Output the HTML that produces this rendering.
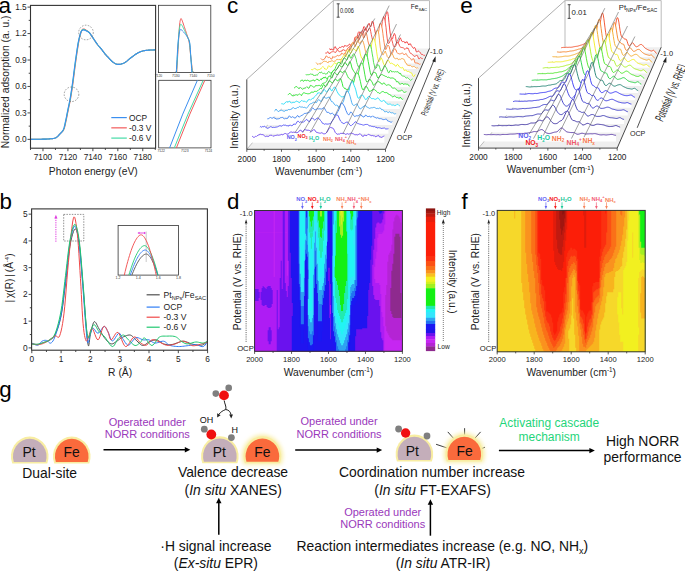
<!DOCTYPE html>
<html><head><meta charset="utf-8"><style>html,body{margin:0;padding:0;background:#fff;width:685px;height:573px;overflow:hidden}svg{display:block;font-family:"Liberation Sans",sans-serif}</style></head>
<body><svg width="685" height="573" viewBox="0 0 685 573" font-family="'Liberation Sans', sans-serif">
<defs><filter id="blur2" x="-50%" y="-50%" width="200%" height="200%"><feGaussianBlur stdDeviation="2.2"/></filter></defs>
<rect width="685" height="573" fill="#fff"/>
<polyline points="30.5,139.35 31.91,139.33 33.92,139.31 36.27,139.28 38.72,139.25 41.04,139.22 42.98,139.17 44.55,139.13 45.98,139.08 47.26,139.02 48.43,138.96 49.49,138.89 50.46,138.82 51.31,138.75 52.03,138.68 52.64,138.61 53.19,138.52 53.69,138.42 54.2,138.29 54.68,138.16 55.1,138.03 55.49,137.88 55.87,137.69 56.26,137.46 56.7,137.15 57.17,136.76 57.66,136.31 58.17,135.81 58.69,135.26 59.24,134.67 59.82,134.06 60.45,133.44 61.13,132.82 61.84,132.16 62.54,131.43 63.19,130.61 63.75,129.65 64.2,128.59 64.57,127.43 64.9,126.18 65.2,124.82 65.51,123.34 65.87,121.72 66.27,119.89 66.69,117.83 67.12,115.66 67.55,113.46 67.97,111.33 68.36,109.38 68.72,107.67 69.05,106.15 69.37,104.7 69.68,103.21 70.01,101.57 70.36,99.68 70.73,97.57 71.1,95.34 71.49,92.96 71.89,90.41 72.3,87.66 72.73,84.7 73.18,81.39 73.65,77.74 74.14,73.9 74.63,70.01 75.12,66.21 75.6,62.66 76.07,59.25 76.56,55.85 77.04,52.54 77.51,49.43 77.94,46.6 78.34,44.15 78.69,42.15 79,40.53 79.29,39.2 79.55,38.05 79.82,36.99 80.09,35.9 80.36,34.82 80.64,33.8 80.9,32.87 81.17,32.04 81.44,31.3 81.71,30.67 81.98,30.15 82.23,29.74 82.49,29.43 82.76,29.21 83.06,29.06 83.39,28.99 83.77,29 84.17,29.1 84.61,29.29 85.06,29.53 85.53,29.81 86.01,30.11 86.53,30.44 87.07,30.81 87.64,31.21 88.2,31.65 88.75,32.12 89.26,32.62 89.73,33.15 90.18,33.72 90.61,34.32 91.03,34.95 91.45,35.58 91.88,36.21 92.3,36.84 92.72,37.48 93.14,38.12 93.57,38.78 94.02,39.46 94.5,40.18 95.01,40.94 95.55,41.75 96.11,42.58 96.69,43.41 97.27,44.24 97.87,45.03 98.47,45.78 99.08,46.51 99.71,47.23 100.35,47.95 100.98,48.68 101.61,49.44 102.24,50.23 102.87,51.07 103.51,51.92 104.14,52.75 104.76,53.55 105.35,54.29 105.92,54.95 106.45,55.55 106.98,56.12 107.5,56.67 108.04,57.23 108.59,57.81 109.18,58.44 109.78,59.09 110.39,59.75 111.01,60.38 111.62,60.98 112.21,61.51 112.79,61.98 113.37,62.41 113.94,62.8 114.5,63.15 115.05,63.45 115.58,63.72 116.08,63.94 116.56,64.11 117.03,64.24 117.49,64.33 117.96,64.39 118.45,64.42 118.95,64.42 119.45,64.38 119.95,64.31 120.47,64.2 121.01,64.06 121.57,63.89 122.14,63.71 122.72,63.51 123.32,63.27 123.95,62.99 124.61,62.64 125.31,62.22 126.07,61.69 126.88,61.06 127.73,60.36 128.59,59.64 129.45,58.92 130.3,58.25 131.13,57.61 131.96,56.96 132.8,56.32 133.63,55.7 134.46,55.11 135.29,54.55 136.12,54.02 136.95,53.51 137.79,53.03 138.62,52.59 139.45,52.18 140.28,51.82 141.11,51.5 141.94,51.24 142.78,51.01 143.61,50.82 144.44,50.65 145.27,50.49 146.1,50.37 146.93,50.27 147.77,50.2 148.6,50.15 149.43,50.1 150.26,50.05 151.15,50.01 152.11,49.97 153.07,49.94 153.96,49.91 154.71,49.89 155.25,49.88" fill="none" stroke="#f25a5a" stroke-width="1.1" stroke-linejoin="round" />
<polyline points="30.5,139.35 31.91,139.33 33.92,139.31 36.27,139.28 38.72,139.25 41.04,139.22 42.98,139.17 44.55,139.13 45.98,139.08 47.26,139.02 48.43,138.96 49.49,138.89 50.46,138.82 51.31,138.75 52.03,138.68 52.64,138.61 53.19,138.52 53.69,138.42 54.2,138.29 54.68,138.16 55.1,138.03 55.49,137.88 55.87,137.69 56.26,137.46 56.7,137.15 57.17,136.76 57.67,136.31 58.18,135.81 58.71,135.26 59.26,134.67 59.82,134.06 60.42,133.44 61.06,132.82 61.72,132.16 62.36,131.43 62.97,130.61 63.5,129.65 63.94,128.59 64.3,127.43 64.63,126.18 64.94,124.82 65.26,123.34 65.62,121.72 66.02,119.89 66.44,117.83 66.87,115.66 67.3,113.46 67.72,111.33 68.11,109.38 68.47,107.67 68.8,106.15 69.12,104.7 69.43,103.21 69.76,101.57 70.11,99.68 70.48,97.57 70.85,95.34 71.24,92.96 71.64,90.41 72.05,87.66 72.48,84.7 72.93,81.39 73.4,77.74 73.89,73.9 74.38,70.01 74.87,66.21 75.35,62.66 75.82,59.25 76.31,55.84 76.79,52.53 77.26,49.42 77.69,46.59 78.09,44.15 78.44,42.16 78.75,40.57 79.04,39.26 79.3,38.14 79.57,37.11 79.84,36.06 80.11,35 80.38,34.02 80.64,33.13 80.9,32.32 81.17,31.62 81.46,31.02 81.76,30.53 82.06,30.16 82.36,29.89 82.69,29.71 83.03,29.59 83.39,29.52 83.78,29.51 84.19,29.59 84.62,29.74 85.07,29.94 85.53,30.18 86.01,30.43 86.53,30.71 87.07,31.03 87.64,31.38 88.2,31.76 88.75,32.19 89.26,32.65 89.73,33.16 90.18,33.73 90.61,34.32 91.03,34.95 91.45,35.58 91.88,36.21 92.3,36.84 92.72,37.47 93.14,38.12 93.57,38.78 94.02,39.46 94.5,40.18 95.01,40.94 95.55,41.75 96.11,42.58 96.69,43.41 97.27,44.24 97.87,45.03 98.47,45.78 99.08,46.51 99.71,47.23 100.35,47.95 100.98,48.68 101.61,49.44 102.24,50.23 102.87,51.07 103.51,51.92 104.14,52.75 104.76,53.55 105.35,54.29 105.92,54.95 106.45,55.55 106.98,56.12 107.5,56.67 108.04,57.23 108.59,57.81 109.18,58.44 109.78,59.09 110.39,59.75 111.01,60.38 111.62,60.98 112.21,61.51 112.79,61.98 113.37,62.41 113.94,62.8 114.5,63.15 115.05,63.45 115.58,63.72 116.08,63.94 116.56,64.11 117.03,64.24 117.49,64.33 117.96,64.39 118.45,64.42 118.95,64.42 119.45,64.38 119.95,64.31 120.47,64.2 121.01,64.06 121.57,63.89 122.14,63.71 122.72,63.51 123.32,63.27 123.95,62.99 124.61,62.64 125.31,62.22 126.07,61.69 126.88,61.06 127.73,60.36 128.59,59.64 129.45,58.92 130.3,58.25 131.13,57.61 131.96,56.96 132.8,56.32 133.63,55.7 134.46,55.11 135.29,54.55 136.12,54.02 136.95,53.51 137.79,53.03 138.62,52.59 139.45,52.18 140.28,51.82 141.11,51.5 141.94,51.24 142.78,51.01 143.61,50.82 144.44,50.65 145.27,50.49 146.1,50.37 146.93,50.27 147.77,50.2 148.6,50.15 149.43,50.1 150.26,50.05 151.15,50.01 152.11,49.97 153.07,49.94 153.96,49.91 154.71,49.89 155.25,49.88" fill="none" stroke="#45dba6" stroke-width="1.1" stroke-linejoin="round" />
<polyline points="30.5,139.35 31.91,139.33 33.92,139.31 36.27,139.28 38.72,139.25 41.04,139.22 42.98,139.17 44.55,139.13 45.98,139.08 47.26,139.02 48.43,138.96 49.49,138.89 50.46,138.82 51.31,138.75 52.03,138.68 52.64,138.61 53.19,138.52 53.69,138.42 54.2,138.29 54.68,138.16 55.1,138.03 55.49,137.88 55.87,137.69 56.26,137.46 56.7,137.15 57.18,136.76 57.68,136.31 58.19,135.81 58.73,135.26 59.27,134.67 59.82,134.06 60.39,133.44 61,132.82 61.63,132.16 62.23,131.43 62.8,130.61 63.31,129.65 63.74,128.59 64.1,127.43 64.43,126.18 64.75,124.82 65.07,123.34 65.43,121.72 65.83,119.89 66.25,117.83 66.69,115.66 67.12,113.46 67.53,111.33 67.93,109.38 68.28,107.67 68.61,106.15 68.93,104.7 69.25,103.21 69.57,101.57 69.92,99.68 70.29,97.57 70.66,95.34 71.05,92.96 71.45,90.41 71.86,87.66 72.29,84.7 72.74,81.39 73.22,77.74 73.7,73.9 74.19,70.01 74.68,66.21 75.16,62.66 75.64,59.25 76.12,55.84 76.6,52.52 77.07,49.4 77.51,46.58 77.91,44.15 78.26,42.18 78.57,40.61 78.85,39.33 79.12,38.24 79.38,37.24 79.65,36.21 79.92,35.19 80.18,34.24 80.44,33.38 80.7,32.61 80.98,31.93 81.27,31.37 81.59,30.92 81.92,30.59 82.27,30.36 82.63,30.2 83.01,30.11 83.39,30.04 83.79,30.03 84.21,30.08 84.63,30.19 85.08,30.35 85.54,30.54 86.01,30.75 86.53,30.98 87.07,31.25 87.64,31.54 88.2,31.88 88.75,32.26 89.26,32.69 89.73,33.18 90.18,33.73 90.61,34.32 91.03,34.95 91.45,35.58 91.88,36.21 92.3,36.84 92.72,37.47 93.14,38.12 93.57,38.78 94.02,39.46 94.5,40.18 95.01,40.94 95.55,41.75 96.11,42.58 96.69,43.41 97.27,44.24 97.87,45.03 98.47,45.78 99.08,46.51 99.71,47.23 100.35,47.95 100.98,48.68 101.61,49.44 102.24,50.23 102.87,51.07 103.51,51.92 104.14,52.75 104.76,53.55 105.35,54.29 105.92,54.95 106.45,55.55 106.98,56.12 107.5,56.67 108.04,57.23 108.59,57.81 109.18,58.44 109.78,59.09 110.39,59.75 111.01,60.38 111.62,60.98 112.21,61.51 112.79,61.98 113.37,62.41 113.94,62.8 114.5,63.15 115.05,63.45 115.58,63.72 116.08,63.94 116.56,64.11 117.03,64.24 117.49,64.33 117.96,64.39 118.45,64.42 118.95,64.42 119.45,64.38 119.95,64.31 120.47,64.2 121.01,64.06 121.57,63.89 122.14,63.71 122.72,63.51 123.32,63.27 123.95,62.99 124.61,62.64 125.31,62.22 126.07,61.69 126.88,61.06 127.73,60.36 128.59,59.64 129.45,58.92 130.3,58.25 131.13,57.61 131.96,56.96 132.8,56.32 133.63,55.7 134.46,55.11 135.29,54.55 136.12,54.02 136.95,53.51 137.79,53.03 138.62,52.59 139.45,52.18 140.28,51.82 141.11,51.5 141.94,51.24 142.78,51.01 143.61,50.82 144.44,50.65 145.27,50.49 146.1,50.37 146.93,50.27 147.77,50.2 148.6,50.15 149.43,50.1 150.26,50.05 151.15,50.01 152.11,49.97 153.07,49.94 153.96,49.91 154.71,49.89 155.25,49.88" fill="none" stroke="#3b8ff0" stroke-width="1.1" stroke-linejoin="round" />
<circle cx="86" cy="32.5" r="7.3" fill="none" stroke="#777" stroke-width="0.7" stroke-dasharray="1.6,1.4"/>
<circle cx="71.5" cy="94.3" r="7.3" fill="none" stroke="#777" stroke-width="0.7" stroke-dasharray="1.6,1.4"/>
<rect x="30.5" y="5.4" width="125.1" height="142.8" fill="none" stroke="#333" stroke-width="1.1"/>
<line x1="27.5" y1="139.35" x2="30.5" y2="139.35" stroke="#333" stroke-width="0.9" />
<text x="26.7" y="142.25" font-size="8.3" text-anchor="end" fill="#222" >0.0</text>
<line x1="28.7" y1="126.13" x2="30.5" y2="126.13" stroke="#333" stroke-width="0.9" />
<line x1="27.5" y1="112.91" x2="30.5" y2="112.91" stroke="#333" stroke-width="0.9" />
<text x="26.7" y="115.81" font-size="8.3" text-anchor="end" fill="#222" >0.3</text>
<line x1="28.7" y1="99.68" x2="30.5" y2="99.68" stroke="#333" stroke-width="0.9" />
<line x1="27.5" y1="86.46" x2="30.5" y2="86.46" stroke="#333" stroke-width="0.9" />
<text x="26.7" y="89.36" font-size="8.3" text-anchor="end" fill="#222" >0.6</text>
<line x1="28.7" y1="73.24" x2="30.5" y2="73.24" stroke="#333" stroke-width="0.9" />
<line x1="27.5" y1="60.02" x2="30.5" y2="60.02" stroke="#333" stroke-width="0.9" />
<text x="26.7" y="62.91" font-size="8.3" text-anchor="end" fill="#222" >0.9</text>
<line x1="28.7" y1="46.79" x2="30.5" y2="46.79" stroke="#333" stroke-width="0.9" />
<line x1="27.5" y1="33.57" x2="30.5" y2="33.57" stroke="#333" stroke-width="0.9" />
<text x="26.7" y="36.47" font-size="8.3" text-anchor="end" fill="#222" >1.2</text>
<line x1="28.7" y1="20.35" x2="30.5" y2="20.35" stroke="#333" stroke-width="0.9" />
<line x1="27.5" y1="7.12" x2="30.5" y2="7.12" stroke="#333" stroke-width="0.9" />
<text x="26.7" y="10.02" font-size="8.3" text-anchor="end" fill="#222" >1.5</text>
<line x1="30.5" y1="148.2" x2="30.5" y2="150" stroke="#333" stroke-width="0.9" />
<line x1="42.98" y1="148.2" x2="42.98" y2="151.2" stroke="#333" stroke-width="0.9" />
<text x="42.98" y="159.8" font-size="8.3" text-anchor="middle" fill="#222" >7100</text>
<line x1="55.45" y1="148.2" x2="55.45" y2="150" stroke="#333" stroke-width="0.9" />
<line x1="67.93" y1="148.2" x2="67.93" y2="151.2" stroke="#333" stroke-width="0.9" />
<text x="67.93" y="159.8" font-size="8.3" text-anchor="middle" fill="#222" >7120</text>
<line x1="80.4" y1="148.2" x2="80.4" y2="150" stroke="#333" stroke-width="0.9" />
<line x1="92.88" y1="148.2" x2="92.88" y2="151.2" stroke="#333" stroke-width="0.9" />
<text x="92.88" y="159.8" font-size="8.3" text-anchor="middle" fill="#222" >7140</text>
<line x1="105.35" y1="148.2" x2="105.35" y2="150" stroke="#333" stroke-width="0.9" />
<line x1="117.83" y1="148.2" x2="117.83" y2="151.2" stroke="#333" stroke-width="0.9" />
<text x="117.83" y="159.8" font-size="8.3" text-anchor="middle" fill="#222" >7160</text>
<line x1="130.3" y1="148.2" x2="130.3" y2="150" stroke="#333" stroke-width="0.9" />
<line x1="142.78" y1="148.2" x2="142.78" y2="151.2" stroke="#333" stroke-width="0.9" />
<text x="142.78" y="159.8" font-size="8.3" text-anchor="middle" fill="#222" >7180</text>
<line x1="155.25" y1="148.2" x2="155.25" y2="150" stroke="#333" stroke-width="0.9" />
<text x="93.3" y="174.8" font-size="10.25" text-anchor="middle" fill="#222" >Photon energy (eV)</text>
<text x="9.4" y="81.9" font-size="10.3" text-anchor="middle" fill="#222" transform="rotate(-90 9.4 81.9)">Normalized adsorption (a. u.)</text>
<line x1="111.3" y1="117.6" x2="126.8" y2="117.6" stroke="#3b8ff0" stroke-width="1.2" />
<text x="129" y="120.5" font-size="8.35" fill="#222" >OCP</text>
<line x1="111.3" y1="127.85" x2="126.8" y2="127.85" stroke="#f25a5a" stroke-width="1.2" />
<text x="129" y="130.75" font-size="8.35" fill="#222" >-0.3 V</text>
<line x1="111.3" y1="138.1" x2="126.8" y2="138.1" stroke="#45dba6" stroke-width="1.2" />
<text x="129" y="141" font-size="8.35" fill="#222" >-0.6 V</text>
<rect x="158.4" y="5.3" width="52.4" height="67.3" fill="#fff" stroke="#333" stroke-width="0.8"/>
<polyline points="176.7,72.6 176.88,69.5 177.13,65.13 177.43,59.99 177.74,54.59 178.04,49.42 178.3,45 178.52,41.2 178.73,37.59 178.93,34.22 179.11,31.13 179.3,28.38 179.5,26 179.7,24.03 179.9,22.44 180.09,21.18 180.29,20.2 180.49,19.46 180.7,18.9 180.9,18.57 181.09,18.53 181.29,18.71 181.5,19.09 181.73,19.6 182,20.2 182.31,20.94 182.64,21.85 183.01,22.91 183.39,24.06 183.79,25.27 184.2,26.5 184.64,27.79 185.11,29.2 185.61,30.66 186.1,32.13 186.57,33.56 187,34.9 187.4,36.08 187.77,37.11 188.13,38.11 188.47,39.17 188.79,40.4 189.1,41.9 189.38,43.68 189.63,45.65 189.86,47.79 190.09,50.07 190.33,52.49 190.6,55 190.93,57.88 191.3,61.19 191.69,64.62 192.06,67.87 192.38,70.63 192.6,72.6" fill="none" stroke="#f25a5a" stroke-width="1.0" stroke-linejoin="round" />
<polyline points="176.5,72.6 176.68,69.46 176.93,65.01 177.22,59.8 177.53,54.36 177.83,49.25 178.1,45 178.33,41.53 178.56,38.39 178.77,35.56 178.98,33.06 179.19,30.87 179.4,29 179.61,27.5 179.82,26.39 180.03,25.6 180.24,25.05 180.47,24.68 180.7,24.4 180.94,24.27 181.19,24.37 181.44,24.63 181.71,25.02 182,25.49 182.3,26 182.62,26.56 182.97,27.23 183.32,27.98 183.7,28.78 184.09,29.63 184.5,30.5 184.94,31.41 185.41,32.39 185.9,33.4 186.39,34.44 186.86,35.48 187.3,36.5 187.71,37.43 188.11,38.26 188.5,39.09 188.86,40.02 189.2,41.16 189.5,42.6 189.75,44.37 189.96,46.41 190.14,48.64 190.31,51.03 190.49,53.5 190.7,56 190.96,58.77 191.26,61.91 191.57,65.14 191.87,68.18 192.12,70.76 192.3,72.6" fill="none" stroke="#45dba6" stroke-width="1.0" stroke-linejoin="round" />
<polyline points="176.3,72.6 176.48,69.42 176.72,64.87 177.01,59.55 177.32,54.07 177.63,49.02 177.9,45 178.14,42 178.38,39.54 178.61,37.51 178.84,35.81 179.07,34.34 179.3,33 179.53,31.84 179.75,30.95 179.97,30.29 180.2,29.83 180.44,29.51 180.7,29.3 180.97,29.26 181.25,29.44 181.54,29.76 181.84,30.17 182.16,30.61 182.5,31 182.86,31.35 183.24,31.71 183.64,32.09 184.05,32.51 184.47,32.98 184.9,33.5 185.35,34.09 185.83,34.72 186.32,35.41 186.8,36.13 187.27,36.9 187.7,37.7 188.1,38.46 188.49,39.16 188.86,39.91 189.21,40.78 189.52,41.88 189.8,43.3 190.03,45.09 190.21,47.2 190.36,49.52 190.5,51.99 190.64,54.51 190.8,57 190.99,59.67 191.2,62.64 191.41,65.66 191.61,68.49 191.78,70.88 191.9,72.6" fill="none" stroke="#3b8ff0" stroke-width="1.0" stroke-linejoin="round" />
<line x1="158.4" y1="72.6" x2="158.4" y2="71.4" stroke="#333" stroke-width="0.5" />
<text x="158.4" y="77.2" font-size="3.4" text-anchor="middle" fill="#333" >7120</text>
<line x1="175.87" y1="72.6" x2="175.87" y2="71.4" stroke="#333" stroke-width="0.5" />
<text x="175.87" y="77.2" font-size="3.4" text-anchor="middle" fill="#333" >7130</text>
<line x1="193.33" y1="72.6" x2="193.33" y2="71.4" stroke="#333" stroke-width="0.5" />
<text x="193.33" y="77.2" font-size="3.4" text-anchor="middle" fill="#333" >7140</text>
<line x1="210.8" y1="72.6" x2="210.8" y2="71.4" stroke="#333" stroke-width="0.5" />
<text x="210.8" y="77.2" font-size="3.4" text-anchor="middle" fill="#333" >7150</text>
<rect x="158.7" y="80.3" width="52.3" height="67.6" fill="#fff" stroke="#333" stroke-width="0.8"/>
<path d="M169.6,147.9 Q182,114.1 197.4,80.3" fill="none" stroke="#3b8ff0" stroke-width="1.0"/>
<path d="M174.3,147.9 Q187.25,114.1 203.2,80.3" fill="none" stroke="#45dba6" stroke-width="1.0"/>
<path d="M176.4,147.9 Q189.1,114.1 204.8,80.3" fill="none" stroke="#f25a5a" stroke-width="1.0"/>
<text x="161.2" y="152" font-size="3.4" text-anchor="middle" fill="#333" >7122</text>
<text x="184.8" y="152" font-size="3.4" text-anchor="middle" fill="#333" >7123</text>
<text x="208.4" y="152" font-size="3.4" text-anchor="middle" fill="#333" >7124</text>
<text x="-1.6" y="12.5" font-size="22.5" fill="#000" >a</text>
<polyline points="31.8,343.62 32.44,343.74 33.32,343.93 34.36,344.14 35.49,344.32 36.62,344.43 37.66,344.42 38.64,344.27 39.61,344.01 40.59,343.67 41.57,343.29 42.54,342.91 43.52,342.55 44.5,342.25 45.47,342 46.45,341.73 47.43,341.41 48.4,340.99 49.38,340.41 50.36,339.79 51.33,339.2 52.31,338.5 53.29,337.58 54.26,336.29 55.24,334.52 56.23,332.3 57.25,329.73 58.26,326.8 59.26,323.51 60.21,319.84 61.1,315.8 61.92,311.29 62.67,306.29 63.39,300.92 64.08,295.29 64.78,289.51 65.5,283.7 66.22,277.54 66.93,270.87 67.64,264.06 68.36,257.45 69.11,251.39 69.89,246.25 70.73,241.82 71.63,237.78 72.55,234.3 73.46,231.54 74.34,229.67 75.16,228.86 75.92,229.13 76.63,230.35 77.31,232.46 77.96,235.4 78.61,239.13 79.27,243.57 79.93,249.14 80.59,255.96 81.24,263.55 81.88,271.46 82.49,279.23 83.08,286.38 83.62,293.11 84.14,299.83 84.63,306.4 85.1,312.69 85.56,318.54 86.01,323.82 86.43,328.76 86.84,333.51 87.23,337.84 87.61,341.48 87.98,344.2 88.35,345.76 88.69,345.83 88.99,344.53 89.28,342.32 89.6,339.62 89.96,336.87 90.4,334.52 90.92,332.24 91.5,329.61 92.12,326.93 92.79,324.52 93.49,322.67 94.21,321.69 94.96,321.74 95.75,322.61 96.57,324.04 97.42,325.79 98.3,327.58 99.19,329.17 100.11,330.67 101.07,332.31 102.05,333.99 103.04,335.64 104.05,337.19 105.05,338.54 106.07,339.75 107.1,340.92 108.14,341.96 109.18,342.85 110.21,343.51 111.2,343.89 112.16,343.92 113.09,343.64 114,343.14 114.91,342.5 115.83,341.83 116.77,341.21 117.71,340.6 118.64,339.9 119.57,339.17 120.54,338.45 121.55,337.78 122.63,337.2 123.82,336.65 125.12,336.09 126.46,335.58 127.8,335.19 129.08,334.99 130.25,335.06 131.28,335.45 132.21,336.12 133.09,336.98 133.95,337.95 134.84,338.95 135.81,339.88 136.87,340.87 137.99,342.02 139.13,343.2 140.29,344.26 141.43,345.07 142.55,345.49 143.64,345.42 144.69,344.96 145.74,344.24 146.8,343.41 147.88,342.62 149,342.01 150.17,341.51 151.38,340.97 152.61,340.48 153.85,340.08 155.09,339.86 156.33,339.88 157.55,340.22 158.77,340.88 159.99,341.7 161.21,342.56 162.43,343.33 163.65,343.89 164.87,344.24 166.09,344.5 167.31,344.67 168.53,344.76 169.75,344.76 170.98,344.69 172.21,344.49 173.47,344.16 174.73,343.75 175.97,343.31 177.16,342.89 178.3,342.55 179.34,342.23 180.31,341.9 181.23,341.58 182.15,341.33 183.12,341.19 184.16,341.21 185.3,341.44 186.49,341.86 187.73,342.38 188.99,342.95 190.25,343.47 191.49,343.89 192.74,344.21 194.04,344.5 195.33,344.76 196.59,344.97 197.76,345.13 198.81,345.22 199.71,345.28 200.49,345.29 201.19,345.26 201.85,345.16 202.51,344.97 203.21,344.69 203.99,344.24 204.83,343.62 205.68,342.92 206.46,342.22 207.12,341.62 207.6,341.21" fill="none" stroke="#505050" stroke-width="1.0" stroke-linejoin="round" />
<polyline points="31.8,343.08 32.45,343.39 33.37,343.87 34.46,344.41 35.6,344.89 36.7,345.2 37.66,345.22 38.48,344.88 39.23,344.22 39.95,343.4 40.64,342.54 41.34,341.77 42.05,341.21 42.79,340.85 43.52,340.58 44.25,340.39 44.98,340.3 45.72,340.31 46.45,340.41 47.18,340.77 47.92,341.41 48.65,342.15 49.38,342.8 50.11,343.17 50.84,343.08 51.56,342.62 52.26,341.94 52.95,340.98 53.67,339.69 54.42,338 55.24,335.86 56.15,333.26 57.14,330.23 58.17,326.8 59.2,323.01 60.19,318.89 61.1,314.46 61.92,309.63 62.67,304.36 63.39,298.75 64.08,292.91 64.78,286.97 65.5,281.02 66.22,274.78 66.95,268.1 67.67,261.3 68.4,254.72 69.14,248.7 69.89,243.57 70.66,239.14 71.45,235.1 72.25,231.62 73.05,228.86 73.83,227 74.58,226.19 75.3,226.52 76.01,227.87 76.7,230.12 77.38,233.12 78.04,236.76 78.68,240.9 79.3,245.76 79.91,251.5 80.49,257.87 81.07,264.63 81.63,271.54 82.2,278.35 82.76,285.42 83.32,293.01 83.88,300.75 84.42,308.27 84.94,315.19 85.42,321.15 85.86,326.31 86.25,331.01 86.63,335.11 86.99,338.49 87.37,341.01 87.76,342.55 88.18,342.72 88.61,341.54 89.04,339.51 89.49,337.11 89.94,334.84 90.4,333.19 90.85,332.01 91.29,330.89 91.74,329.89 92.21,329.1 92.74,328.57 93.33,328.37 93.99,328.75 94.71,329.69 95.47,330.9 96.28,332.08 97.13,332.94 98.02,333.19 98.99,332.6 100.05,331.36 101.15,329.81 102.24,328.26 103.26,327.05 104.17,326.5 104.93,326.65 105.59,327.25 106.19,328.19 106.75,329.34 107.34,330.6 107.98,331.85 108.65,333.34 109.33,335.23 110.01,337.22 110.74,339.02 111.52,340.36 112.38,340.94 113.36,340.48 114.47,339.12 115.63,337.3 116.79,335.43 117.88,333.92 118.82,333.19 119.58,333.31 120.21,333.95 120.76,334.96 121.31,336.17 121.91,337.42 122.63,338.54 123.47,339.74 124.38,341.19 125.34,342.68 126.35,344 127.4,344.92 128.49,345.22 129.63,344.69 130.82,343.42 132.06,341.76 133.32,340.04 134.58,338.59 135.81,337.73 137.05,337.56 138.31,337.81 139.57,338.34 140.81,338.96 142,339.53 143.14,339.88 144.2,339.96 145.2,339.91 146.16,339.81 147.1,339.72 148.04,339.71 149,339.88 149.94,340.28 150.84,340.9 151.75,341.6 152.69,342.27 153.71,342.81 154.86,343.08 156.19,343 157.68,342.62 159.25,342.1 160.83,341.59 162.32,341.24 163.65,341.21 164.76,341.57 165.71,342.21 166.58,343.02 167.45,343.87 168.4,344.64 169.51,345.22 170.81,345.63 172.22,345.95 173.72,346.19 175.26,346.37 176.8,346.49 178.3,346.56 179.77,346.56 181.23,346.46 182.69,346.31 184.16,346.13 185.63,345.93 187.09,345.76 188.57,345.56 190.07,345.31 191.58,345.06 193.06,344.84 194.5,344.7 195.88,344.69 197.22,344.92 198.54,345.36 199.82,345.89 201.03,346.36 202.17,346.63 203.21,346.56 204.16,346.03 205.05,345.12 205.86,344 206.57,342.87 207.16,341.88 207.6,341.21" fill="none" stroke="#2f7df5" stroke-width="1.0" stroke-linejoin="round" />
<polyline points="31.8,343.89 32.44,344 33.32,344.17 34.36,344.37 35.49,344.55 36.62,344.67 37.66,344.69 38.64,344.62 39.61,344.48 40.59,344.29 41.57,344.04 42.54,343.72 43.52,343.35 44.5,342.9 45.47,342.37 46.45,341.78 47.43,341.15 48.4,340.51 49.38,339.88 50.37,339.19 51.39,338.43 52.4,337.65 53.4,336.92 54.35,336.31 55.24,335.86 56.06,335.89 56.81,336.41 57.53,337.03 58.22,337.4 58.92,337.13 59.64,335.86 60.37,333.71 61.1,331.01 61.83,327.67 62.57,323.63 63.3,318.8 64.03,313.12 64.76,306.2 65.47,298.02 66.19,289.05 66.92,279.79 67.66,270.71 68.42,262.3 69.23,253.88 70.09,244.91 70.95,236.14 71.81,228.27 72.64,222.04 73.41,218.16 74.12,216.85 74.78,217.57 75.42,219.92 76.03,223.51 76.63,227.96 77.22,232.88 77.79,238.67 78.35,245.75 78.9,253.69 79.43,262.05 79.94,270.41 80.44,278.35 80.91,286.26 81.35,294.57 81.77,302.88 82.2,310.79 82.63,317.9 83.08,323.82 83.55,328.54 84.03,332.37 84.52,335.39 85.02,337.73 85.51,339.45 86.01,340.68 86.49,341.16 86.97,340.78 87.45,339.79 87.94,338.47 88.43,337.07 88.94,335.86 89.42,334.55 89.89,332.86 90.36,331.1 90.88,329.56 91.46,328.55 92.16,328.37 92.99,329.48 93.93,331.72 94.94,334.49 95.99,337.18 97.03,339.18 98.02,339.88 98.98,338.87 99.94,336.57 100.89,333.57 101.83,330.49 102.73,327.93 103.59,326.5 104.4,326.28 105.18,326.8 105.93,327.84 106.65,329.17 107.33,330.59 107.98,331.85 108.54,333.21 109.01,334.9 109.45,336.66 109.91,338.25 110.48,339.4 111.2,339.88 112.11,339.27 113.16,337.73 114.3,335.75 115.5,333.85 116.73,332.56 117.94,332.38 119.15,333.77 120.38,336.39 121.64,339.61 122.92,342.8 124.23,345.33 125.56,346.56 126.95,346.16 128.41,344.55 129.9,342.28 131.37,339.89 132.77,337.93 134.06,336.93 135.22,337.02 136.29,337.78 137.3,338.97 138.27,340.33 139.23,341.61 140.21,342.55 141.2,343.26 142.19,343.96 143.16,344.57 144.13,345.04 145.1,345.28 146.07,345.22 147.05,344.72 148.02,343.79 149,342.63 149.98,341.46 150.95,340.47 151.93,339.88 152.87,339.68 153.77,339.73 154.68,339.96 155.62,340.32 156.64,340.76 157.79,341.21 159.09,341.79 160.5,342.55 162,343.39 163.54,344.18 165.08,344.83 166.58,345.22 168.08,345.33 169.62,345.22 171.16,344.97 172.66,344.63 174.07,344.25 175.37,343.89 176.52,343.47 177.54,342.95 178.48,342.38 179.39,341.86 180.29,341.44 181.23,341.21 182.21,341.18 183.18,341.29 184.16,341.51 185.14,341.82 186.11,342.17 187.09,342.55 188.03,343.04 188.93,343.67 189.84,344.36 190.78,345 191.8,345.5 192.95,345.76 194.28,345.74 195.77,345.51 197.34,345.14 198.92,344.7 200.41,344.26 201.74,343.89 202.95,343.55 204.13,343.19 205.22,342.83 206.19,342.5 207,342.22 207.6,342.01" fill="none" stroke="#f04848" stroke-width="1.0" stroke-linejoin="round" />
<polyline points="31.8,344.15 32.44,344.17 33.32,344.21 34.36,344.26 35.49,344.27 36.62,344.25 37.66,344.15 38.64,343.99 39.61,343.78 40.59,343.52 41.57,343.22 42.54,342.9 43.52,342.55 44.5,342.21 45.47,341.89 46.45,341.53 47.43,341.1 48.4,340.57 49.38,339.88 50.36,339.18 51.33,338.54 52.31,337.79 53.29,336.75 54.26,335.28 55.24,333.19 56.23,330.47 57.25,327.24 58.26,323.57 59.26,319.52 60.21,315.12 61.1,310.45 61.92,305.35 62.67,299.75 63.39,293.81 64.08,287.71 64.78,281.61 65.5,275.67 66.22,269.67 66.94,263.41 67.66,257.15 68.38,251.14 69.12,245.64 69.89,240.9 70.69,236.7 71.53,232.8 72.38,229.4 73.23,226.71 74.07,224.95 74.87,224.31 75.64,224.86 76.4,226.42 77.14,228.9 77.87,232.2 78.57,236.23 79.27,240.9 79.94,246.52 80.6,253.22 81.24,260.66 81.87,268.46 82.48,276.26 83.08,283.7 83.66,291.2 84.23,299.13 84.78,307.06 85.31,314.55 85.82,321.18 86.3,326.5 86.74,330.45 87.14,333.36 87.52,335.39 87.89,336.73 88.26,337.55 88.64,338 89.02,337.83 89.39,336.85 89.76,335.34 90.14,333.59 90.54,331.89 90.99,330.51 91.45,329.29 91.93,327.95 92.43,326.65 92.97,325.56 93.56,324.83 94.21,324.63 94.93,325.1 95.72,326.14 96.55,327.55 97.42,329.12 98.31,330.62 99.19,331.85 100.06,332.77 100.93,333.53 101.81,334.24 102.73,334.98 103.7,335.85 104.76,336.93 105.93,338.48 107.21,340.46 108.55,342.57 109.89,344.49 111.18,345.93 112.38,346.56 113.46,346.19 114.48,345.03 115.45,343.37 116.39,341.53 117.31,339.82 118.23,338.54 119.15,337.6 120.05,336.73 120.93,336 121.79,335.44 122.65,335.11 123.51,335.06 124.34,335.37 125.14,336.02 125.93,336.9 126.73,337.9 127.58,338.93 128.49,339.88 129.49,340.86 130.57,342.01 131.69,343.17 132.82,344.22 133.91,345.04 134.94,345.49 135.89,345.52 136.81,345.21 137.7,344.66 138.56,343.97 139.4,343.23 140.21,342.55 140.96,341.75 141.63,340.71 142.28,339.62 142.96,338.69 143.71,338.08 144.61,338 145.66,338.74 146.83,340.19 148.08,341.98 149.38,343.72 150.68,345.02 151.93,345.49 153.15,344.94 154.37,343.63 155.59,341.88 156.81,340.01 158.03,338.35 159.25,337.2 160.46,336.59 161.64,336.25 162.83,336.11 164.03,336.1 165.27,336.13 166.58,336.13 167.99,336.08 169.51,336.04 171.07,336.05 172.6,336.13 174.06,336.33 175.37,336.66 176.52,337.21 177.54,337.95 178.48,338.8 179.39,339.69 180.29,340.52 181.23,341.21 182.17,341.82 183.07,342.41 183.98,342.95 184.92,343.4 185.94,343.73 187.09,343.89 188.4,343.8 189.86,343.49 191.39,343.05 192.95,342.59 194.47,342.21 195.88,342.01 197.22,342.06 198.54,342.27 199.82,342.57 201.03,342.86 202.17,343.06 203.21,343.08 204.16,342.89 205.05,342.53 205.86,342.08 206.57,341.62 207.16,341.21 207.6,340.94" fill="none" stroke="#20c870" stroke-width="1.0" stroke-linejoin="round" />
<rect x="31.6" y="208.9" width="175.8" height="141.3" fill="none" stroke="#333" stroke-width="1.1"/>
<line x1="28.6" y1="347.9" x2="31.6" y2="347.9" stroke="#333" stroke-width="0.9" />
<text x="27.6" y="350.8" font-size="8.3" text-anchor="end" fill="#222" >0</text>
<line x1="29.8" y1="334.52" x2="31.6" y2="334.52" stroke="#333" stroke-width="0.9" />
<line x1="28.6" y1="321.15" x2="31.6" y2="321.15" stroke="#333" stroke-width="0.9" />
<text x="27.6" y="324.05" font-size="8.3" text-anchor="end" fill="#222" >1</text>
<line x1="29.8" y1="307.77" x2="31.6" y2="307.77" stroke="#333" stroke-width="0.9" />
<line x1="28.6" y1="294.4" x2="31.6" y2="294.4" stroke="#333" stroke-width="0.9" />
<text x="27.6" y="297.3" font-size="8.3" text-anchor="end" fill="#222" >2</text>
<line x1="29.8" y1="281.02" x2="31.6" y2="281.02" stroke="#333" stroke-width="0.9" />
<line x1="28.6" y1="267.65" x2="31.6" y2="267.65" stroke="#333" stroke-width="0.9" />
<text x="27.6" y="270.55" font-size="8.3" text-anchor="end" fill="#222" >3</text>
<line x1="29.8" y1="254.27" x2="31.6" y2="254.27" stroke="#333" stroke-width="0.9" />
<line x1="28.6" y1="240.9" x2="31.6" y2="240.9" stroke="#333" stroke-width="0.9" />
<text x="27.6" y="243.8" font-size="8.3" text-anchor="end" fill="#222" >4</text>
<line x1="29.8" y1="227.52" x2="31.6" y2="227.52" stroke="#333" stroke-width="0.9" />
<line x1="28.6" y1="214.15" x2="31.6" y2="214.15" stroke="#333" stroke-width="0.9" />
<text x="27.6" y="217.05" font-size="8.3" text-anchor="end" fill="#222" >5</text>
<line x1="31.8" y1="350.2" x2="31.8" y2="353.2" stroke="#333" stroke-width="0.9" />
<text x="31.8" y="361.6" font-size="8.3" text-anchor="middle" fill="#222" >0</text>
<line x1="46.45" y1="350.2" x2="46.45" y2="352" stroke="#333" stroke-width="0.9" />
<line x1="61.1" y1="350.2" x2="61.1" y2="353.2" stroke="#333" stroke-width="0.9" />
<text x="61.1" y="361.6" font-size="8.3" text-anchor="middle" fill="#222" >1</text>
<line x1="75.75" y1="350.2" x2="75.75" y2="352" stroke="#333" stroke-width="0.9" />
<line x1="90.4" y1="350.2" x2="90.4" y2="353.2" stroke="#333" stroke-width="0.9" />
<text x="90.4" y="361.6" font-size="8.3" text-anchor="middle" fill="#222" >2</text>
<line x1="105.05" y1="350.2" x2="105.05" y2="352" stroke="#333" stroke-width="0.9" />
<line x1="119.7" y1="350.2" x2="119.7" y2="353.2" stroke="#333" stroke-width="0.9" />
<text x="119.7" y="361.6" font-size="8.3" text-anchor="middle" fill="#222" >3</text>
<line x1="134.35" y1="350.2" x2="134.35" y2="352" stroke="#333" stroke-width="0.9" />
<line x1="149" y1="350.2" x2="149" y2="353.2" stroke="#333" stroke-width="0.9" />
<text x="149" y="361.6" font-size="8.3" text-anchor="middle" fill="#222" >4</text>
<line x1="163.65" y1="350.2" x2="163.65" y2="352" stroke="#333" stroke-width="0.9" />
<line x1="178.3" y1="350.2" x2="178.3" y2="353.2" stroke="#333" stroke-width="0.9" />
<text x="178.3" y="361.6" font-size="8.3" text-anchor="middle" fill="#222" >5</text>
<line x1="192.95" y1="350.2" x2="192.95" y2="352" stroke="#333" stroke-width="0.9" />
<line x1="207.6" y1="350.2" x2="207.6" y2="353.2" stroke="#333" stroke-width="0.9" />
<text x="207.6" y="361.6" font-size="8.3" text-anchor="middle" fill="#222" >6</text>
<text x="120.1" y="375.8" font-size="10.3" text-anchor="middle" fill="#222" >R (Å)</text>
<text x="12.8" y="278" font-size="10" text-anchor="middle" fill="#222" transform="rotate(-90 12.8 278)">|&#8201;χ(R)&#8201;|&#8201;(Å<tspan font-size="6" dy="-3.5">-4</tspan><tspan dy="3.5">)</tspan></text>
<rect x="63.7" y="214.4" width="20.1" height="26.6" fill="none" stroke="#666" stroke-width="0.7" stroke-dasharray="1.5,1.2"/>
<line x1="55.9" y1="217.5" x2="55.9" y2="242.4" stroke="#e040e0" stroke-width="1.0" stroke-dasharray="1.3,1"/>
<polygon points="55.9,214.8 54.3,218.5 57.5,218.5" fill="#e040e0" stroke="none" stroke-width="1" />
<rect x="118.1" y="225.4" width="60.3" height="49.7" fill="#fff" stroke="#333" stroke-width="0.8"/>
<line x1="146.2" y1="231.5" x2="146.2" y2="262" stroke="#bbb" stroke-width="0.8" />
<polyline points="131.9,275.1 132.64,273.19 133.38,271.37 134.12,269.62 134.85,267.96 135.59,266.38 136.33,264.88 137.07,263.48 137.81,262.16 138.55,260.92 139.28,259.78 140.02,258.73 140.76,257.78 141.5,256.92 142.24,256.16 142.98,255.51 143.72,254.96 144.45,254.52 145.19,254.21 145.93,254.03 146.59,254.03 147.17,254.21 147.75,254.52 148.33,254.96 148.91,255.51 149.49,256.16 150.07,256.92 150.65,257.78 151.23,258.73 151.81,259.78 152.38,260.92 152.96,262.16 153.54,263.48 154.12,264.88 154.7,266.38 155.28,267.96 155.86,269.62 156.44,271.37 157.02,273.19 157.6,275.1" fill="none" stroke="#505050" stroke-width="0.9" stroke-linejoin="round" />
<polyline points="130.3,275.1 131.06,272.83 131.83,270.66 132.59,268.58 133.36,266.6 134.12,264.73 134.88,262.95 135.65,261.27 136.41,259.7 137.18,258.24 137.94,256.88 138.71,255.63 139.47,254.49 140.23,253.47 141,252.57 141.76,251.79 142.53,251.14 143.29,250.62 144.05,250.25 144.82,250.03 145.53,250.03 146.18,250.25 146.83,250.62 147.48,251.14 148.13,251.79 148.78,252.57 149.43,253.47 150.08,254.49 150.74,255.63 151.39,256.88 152.04,258.24 152.69,259.7 153.34,261.27 153.99,262.95 154.64,264.73 155.29,266.6 155.95,268.58 156.6,270.66 157.25,272.83 157.9,275.1" fill="none" stroke="#2f7df5" stroke-width="0.9" stroke-linejoin="round" />
<polyline points="128.9,275.1 129.7,272.43 130.5,269.88 131.3,267.44 132.1,265.11 132.9,262.91 133.7,260.82 134.5,258.85 135.3,257 136.1,255.28 136.9,253.68 137.7,252.22 138.5,250.88 139.3,249.68 140.1,248.62 140.9,247.71 141.7,246.94 142.5,246.33 143.3,245.89 144.1,245.64 144.85,245.64 145.54,245.89 146.23,246.33 146.92,246.94 147.62,247.71 148.31,248.62 149,249.68 149.69,250.88 150.38,252.22 151.08,253.68 151.77,255.28 152.46,257 153.15,258.85 153.85,260.82 154.54,262.91 155.23,265.11 155.92,267.44 156.62,269.88 157.31,272.43 158,275.1" fill="none" stroke="#20c870" stroke-width="0.9" stroke-linejoin="round" />
<polyline points="124.3,275.1 125.16,271.46 126.02,267.97 126.88,264.63 127.75,261.46 128.61,258.44 129.47,255.59 130.33,252.9 131.19,250.38 132.05,248.02 132.92,245.84 133.78,243.84 134.64,242.02 135.5,240.38 136.36,238.93 137.22,237.68 138.08,236.63 138.95,235.8 139.81,235.2 140.67,234.86 141.49,234.86 142.26,235.2 143.04,235.8 143.81,236.63 144.58,237.68 145.36,238.93 146.13,240.38 146.91,242.02 147.68,243.84 148.46,245.84 149.23,248.02 150.01,250.38 150.78,252.9 151.55,255.59 152.33,258.44 153.1,261.46 153.88,264.63 154.65,267.97 155.43,271.46 156.2,275.1" fill="none" stroke="#f04848" stroke-width="0.9" stroke-linejoin="round" />
<line x1="138.5" y1="233" x2="145" y2="233" stroke="#e040e0" stroke-width="0.9" />
<polygon points="137.5,233 139.5,231.8 139.5,234.2" fill="#e040e0" stroke="none" stroke-width="1" />
<polygon points="146,233 144,231.8 144,234.2" fill="#e040e0" stroke="none" stroke-width="1" />
<text x="118.1" y="279.2" font-size="3.6" text-anchor="middle" fill="#333" >1.2</text>
<text x="138.2" y="279.2" font-size="3.6" text-anchor="middle" fill="#333" >1.4</text>
<text x="158.3" y="279.2" font-size="3.6" text-anchor="middle" fill="#333" >1.6</text>
<text x="178.4" y="279.2" font-size="3.6" text-anchor="middle" fill="#333" >1.8</text>
<line x1="146.6" y1="294.8" x2="159.7" y2="294.8" stroke="#505050" stroke-width="1.2" />
<text x="163.5" y="297.8" font-size="8.6" fill="#222" >Pt<tspan font-size="5.6" dy="2">NPs</tspan><tspan dy="-2">/Fe</tspan><tspan font-size="5.6" dy="2">SAC</tspan></text>
<line x1="146.6" y1="307.1" x2="159.7" y2="307.1" stroke="#2f7df5" stroke-width="1.2" />
<text x="163.5" y="310.1" font-size="8.6" fill="#222" >OCP</text>
<line x1="146.6" y1="317.2" x2="159.7" y2="317.2" stroke="#f04848" stroke-width="1.2" />
<text x="163.5" y="320.2" font-size="8.6" fill="#222" >-0.3 V</text>
<line x1="146.6" y1="327.2" x2="159.7" y2="327.2" stroke="#20c870" stroke-width="1.2" />
<text x="163.5" y="330.2" font-size="8.6" fill="#222" >-0.6 V</text>
<text x="-0.6" y="208.6" font-size="22.3" fill="#000" >b</text>
<polygon points="246.8,149.3 385.5,149.3 429.5,48.4 333.3,48.4" fill="#efefef" stroke="none" stroke-width="1" />
<line x1="246.8" y1="149.3" x2="333.3" y2="48.4" stroke="#999" stroke-width="0.6" />
<path d="M333.3,48.4 V0.6 H429.5 V48.4" fill="none" stroke="#aaa" stroke-width="0.8"/>
<line x1="246.8" y1="79.4" x2="333.3" y2="0.6" stroke="#999" stroke-width="0.8" />
<polygon points="329.41,48.94 330.01,48.71 330.61,50.04 331.21,48.93 331.82,49.24 332.42,49.96 333.02,49.82 333.62,50.12 334.22,47.33 334.82,47.05 335.43,46.74 336.03,48.55 336.63,48.96 337.23,49.26 337.83,49.25 338.43,48.58 339.03,48.07 339.64,47.29 340.24,47.54 340.84,47.3 341.44,46.88 342.04,46.37 342.64,46.51 343.24,47.26 343.85,47.1 344.45,45.67 345.05,45.54 345.65,45.75 346.25,46.03 346.85,46.13 347.45,45.93 348.06,45.75 348.66,44.73 349.26,44.27 349.86,44.1 350.46,45.58 351.06,44.8 351.67,45.33 352.27,44.41 352.87,44.47 353.47,43.27 354.07,42.28 354.67,42.57 355.27,42.39 355.88,41.41 356.48,38.9 357.08,36.75 357.68,34.44 358.28,32.5 358.88,31.65 359.48,32.05 360.09,33.08 360.69,33.58 361.29,33.35 361.89,32.88 362.49,30.74 363.09,29.31 363.69,26.84 364.3,26.6 364.9,27.44 365.5,29.3 366.1,30.58 366.7,28.28 367.3,27.17 367.91,25.04 368.51,24.23 369.11,23.29 369.71,25.34 370.31,26.8 370.91,26.68 371.51,24.17 372.12,21.31 372.72,21.45 373.32,22.12 373.92,26.25 374.52,28.44 375.12,32.01 375.72,34.28 376.33,37.65 376.93,37.84 377.53,37.91 378.13,37.07 378.73,37.68 379.33,38.15 379.94,39.02 380.54,39.99 381.14,40.22 381.74,38.31 382.34,37.05 382.94,34.45 383.54,31.84 384.15,26.66 384.75,21.28 385.35,17.17 385.95,14.53 386.55,12.83 387.15,11.65 387.75,12.6 388.36,16.47 388.96,22.33 389.56,27.93 390.16,33.04 390.76,36.24 391.36,39.06 391.96,39.37 392.57,38.82 393.17,36.32 393.77,34.85 394.37,33.44 394.97,34.51 395.57,36.36 396.18,41.12 396.78,43.51 397.38,44.83 397.98,42.74 398.58,42.42 399.18,40.08 399.78,38.74 400.39,37.82 400.99,39.22 401.59,41.04 402.19,41.48 402.79,41.75 403.39,41.15 403.99,41.83 404.6,42.06 405.2,43.14 405.8,42.14 406.4,42.15 407,41.55 407.6,43.1 408.21,43.72 408.81,45.04 409.41,43.95 410.01,43.8 410.61,43.91 411.21,45.52 411.81,46.23 412.42,47.06 413.02,47.92 413.62,48.52 414.22,47.46 414.82,47.66 415.42,48.71 416.02,51.08 416.63,52.1 417.23,51.97 417.83,51.33 418.43,51.01 419.03,51.46 419.63,52.18 420.23,52.43 420.84,53.69 421.44,54.28 422.04,54.57 422.64,54.47 423.24,54.75 423.84,55.49 424.45,55.27 425.05,55.02 425.05,53.87 329.41,53.87" fill="#fff" stroke="none" stroke-width="1" />
<polyline points="329.41,48.94 330.01,48.71 330.61,50.04 331.21,48.93 331.82,49.24 332.42,49.96 333.02,49.82 333.62,50.12 334.22,47.33 334.82,47.05 335.43,46.74 336.03,48.55 336.63,48.96 337.23,49.26 337.83,49.25 338.43,48.58 339.03,48.07 339.64,47.29 340.24,47.54 340.84,47.3 341.44,46.88 342.04,46.37 342.64,46.51 343.24,47.26 343.85,47.1 344.45,45.67 345.05,45.54 345.65,45.75 346.25,46.03 346.85,46.13 347.45,45.93 348.06,45.75 348.66,44.73 349.26,44.27 349.86,44.1 350.46,45.58 351.06,44.8 351.67,45.33 352.27,44.41 352.87,44.47 353.47,43.27 354.07,42.28 354.67,42.57 355.27,42.39 355.88,41.41 356.48,38.9 357.08,36.75 357.68,34.44 358.28,32.5 358.88,31.65 359.48,32.05 360.09,33.08 360.69,33.58 361.29,33.35 361.89,32.88 362.49,30.74 363.09,29.31 363.69,26.84 364.3,26.6 364.9,27.44 365.5,29.3 366.1,30.58 366.7,28.28 367.3,27.17 367.91,25.04 368.51,24.23 369.11,23.29 369.71,25.34 370.31,26.8 370.91,26.68 371.51,24.17 372.12,21.31 372.72,21.45 373.32,22.12 373.92,26.25 374.52,28.44 375.12,32.01 375.72,34.28 376.33,37.65 376.93,37.84 377.53,37.91 378.13,37.07 378.73,37.68 379.33,38.15 379.94,39.02 380.54,39.99 381.14,40.22 381.74,38.31 382.34,37.05 382.94,34.45 383.54,31.84 384.15,26.66 384.75,21.28 385.35,17.17 385.95,14.53 386.55,12.83 387.15,11.65 387.75,12.6 388.36,16.47 388.96,22.33 389.56,27.93 390.16,33.04 390.76,36.24 391.36,39.06 391.96,39.37 392.57,38.82 393.17,36.32 393.77,34.85 394.37,33.44 394.97,34.51 395.57,36.36 396.18,41.12 396.78,43.51 397.38,44.83 397.98,42.74 398.58,42.42 399.18,40.08 399.78,38.74 400.39,37.82 400.99,39.22 401.59,41.04 402.19,41.48 402.79,41.75 403.39,41.15 403.99,41.83 404.6,42.06 405.2,43.14 405.8,42.14 406.4,42.15 407,41.55 407.6,43.1 408.21,43.72 408.81,45.04 409.41,43.95 410.01,43.8 410.61,43.91 411.21,45.52 411.81,46.23 412.42,47.06 413.02,47.92 413.62,48.52 414.22,47.46 414.82,47.66 415.42,48.71 416.02,51.08 416.63,52.1 417.23,51.97 417.83,51.33 418.43,51.01 419.03,51.46 419.63,52.18 420.23,52.43 420.84,53.69 421.44,54.28 422.04,54.57 422.64,54.47 423.24,54.75 423.84,55.49 424.45,55.27 425.05,55.02" fill="none" stroke="#f03434" stroke-width="0.9" stroke-linejoin="round" />
<polygon points="325.26,53.02 325.88,53.08 326.49,53.08 327.1,52.53 327.72,51.57 328.33,53.02 328.94,52.88 329.56,53.96 330.17,52.79 330.79,52.77 331.4,51.93 332.01,51.42 332.63,51.72 333.24,51.39 333.86,51.99 334.47,52.07 335.08,52.41 335.7,52.46 336.31,51.19 336.92,50.98 337.54,49.49 338.15,50.48 338.77,51.06 339.38,51.93 339.99,51.4 340.61,51.34 341.22,51.06 341.84,51.25 342.45,49.94 343.06,50.26 343.68,49.5 344.29,50.42 344.9,50.33 345.52,50.96 346.13,50.97 346.75,50.13 347.36,48.96 347.97,47.98 348.59,47.43 349.2,46.81 349.82,46.43 350.43,46.3 351.04,46.88 351.66,47.33 352.27,46.29 352.88,45.87 353.5,43.01 354.11,41.31 354.73,37.84 355.34,36.92 355.95,37.15 356.57,38.27 357.18,39.39 357.8,39.2 358.41,38.23 359.02,35.78 359.64,33.28 360.25,32.08 360.86,32.01 361.48,34.23 362.09,35.36 362.71,36.38 363.32,33.71 363.93,30.88 364.55,29.24 365.16,28.93 365.78,30.32 366.39,31.22 367,31.82 367.62,31.47 368.23,30.19 368.84,28.88 369.46,28.11 370.07,28.28 370.69,31.43 371.3,34.43 371.91,37.34 372.53,39.82 373.14,42.15 373.75,43.59 374.37,43.92 374.98,43.12 375.6,43.3 376.21,43.77 376.82,45.2 377.44,45.3 378.05,43.28 378.67,42.13 379.28,40.5 379.89,39.01 380.51,35.6 381.12,30.36 381.73,26.31 382.35,21.5 382.96,19.08 383.58,16.57 384.19,17.64 384.8,18.96 385.42,23.17 386.03,27.43 386.65,33.93 387.26,38.93 387.87,42.3 388.49,43.48 389.1,43.22 389.71,41.9 390.33,40.31 390.94,39.31 391.56,39.46 392.17,41.03 392.78,43.5 393.4,45.84 394.01,46.88 394.63,46.94 395.24,46.75 395.85,45.76 396.47,43.56 397.08,42.47 397.69,42.47 398.31,43.79 398.92,43.88 399.54,45.86 400.15,46.66 400.76,47.51 401.38,47.53 401.99,47.24 402.61,47.67 403.22,47.55 403.83,48.21 404.45,49.28 405.06,49.36 405.67,48.67 406.29,48.53 406.9,47.55 407.52,48.8 408.13,48.19 408.74,49.68 409.36,51.37 409.97,52.76 410.59,53.28 411.2,53.3 411.81,54.25 412.43,54.69 413.04,54.93 413.65,55.58 414.27,56.55 414.88,56.2 415.5,55.97 416.11,55.51 416.72,55.51 417.34,55.57 417.95,56.92 418.57,58.65 419.18,58.96 419.79,58.21 420.41,57.68 421.02,57.65 421.63,58.57 422.25,58.56 422.86,58.84 422.86,58.54 325.26,58.54" fill="#fff" stroke="none" stroke-width="1" />
<polyline points="325.26,53.02 325.88,53.08 326.49,53.08 327.1,52.53 327.72,51.57 328.33,53.02 328.94,52.88 329.56,53.96 330.17,52.79 330.79,52.77 331.4,51.93 332.01,51.42 332.63,51.72 333.24,51.39 333.86,51.99 334.47,52.07 335.08,52.41 335.7,52.46 336.31,51.19 336.92,50.98 337.54,49.49 338.15,50.48 338.77,51.06 339.38,51.93 339.99,51.4 340.61,51.34 341.22,51.06 341.84,51.25 342.45,49.94 343.06,50.26 343.68,49.5 344.29,50.42 344.9,50.33 345.52,50.96 346.13,50.97 346.75,50.13 347.36,48.96 347.97,47.98 348.59,47.43 349.2,46.81 349.82,46.43 350.43,46.3 351.04,46.88 351.66,47.33 352.27,46.29 352.88,45.87 353.5,43.01 354.11,41.31 354.73,37.84 355.34,36.92 355.95,37.15 356.57,38.27 357.18,39.39 357.8,39.2 358.41,38.23 359.02,35.78 359.64,33.28 360.25,32.08 360.86,32.01 361.48,34.23 362.09,35.36 362.71,36.38 363.32,33.71 363.93,30.88 364.55,29.24 365.16,28.93 365.78,30.32 366.39,31.22 367,31.82 367.62,31.47 368.23,30.19 368.84,28.88 369.46,28.11 370.07,28.28 370.69,31.43 371.3,34.43 371.91,37.34 372.53,39.82 373.14,42.15 373.75,43.59 374.37,43.92 374.98,43.12 375.6,43.3 376.21,43.77 376.82,45.2 377.44,45.3 378.05,43.28 378.67,42.13 379.28,40.5 379.89,39.01 380.51,35.6 381.12,30.36 381.73,26.31 382.35,21.5 382.96,19.08 383.58,16.57 384.19,17.64 384.8,18.96 385.42,23.17 386.03,27.43 386.65,33.93 387.26,38.93 387.87,42.3 388.49,43.48 389.1,43.22 389.71,41.9 390.33,40.31 390.94,39.31 391.56,39.46 392.17,41.03 392.78,43.5 393.4,45.84 394.01,46.88 394.63,46.94 395.24,46.75 395.85,45.76 396.47,43.56 397.08,42.47 397.69,42.47 398.31,43.79 398.92,43.88 399.54,45.86 400.15,46.66 400.76,47.51 401.38,47.53 401.99,47.24 402.61,47.67 403.22,47.55 403.83,48.21 404.45,49.28 405.06,49.36 405.67,48.67 406.29,48.53 406.9,47.55 407.52,48.8 408.13,48.19 408.74,49.68 409.36,51.37 409.97,52.76 410.59,53.28 411.2,53.3 411.81,54.25 412.43,54.69 413.04,54.93 413.65,55.58 414.27,56.55 414.88,56.2 415.5,55.97 416.11,55.51 416.72,55.51 417.34,55.57 417.95,56.92 418.57,58.65 419.18,58.96 419.79,58.21 420.41,57.68 421.02,57.65 421.63,58.57 422.25,58.56 422.86,58.84" fill="none" stroke="#f24a40" stroke-width="0.9" stroke-linejoin="round" />
<polygon points="320.81,58.56 321.44,59.19 322.07,59.72 322.7,59.78 323.32,59.67 323.95,59.34 324.58,58.74 325.2,58.21 325.83,56.26 326.46,56.09 327.08,56.31 327.71,57.33 328.34,57.56 328.97,57.53 329.59,57.31 330.22,57.8 330.85,58.91 331.47,58.98 332.1,58.81 332.73,56.45 333.36,57.06 333.98,57.23 334.61,57.07 335.24,57.15 335.86,56.32 336.49,56.21 337.12,55.45 337.75,55.42 338.37,55.9 339,55.34 339.63,55.49 340.25,55.02 340.88,54.91 341.51,53.11 342.13,53.33 342.76,53.8 343.39,54.32 344.02,54.07 344.64,53.18 345.27,53.17 345.9,52.08 346.52,52.22 347.15,51.96 347.78,53.33 348.41,52.73 349.03,50.79 349.66,48.23 350.29,46.13 350.91,45.58 351.54,43.72 352.17,43.11 352.8,43.79 353.42,44.58 354.05,44.67 354.68,42.62 355.3,41.14 355.93,38.01 356.56,36.61 357.18,36.26 357.81,38.55 358.44,40.29 359.07,40.29 359.69,39.19 360.32,36.51 360.95,34.72 361.57,33.15 362.2,33.93 362.83,35.55 363.46,37.94 364.08,37.69 364.71,35.69 365.34,33.02 365.96,32.31 366.59,34.01 367.22,36.82 367.85,40.81 368.47,42.99 369.1,45.13 369.73,46.52 370.35,48.85 370.98,49.6 371.61,49.04 372.23,48.45 372.86,48.97 373.49,49.12 374.12,48.61 374.74,47.43 375.37,46.94 376,45.61 376.62,43.53 377.25,40.35 377.88,37.34 378.51,32.48 379.13,28.53 379.76,23.79 380.39,23.71 381.01,23.56 381.64,26.13 382.27,28.95 382.9,33.73 383.52,38.77 384.15,42.79 384.78,46.77 385.4,49.28 386.03,49.53 386.66,47.68 387.28,45.9 387.91,45.06 388.54,45.56 389.17,46.53 389.79,49.4 390.42,52.35 391.05,54.12 391.67,54.37 392.3,53.3 392.93,52.1 393.56,50.01 394.18,49.27 394.81,48.53 395.44,49.92 396.06,49.91 396.69,52.13 397.32,52.9 397.95,53.65 398.57,53.58 399.2,53.61 399.83,54.24 400.45,53.82 401.08,53.46 401.71,53.27 402.33,53.05 402.96,53.51 403.59,53.91 404.22,54.92 404.84,54.25 405.47,53.85 406.1,53.51 406.72,54.68 407.35,55.82 407.98,56.6 408.61,57.33 409.23,57.37 409.86,57.94 410.49,58.57 411.11,59.47 411.74,60.31 412.37,59.5 413,58.54 413.62,58.87 414.25,60.05 414.88,62.78 415.5,62.92 416.13,63.21 416.76,62.87 417.38,62.85 418.01,63.88 418.64,63.7 419.27,64.26 419.89,64.11 420.52,64.01 420.52,63.57 320.81,63.57" fill="#fff" stroke="none" stroke-width="1" />
<polyline points="320.81,58.56 321.44,59.19 322.07,59.72 322.7,59.78 323.32,59.67 323.95,59.34 324.58,58.74 325.2,58.21 325.83,56.26 326.46,56.09 327.08,56.31 327.71,57.33 328.34,57.56 328.97,57.53 329.59,57.31 330.22,57.8 330.85,58.91 331.47,58.98 332.1,58.81 332.73,56.45 333.36,57.06 333.98,57.23 334.61,57.07 335.24,57.15 335.86,56.32 336.49,56.21 337.12,55.45 337.75,55.42 338.37,55.9 339,55.34 339.63,55.49 340.25,55.02 340.88,54.91 341.51,53.11 342.13,53.33 342.76,53.8 343.39,54.32 344.02,54.07 344.64,53.18 345.27,53.17 345.9,52.08 346.52,52.22 347.15,51.96 347.78,53.33 348.41,52.73 349.03,50.79 349.66,48.23 350.29,46.13 350.91,45.58 351.54,43.72 352.17,43.11 352.8,43.79 353.42,44.58 354.05,44.67 354.68,42.62 355.3,41.14 355.93,38.01 356.56,36.61 357.18,36.26 357.81,38.55 358.44,40.29 359.07,40.29 359.69,39.19 360.32,36.51 360.95,34.72 361.57,33.15 362.2,33.93 362.83,35.55 363.46,37.94 364.08,37.69 364.71,35.69 365.34,33.02 365.96,32.31 366.59,34.01 367.22,36.82 367.85,40.81 368.47,42.99 369.1,45.13 369.73,46.52 370.35,48.85 370.98,49.6 371.61,49.04 372.23,48.45 372.86,48.97 373.49,49.12 374.12,48.61 374.74,47.43 375.37,46.94 376,45.61 376.62,43.53 377.25,40.35 377.88,37.34 378.51,32.48 379.13,28.53 379.76,23.79 380.39,23.71 381.01,23.56 381.64,26.13 382.27,28.95 382.9,33.73 383.52,38.77 384.15,42.79 384.78,46.77 385.4,49.28 386.03,49.53 386.66,47.68 387.28,45.9 387.91,45.06 388.54,45.56 389.17,46.53 389.79,49.4 390.42,52.35 391.05,54.12 391.67,54.37 392.3,53.3 392.93,52.1 393.56,50.01 394.18,49.27 394.81,48.53 395.44,49.92 396.06,49.91 396.69,52.13 397.32,52.9 397.95,53.65 398.57,53.58 399.2,53.61 399.83,54.24 400.45,53.82 401.08,53.46 401.71,53.27 402.33,53.05 402.96,53.51 403.59,53.91 404.22,54.92 404.84,54.25 405.47,53.85 406.1,53.51 406.72,54.68 407.35,55.82 407.98,56.6 408.61,57.33 409.23,57.37 409.86,57.94 410.49,58.57 411.11,59.47 411.74,60.31 412.37,59.5 413,58.54 413.62,58.87 414.25,60.05 414.88,62.78 415.5,62.92 416.13,63.21 416.76,62.87 417.38,62.85 418.01,63.88 418.64,63.7 419.27,64.26 419.89,64.11 420.52,64.01" fill="none" stroke="#f87a40" stroke-width="0.9" stroke-linejoin="round" />
<polygon points="316.07,62.51 316.71,63.17 317.35,64.26 317.99,64.47 318.63,63.79 319.27,63.67 319.91,64.08 320.56,64.09 321.2,63.54 321.84,62.95 322.48,62.68 323.12,61.7 323.76,61.38 324.4,61.19 325.04,61.47 325.69,61.43 326.33,61.34 326.97,62.38 327.61,62.52 328.25,62.74 328.89,61.25 329.53,61.52 330.17,61.18 330.82,61.68 331.46,60.76 332.1,60.79 332.74,60.92 333.38,61.42 334.02,61.54 334.66,61.14 335.3,61.1 335.94,60.54 336.59,59.46 337.23,59.42 337.87,59.29 338.51,60.08 339.15,59.29 339.79,59.61 340.43,59.57 341.07,59.63 341.72,58.49 342.36,57.86 343,57.73 343.64,57.96 344.28,57 344.92,54.98 345.56,52.85 346.2,51.1 346.85,49.75 347.49,49.19 348.13,49.28 348.77,50.28 349.41,50.48 350.05,50.46 350.69,49.9 351.33,47.45 351.98,44.34 352.62,42.37 353.26,42.64 353.9,44.45 354.54,45.28 355.18,46.67 355.82,45.08 356.46,43.77 357.1,40.59 357.75,40.61 358.39,41.18 359.03,43.11 359.67,43.44 360.31,43.19 360.95,41.81 361.59,40.92 362.23,40.77 362.88,40.98 363.52,42.88 364.16,45.15 364.8,48.17 365.44,51.21 366.08,52.77 366.72,53.44 367.36,53.06 368.01,54.49 368.65,57.25 369.29,58.46 369.93,56.99 370.57,55.56 371.21,54.85 371.85,54.3 372.49,53.11 373.14,50.71 373.78,47.58 374.42,43.14 375.06,38.87 375.7,35.53 376.34,32.32 376.98,30.97 377.62,30.12 378.27,31.07 378.91,34.72 379.55,40.85 380.19,46.99 380.83,50.72 381.47,52.47 382.11,53.7 382.75,54.71 383.39,54.71 384.04,53.04 384.68,51.94 385.32,50.99 385.96,53.09 386.6,54.38 387.24,56.65 387.88,57.43 388.52,57.61 389.17,57.77 389.81,56.84 390.45,55.99 391.09,54.43 391.73,53.61 392.37,54 393.01,55.25 393.65,57.2 394.3,58.18 394.94,58.23 395.58,58.76 396.22,58.3 396.86,58.62 397.5,58.34 398.14,59.56 398.78,59.6 399.43,59.22 400.07,59.55 400.71,59.26 401.35,59.01 401.99,58.24 402.63,58.9 403.27,59.06 403.91,59.17 404.55,60.39 405.2,62.11 405.84,63.31 406.48,63.45 407.12,65.08 407.76,65.09 408.4,65.75 409.04,64.92 409.68,65.74 410.33,65.35 410.97,65.9 411.61,66.53 412.25,66.99 412.89,66.44 413.53,66.47 414.17,66.32 414.81,67.12 415.46,67.47 416.1,67.63 416.74,68.39 417.38,67.64 418.02,68.39 418.02,68.97 316.07,68.97" fill="#fff" stroke="none" stroke-width="1" />
<polyline points="316.07,62.51 316.71,63.17 317.35,64.26 317.99,64.47 318.63,63.79 319.27,63.67 319.91,64.08 320.56,64.09 321.2,63.54 321.84,62.95 322.48,62.68 323.12,61.7 323.76,61.38 324.4,61.19 325.04,61.47 325.69,61.43 326.33,61.34 326.97,62.38 327.61,62.52 328.25,62.74 328.89,61.25 329.53,61.52 330.17,61.18 330.82,61.68 331.46,60.76 332.1,60.79 332.74,60.92 333.38,61.42 334.02,61.54 334.66,61.14 335.3,61.1 335.94,60.54 336.59,59.46 337.23,59.42 337.87,59.29 338.51,60.08 339.15,59.29 339.79,59.61 340.43,59.57 341.07,59.63 341.72,58.49 342.36,57.86 343,57.73 343.64,57.96 344.28,57 344.92,54.98 345.56,52.85 346.2,51.1 346.85,49.75 347.49,49.19 348.13,49.28 348.77,50.28 349.41,50.48 350.05,50.46 350.69,49.9 351.33,47.45 351.98,44.34 352.62,42.37 353.26,42.64 353.9,44.45 354.54,45.28 355.18,46.67 355.82,45.08 356.46,43.77 357.1,40.59 357.75,40.61 358.39,41.18 359.03,43.11 359.67,43.44 360.31,43.19 360.95,41.81 361.59,40.92 362.23,40.77 362.88,40.98 363.52,42.88 364.16,45.15 364.8,48.17 365.44,51.21 366.08,52.77 366.72,53.44 367.36,53.06 368.01,54.49 368.65,57.25 369.29,58.46 369.93,56.99 370.57,55.56 371.21,54.85 371.85,54.3 372.49,53.11 373.14,50.71 373.78,47.58 374.42,43.14 375.06,38.87 375.7,35.53 376.34,32.32 376.98,30.97 377.62,30.12 378.27,31.07 378.91,34.72 379.55,40.85 380.19,46.99 380.83,50.72 381.47,52.47 382.11,53.7 382.75,54.71 383.39,54.71 384.04,53.04 384.68,51.94 385.32,50.99 385.96,53.09 386.6,54.38 387.24,56.65 387.88,57.43 388.52,57.61 389.17,57.77 389.81,56.84 390.45,55.99 391.09,54.43 391.73,53.61 392.37,54 393.01,55.25 393.65,57.2 394.3,58.18 394.94,58.23 395.58,58.76 396.22,58.3 396.86,58.62 397.5,58.34 398.14,59.56 398.78,59.6 399.43,59.22 400.07,59.55 400.71,59.26 401.35,59.01 401.99,58.24 402.63,58.9 403.27,59.06 403.91,59.17 404.55,60.39 405.2,62.11 405.84,63.31 406.48,63.45 407.12,65.08 407.76,65.09 408.4,65.75 409.04,64.92 409.68,65.74 410.33,65.35 410.97,65.9 411.61,66.53 412.25,66.99 412.89,66.44 413.53,66.47 414.17,66.32 414.81,67.12 415.46,67.47 416.1,67.63 416.74,68.39 417.38,67.64 418.02,68.39" fill="none" stroke="#f8a440" stroke-width="0.9" stroke-linejoin="round" />
<polygon points="311.02,69.1 311.68,69.67 312.33,69.82 312.99,69.51 313.65,68.81 314.3,68.38 314.96,69.07 315.62,68.92 316.27,69.57 316.93,69.86 317.58,70.12 318.24,69.81 318.9,69.56 319.55,69.47 320.21,69.08 320.86,68.79 321.52,67.89 322.18,67.27 322.83,66.5 323.49,67.22 324.15,67.84 324.8,69.02 325.46,69.06 326.11,69.69 326.77,69.15 327.43,68.48 328.08,66.56 328.74,65.66 329.4,66.27 330.05,66.62 330.71,67.27 331.36,66.27 332.02,66.35 332.68,65.34 333.33,64.28 333.99,63.54 334.65,62.59 335.3,63.48 335.96,63.81 336.61,64.01 337.27,62.99 337.93,62.8 338.58,63.07 339.24,64.14 339.9,63.32 340.55,61.91 341.21,59.8 341.86,58.16 342.52,57.52 343.18,56.19 343.83,55.39 344.49,55.06 345.15,55.87 345.8,56.97 346.46,55.44 347.11,53.66 347.77,50.96 348.43,50.03 349.08,50.95 349.74,51.97 350.4,53.66 351.05,52.89 351.71,51.34 352.36,49.23 353.02,48.53 353.68,48.65 354.33,49.36 354.99,49.59 355.65,50.73 356.3,51.16 356.96,49.56 357.61,47.3 358.27,45.98 358.93,48.04 359.58,49.65 360.24,53.96 360.9,56.1 361.55,58.12 362.21,58.27 362.86,58.88 363.52,60.98 364.18,60.61 364.83,61.62 365.49,61.15 366.15,61.86 366.8,61.72 367.46,61.11 368.11,61.13 368.77,59.63 369.43,57.99 370.08,54.63 370.74,50.5 371.4,46.08 372.05,42.22 372.71,39.67 373.36,38.7 374.02,38.81 374.68,40.02 375.33,43.19 375.99,47.03 376.65,51.9 377.3,56.24 377.96,59.17 378.61,61.49 379.27,61.5 379.93,60.35 380.58,58.88 381.24,57.73 381.9,59.16 382.55,60.18 383.21,62.95 383.86,64.34 384.52,65.55 385.18,64.98 385.83,63.42 386.49,61.92 387.15,60.5 387.8,60.39 388.46,60.3 389.11,61.25 389.77,62.8 390.43,63.59 391.08,63.33 391.74,62.96 392.39,63.72 393.05,63.95 393.71,64.47 394.36,64.52 395.02,65.88 395.68,66.16 396.33,66.05 396.99,64.63 397.64,64.43 398.3,65.01 398.96,66.49 399.61,66.8 400.27,67.63 400.93,67.79 401.58,67.87 402.24,67.41 402.89,67.68 403.55,69.11 404.21,70.53 404.86,70.63 405.52,69.9 406.18,70.21 406.83,71.08 407.49,71.92 408.14,71.24 408.8,71.53 409.46,72.06 410.11,72.49 410.77,72.76 411.43,72.79 412.08,74 412.74,75.73 413.39,76.31 414.05,76.43 414.71,74.88 415.36,74.51 415.36,74.72 311.02,74.72" fill="#fff" stroke="none" stroke-width="1" />
<polyline points="311.02,69.1 311.68,69.67 312.33,69.82 312.99,69.51 313.65,68.81 314.3,68.38 314.96,69.07 315.62,68.92 316.27,69.57 316.93,69.86 317.58,70.12 318.24,69.81 318.9,69.56 319.55,69.47 320.21,69.08 320.86,68.79 321.52,67.89 322.18,67.27 322.83,66.5 323.49,67.22 324.15,67.84 324.8,69.02 325.46,69.06 326.11,69.69 326.77,69.15 327.43,68.48 328.08,66.56 328.74,65.66 329.4,66.27 330.05,66.62 330.71,67.27 331.36,66.27 332.02,66.35 332.68,65.34 333.33,64.28 333.99,63.54 334.65,62.59 335.3,63.48 335.96,63.81 336.61,64.01 337.27,62.99 337.93,62.8 338.58,63.07 339.24,64.14 339.9,63.32 340.55,61.91 341.21,59.8 341.86,58.16 342.52,57.52 343.18,56.19 343.83,55.39 344.49,55.06 345.15,55.87 345.8,56.97 346.46,55.44 347.11,53.66 347.77,50.96 348.43,50.03 349.08,50.95 349.74,51.97 350.4,53.66 351.05,52.89 351.71,51.34 352.36,49.23 353.02,48.53 353.68,48.65 354.33,49.36 354.99,49.59 355.65,50.73 356.3,51.16 356.96,49.56 357.61,47.3 358.27,45.98 358.93,48.04 359.58,49.65 360.24,53.96 360.9,56.1 361.55,58.12 362.21,58.27 362.86,58.88 363.52,60.98 364.18,60.61 364.83,61.62 365.49,61.15 366.15,61.86 366.8,61.72 367.46,61.11 368.11,61.13 368.77,59.63 369.43,57.99 370.08,54.63 370.74,50.5 371.4,46.08 372.05,42.22 372.71,39.67 373.36,38.7 374.02,38.81 374.68,40.02 375.33,43.19 375.99,47.03 376.65,51.9 377.3,56.24 377.96,59.17 378.61,61.49 379.27,61.5 379.93,60.35 380.58,58.88 381.24,57.73 381.9,59.16 382.55,60.18 383.21,62.95 383.86,64.34 384.52,65.55 385.18,64.98 385.83,63.42 386.49,61.92 387.15,60.5 387.8,60.39 388.46,60.3 389.11,61.25 389.77,62.8 390.43,63.59 391.08,63.33 391.74,62.96 392.39,63.72 393.05,63.95 393.71,64.47 394.36,64.52 395.02,65.88 395.68,66.16 396.33,66.05 396.99,64.63 397.64,64.43 398.3,65.01 398.96,66.49 399.61,66.8 400.27,67.63 400.93,67.79 401.58,67.87 402.24,67.41 402.89,67.68 403.55,69.11 404.21,70.53 404.86,70.63 405.52,69.9 406.18,70.21 406.83,71.08 407.49,71.92 408.14,71.24 408.8,71.53 409.46,72.06 410.11,72.49 410.77,72.76 411.43,72.79 412.08,74 412.74,75.73 413.39,76.31 414.05,76.43 414.71,74.88 415.36,74.51" fill="none" stroke="#eef022" stroke-width="0.9" stroke-linejoin="round" />
<polygon points="305.68,74.6 306.35,74.76 307.02,75.05 307.69,74.61 308.36,74.76 309.04,74.35 309.71,74.54 310.38,74.05 311.05,73.78 311.73,74.41 312.4,74.06 313.07,75.13 313.74,75.11 314.41,75.99 315.09,75.3 315.76,75.32 316.43,74.74 317.1,75.41 317.78,74.39 318.45,73.48 319.12,72.75 319.79,72.39 320.46,72.87 321.14,71.85 321.81,72.45 322.48,73.31 323.15,73.49 323.82,73.44 324.5,73.04 325.17,73.87 325.84,74.39 326.51,73.8 327.19,73.79 327.86,72.13 328.53,71.53 329.2,71.58 329.87,72.74 330.55,73.07 331.22,72.95 331.89,72.04 332.56,71.53 333.23,70.71 333.91,70.6 334.58,69.93 335.25,68.3 335.92,66.39 336.6,65.22 337.27,63.78 337.94,63.18 338.61,61.96 339.28,62.66 339.96,62.57 340.63,64.05 341.3,64.16 341.97,63.59 342.64,60.93 343.32,59.12 343.99,58.03 344.66,58.15 345.33,58.36 346.01,59.71 346.68,60.14 347.35,59.54 348.02,56.78 348.69,54.92 349.37,54.76 350.04,56.99 350.71,58.31 351.38,57.8 352.05,56.26 352.73,54.56 353.4,53.94 354.07,54.16 354.74,55.13 355.42,57.02 356.09,58.83 356.76,62.45 357.43,64.46 358.1,66.44 358.78,66.26 359.45,67.12 360.12,67.46 360.79,68.37 361.47,67.71 362.14,67.53 362.81,67.58 363.48,68.37 364.15,68.19 364.83,65.9 365.5,64.32 366.17,61.51 366.84,58.52 367.51,53.4 368.19,49.49 368.86,46.57 369.53,45.2 370.2,44.75 370.88,46.83 371.55,49.53 372.22,53.85 372.89,57.33 373.56,62.42 374.24,65.03 374.91,68.09 375.58,68.67 376.25,68.07 376.92,66.45 377.6,64.43 378.27,65.13 378.94,65.22 379.61,67.38 380.29,69.27 380.96,71.06 381.63,70.83 382.3,70.07 382.97,68.87 383.65,67.22 384.32,65.62 384.99,65.54 385.66,66.98 386.33,67.79 387.01,69.37 387.68,71.38 388.35,72.64 389.02,72.88 389.7,70.87 390.37,70.58 391.04,70.54 391.71,71.9 392.38,71.75 393.06,71.74 393.73,71.57 394.4,72 395.07,71.76 395.74,71.67 396.42,71.86 397.09,71.76 397.76,71.5 398.43,72.8 399.11,72.69 399.78,73.89 400.45,72.98 401.12,74.96 401.79,75.28 402.47,76.14 403.14,76.1 403.81,76.19 404.48,76.3 405.16,77.12 405.83,77.85 406.5,78.06 407.17,77.52 407.84,77.86 408.52,78.56 409.19,79.17 409.86,79.74 410.53,80.42 411.2,79.82 411.88,79.5 412.55,78.94 412.55,80.83 305.68,80.83" fill="#fff" stroke="none" stroke-width="1" />
<polyline points="305.68,74.6 306.35,74.76 307.02,75.05 307.69,74.61 308.36,74.76 309.04,74.35 309.71,74.54 310.38,74.05 311.05,73.78 311.73,74.41 312.4,74.06 313.07,75.13 313.74,75.11 314.41,75.99 315.09,75.3 315.76,75.32 316.43,74.74 317.1,75.41 317.78,74.39 318.45,73.48 319.12,72.75 319.79,72.39 320.46,72.87 321.14,71.85 321.81,72.45 322.48,73.31 323.15,73.49 323.82,73.44 324.5,73.04 325.17,73.87 325.84,74.39 326.51,73.8 327.19,73.79 327.86,72.13 328.53,71.53 329.2,71.58 329.87,72.74 330.55,73.07 331.22,72.95 331.89,72.04 332.56,71.53 333.23,70.71 333.91,70.6 334.58,69.93 335.25,68.3 335.92,66.39 336.6,65.22 337.27,63.78 337.94,63.18 338.61,61.96 339.28,62.66 339.96,62.57 340.63,64.05 341.3,64.16 341.97,63.59 342.64,60.93 343.32,59.12 343.99,58.03 344.66,58.15 345.33,58.36 346.01,59.71 346.68,60.14 347.35,59.54 348.02,56.78 348.69,54.92 349.37,54.76 350.04,56.99 350.71,58.31 351.38,57.8 352.05,56.26 352.73,54.56 353.4,53.94 354.07,54.16 354.74,55.13 355.42,57.02 356.09,58.83 356.76,62.45 357.43,64.46 358.1,66.44 358.78,66.26 359.45,67.12 360.12,67.46 360.79,68.37 361.47,67.71 362.14,67.53 362.81,67.58 363.48,68.37 364.15,68.19 364.83,65.9 365.5,64.32 366.17,61.51 366.84,58.52 367.51,53.4 368.19,49.49 368.86,46.57 369.53,45.2 370.2,44.75 370.88,46.83 371.55,49.53 372.22,53.85 372.89,57.33 373.56,62.42 374.24,65.03 374.91,68.09 375.58,68.67 376.25,68.07 376.92,66.45 377.6,64.43 378.27,65.13 378.94,65.22 379.61,67.38 380.29,69.27 380.96,71.06 381.63,70.83 382.3,70.07 382.97,68.87 383.65,67.22 384.32,65.62 384.99,65.54 385.66,66.98 386.33,67.79 387.01,69.37 387.68,71.38 388.35,72.64 389.02,72.88 389.7,70.87 390.37,70.58 391.04,70.54 391.71,71.9 392.38,71.75 393.06,71.74 393.73,71.57 394.4,72 395.07,71.76 395.74,71.67 396.42,71.86 397.09,71.76 397.76,71.5 398.43,72.8 399.11,72.69 399.78,73.89 400.45,72.98 401.12,74.96 401.79,75.28 402.47,76.14 403.14,76.1 403.81,76.19 404.48,76.3 405.16,77.12 405.83,77.85 406.5,78.06 407.17,77.52 407.84,77.86 408.52,78.56 409.19,79.17 409.86,79.74 410.53,80.42 411.2,79.82 411.88,79.5 412.55,78.94" fill="none" stroke="#3ee03e" stroke-width="0.9" stroke-linejoin="round" />
<polygon points="300.03,81.63 300.72,80.99 301.41,80.22 302.1,79.97 302.79,80.31 303.48,81.43 304.17,80.51 304.86,80.29 305.54,80.31 306.23,80.51 306.92,80.74 307.61,80.13 308.3,80.5 308.99,80.92 309.68,81.3 310.37,81.13 311.06,80.79 311.74,80.91 312.43,80.2 313.12,80.19 313.81,79.93 314.5,81.09 315.19,80.58 315.88,79.77 316.57,79.23 317.26,79.02 317.95,80.02 318.63,80.16 319.32,80.62 320.01,79.78 320.7,79.22 321.39,79.76 322.08,78.16 322.77,78.58 323.46,77.3 324.15,78.13 324.83,77.13 325.52,76.96 326.21,78.43 326.9,79.07 327.59,78.59 328.28,77.43 328.97,77.12 329.66,78.15 330.35,76.61 331.04,75.01 331.72,73.05 332.41,72.08 333.1,70.83 333.79,69.96 334.48,69.89 335.17,70.28 335.86,70.19 336.55,69.59 337.24,68.84 337.92,67.6 338.61,66.1 339.3,65.15 339.99,65.44 340.68,66.04 341.37,67.04 342.06,66.81 342.75,66.26 343.44,64.99 344.13,63.22 344.81,62.7 345.5,62.76 346.19,63.9 346.88,65.06 347.57,65.62 348.26,64.68 348.95,63.45 349.64,61.58 350.33,62.19 351.02,64.03 351.7,66.98 352.39,68.94 353.08,70.1 353.77,71.23 354.46,72.43 355.15,73.55 355.84,74.1 356.53,74.27 357.22,74.38 357.9,74.3 358.59,75.05 359.28,75.49 359.97,75.77 360.66,74.29 361.35,71.1 362.04,67.26 362.73,64.36 363.42,62.2 364.11,59.02 364.79,55.7 365.48,54.15 366.17,54.1 366.86,55.86 367.55,57.54 368.24,61.57 368.93,65.15 369.62,69.16 370.31,72.52 370.99,74.67 371.68,75.5 372.37,73.93 373.06,72.96 373.75,72.32 374.44,72.36 375.13,72.52 375.82,73 376.51,74.55 377.2,76.81 377.88,77.96 378.57,78.15 379.26,76.5 379.95,76.14 380.64,75.12 381.33,74.67 382.02,74.34 382.71,74.91 383.4,75.32 384.09,75.67 384.77,75.88 385.46,76.37 386.15,76.41 386.84,76.79 387.53,77.44 388.22,77.06 388.91,77.47 389.6,77.67 390.29,78.01 390.97,78.27 391.66,77.94 392.35,77.99 393.04,77.89 393.73,78.48 394.42,78.99 395.11,79.14 395.8,80.34 396.49,81.79 397.18,81.95 397.86,81.47 398.55,82.2 399.24,83.78 399.93,84.28 400.62,84.09 401.31,83.55 402,83.8 402.69,83.39 403.38,84.38 404.06,84.36 404.75,83.91 405.44,83.95 406.13,83.84 406.82,84.49 407.51,84.03 408.2,84.85 408.89,85.83 409.58,86.14 409.58,87.31 300.03,87.31" fill="#fff" stroke="none" stroke-width="1" />
<polyline points="300.03,81.63 300.72,80.99 301.41,80.22 302.1,79.97 302.79,80.31 303.48,81.43 304.17,80.51 304.86,80.29 305.54,80.31 306.23,80.51 306.92,80.74 307.61,80.13 308.3,80.5 308.99,80.92 309.68,81.3 310.37,81.13 311.06,80.79 311.74,80.91 312.43,80.2 313.12,80.19 313.81,79.93 314.5,81.09 315.19,80.58 315.88,79.77 316.57,79.23 317.26,79.02 317.95,80.02 318.63,80.16 319.32,80.62 320.01,79.78 320.7,79.22 321.39,79.76 322.08,78.16 322.77,78.58 323.46,77.3 324.15,78.13 324.83,77.13 325.52,76.96 326.21,78.43 326.9,79.07 327.59,78.59 328.28,77.43 328.97,77.12 329.66,78.15 330.35,76.61 331.04,75.01 331.72,73.05 332.41,72.08 333.1,70.83 333.79,69.96 334.48,69.89 335.17,70.28 335.86,70.19 336.55,69.59 337.24,68.84 337.92,67.6 338.61,66.1 339.3,65.15 339.99,65.44 340.68,66.04 341.37,67.04 342.06,66.81 342.75,66.26 343.44,64.99 344.13,63.22 344.81,62.7 345.5,62.76 346.19,63.9 346.88,65.06 347.57,65.62 348.26,64.68 348.95,63.45 349.64,61.58 350.33,62.19 351.02,64.03 351.7,66.98 352.39,68.94 353.08,70.1 353.77,71.23 354.46,72.43 355.15,73.55 355.84,74.1 356.53,74.27 357.22,74.38 357.9,74.3 358.59,75.05 359.28,75.49 359.97,75.77 360.66,74.29 361.35,71.1 362.04,67.26 362.73,64.36 363.42,62.2 364.11,59.02 364.79,55.7 365.48,54.15 366.17,54.1 366.86,55.86 367.55,57.54 368.24,61.57 368.93,65.15 369.62,69.16 370.31,72.52 370.99,74.67 371.68,75.5 372.37,73.93 373.06,72.96 373.75,72.32 374.44,72.36 375.13,72.52 375.82,73 376.51,74.55 377.2,76.81 377.88,77.96 378.57,78.15 379.26,76.5 379.95,76.14 380.64,75.12 381.33,74.67 382.02,74.34 382.71,74.91 383.4,75.32 384.09,75.67 384.77,75.88 385.46,76.37 386.15,76.41 386.84,76.79 387.53,77.44 388.22,77.06 388.91,77.47 389.6,77.67 390.29,78.01 390.97,78.27 391.66,77.94 392.35,77.99 393.04,77.89 393.73,78.48 394.42,78.99 395.11,79.14 395.8,80.34 396.49,81.79 397.18,81.95 397.86,81.47 398.55,82.2 399.24,83.78 399.93,84.28 400.62,84.09 401.31,83.55 402,83.8 402.69,83.39 403.38,84.38 404.06,84.36 404.75,83.91 405.44,83.95 406.13,83.84 406.82,84.49 407.51,84.03 408.2,84.85 408.89,85.83 409.58,86.14" fill="none" stroke="#22e022" stroke-width="0.9" stroke-linejoin="round" />
<polygon points="294.09,88.12 294.8,87.67 295.5,86.72 296.21,86.62 296.92,86.64 297.62,87.36 298.33,88.3 299.04,88.59 299.74,88.15 300.45,87.55 301.16,88.28 301.86,88.7 302.57,89.35 303.28,88.57 303.98,88.76 304.69,88.13 305.4,88 306.1,87.41 306.81,86.66 307.52,87.22 308.22,88.18 308.93,88.28 309.64,87.07 310.34,85.37 311.05,85.56 311.76,85.83 312.46,86.29 313.17,86.86 313.88,87.21 314.58,86.9 315.29,86.43 316,85.16 316.7,85.9 317.41,85.65 318.12,85.82 318.82,85.21 319.53,85.32 320.24,86.21 320.94,86.04 321.65,84.65 322.36,83.64 323.06,82.84 323.77,83.47 324.48,82.92 325.18,82.57 325.89,81.93 326.6,81.3 327.3,79.79 328.01,77.45 328.72,76.37 329.42,76.12 330.13,76.25 330.84,77.19 331.54,78.05 332.25,77.72 332.96,75.6 333.66,73.34 334.37,72.51 335.07,72.78 335.78,73.37 336.49,74.67 337.19,74.53 337.9,74.56 338.61,73.29 339.31,72.18 340.02,71.3 340.73,71.11 341.43,72.13 342.14,72.73 342.85,72.57 343.55,71.63 344.26,70.88 344.97,71.04 345.67,71.95 346.38,73.34 347.09,75.17 347.79,76.68 348.5,77.99 349.21,78.43 349.91,78.99 350.62,79.75 351.33,80.1 352.03,80.37 352.74,80.66 353.45,81.36 354.15,81.37 354.86,80.82 355.57,79.92 356.27,79.15 356.98,77.26 357.69,75.51 358.39,72.6 359.1,69.86 359.81,66.32 360.51,64.78 361.22,63.12 361.93,62.93 362.63,63.43 363.34,66.28 364.05,70.01 364.75,74.25 365.46,77.9 366.17,80.85 366.87,82.06 367.58,81.6 368.29,81.15 368.99,79.42 369.7,79.59 370.41,79.51 371.11,81.03 371.82,81.51 372.53,83.04 373.23,84.95 373.94,85.43 374.65,84.66 375.35,83.29 376.06,82.99 376.77,82.57 377.47,81.76 378.18,81.2 378.89,82.13 379.59,81.92 380.3,82.98 381.01,83.07 381.71,84.17 382.42,84.3 383.13,83.17 383.83,82.99 384.54,83.2 385.25,84.43 385.95,85.19 386.66,85.27 387.37,84.93 388.07,85.16 388.78,84.49 389.49,85.07 390.19,85.26 390.9,85.97 391.61,87.23 392.31,87.99 393.02,88.55 393.73,88.06 394.43,88.02 395.14,88.46 395.85,89.06 396.55,89.44 397.26,90.51 397.97,91.35 398.67,90.97 399.38,91.01 400.09,90.73 400.79,90.88 401.5,90.2 402.21,90.31 402.91,91.36 403.62,92.05 404.33,92.43 405.03,92.12 405.74,92.03 406.45,91.63 406.45,94.15 294.09,94.15" fill="#fff" stroke="none" stroke-width="1" />
<polyline points="294.09,88.12 294.8,87.67 295.5,86.72 296.21,86.62 296.92,86.64 297.62,87.36 298.33,88.3 299.04,88.59 299.74,88.15 300.45,87.55 301.16,88.28 301.86,88.7 302.57,89.35 303.28,88.57 303.98,88.76 304.69,88.13 305.4,88 306.1,87.41 306.81,86.66 307.52,87.22 308.22,88.18 308.93,88.28 309.64,87.07 310.34,85.37 311.05,85.56 311.76,85.83 312.46,86.29 313.17,86.86 313.88,87.21 314.58,86.9 315.29,86.43 316,85.16 316.7,85.9 317.41,85.65 318.12,85.82 318.82,85.21 319.53,85.32 320.24,86.21 320.94,86.04 321.65,84.65 322.36,83.64 323.06,82.84 323.77,83.47 324.48,82.92 325.18,82.57 325.89,81.93 326.6,81.3 327.3,79.79 328.01,77.45 328.72,76.37 329.42,76.12 330.13,76.25 330.84,77.19 331.54,78.05 332.25,77.72 332.96,75.6 333.66,73.34 334.37,72.51 335.07,72.78 335.78,73.37 336.49,74.67 337.19,74.53 337.9,74.56 338.61,73.29 339.31,72.18 340.02,71.3 340.73,71.11 341.43,72.13 342.14,72.73 342.85,72.57 343.55,71.63 344.26,70.88 344.97,71.04 345.67,71.95 346.38,73.34 347.09,75.17 347.79,76.68 348.5,77.99 349.21,78.43 349.91,78.99 350.62,79.75 351.33,80.1 352.03,80.37 352.74,80.66 353.45,81.36 354.15,81.37 354.86,80.82 355.57,79.92 356.27,79.15 356.98,77.26 357.69,75.51 358.39,72.6 359.1,69.86 359.81,66.32 360.51,64.78 361.22,63.12 361.93,62.93 362.63,63.43 363.34,66.28 364.05,70.01 364.75,74.25 365.46,77.9 366.17,80.85 366.87,82.06 367.58,81.6 368.29,81.15 368.99,79.42 369.7,79.59 370.41,79.51 371.11,81.03 371.82,81.51 372.53,83.04 373.23,84.95 373.94,85.43 374.65,84.66 375.35,83.29 376.06,82.99 376.77,82.57 377.47,81.76 378.18,81.2 378.89,82.13 379.59,81.92 380.3,82.98 381.01,83.07 381.71,84.17 382.42,84.3 383.13,83.17 383.83,82.99 384.54,83.2 385.25,84.43 385.95,85.19 386.66,85.27 387.37,84.93 388.07,85.16 388.78,84.49 389.49,85.07 390.19,85.26 390.9,85.97 391.61,87.23 392.31,87.99 393.02,88.55 393.73,88.06 394.43,88.02 395.14,88.46 395.85,89.06 396.55,89.44 397.26,90.51 397.97,91.35 398.67,90.97 399.38,91.01 400.09,90.73 400.79,90.88 401.5,90.2 402.21,90.31 402.91,91.36 403.62,92.05 404.33,92.43 405.03,92.12 405.74,92.03 406.45,91.63" fill="none" stroke="#2ee02e" stroke-width="0.9" stroke-linejoin="round" />
<polygon points="287.85,94.72 288.57,94.38 289.3,93.63 290.02,93.29 290.75,94.33 291.47,94.72 292.2,95.84 292.92,95.7 293.65,95.75 294.37,95.55 295.1,95.04 295.82,94.86 296.55,94.81 297.27,95.02 298,95.3 298.73,94.44 299.45,93.77 300.18,94.53 300.9,95.28 301.63,95.51 302.35,93.93 303.08,93.19 303.8,92.67 304.53,92.9 305.25,93.32 305.98,93.37 306.7,93.57 307.43,93.74 308.15,93.83 308.88,93.67 309.6,93.57 310.33,93.07 311.05,92.83 311.78,91.75 312.5,92.26 313.23,92.37 313.96,92 314.68,91.14 315.41,91.33 316.13,91.65 316.86,91.17 317.58,90.65 318.31,90.33 319.03,89.51 319.76,89.01 320.48,88.47 321.21,88.92 321.93,87.85 322.66,85.88 323.38,84.68 324.11,84.8 324.83,86.3 325.56,86.8 326.28,86.05 327.01,85.24 327.73,83.51 328.46,82.45 329.19,80.92 329.91,80.95 330.64,81.26 331.36,82.55 332.09,83.17 332.81,82.57 333.54,81.59 334.26,80.15 334.99,79.64 335.71,79.07 336.44,80.03 337.16,80.84 337.89,80.9 338.61,80.15 339.34,79.06 340.06,78.56 340.79,78.84 341.51,80.9 342.24,83.39 342.96,86.5 343.69,87.31 344.42,88.48 345.14,88.13 345.87,89.35 346.59,89.42 347.32,89.54 348.04,88.81 348.77,89.45 349.49,89.26 350.22,89.53 350.94,88.75 351.67,87.92 352.39,86.44 353.12,84.1 353.84,81.96 354.57,78.81 355.29,75.84 356.02,73.37 356.74,72.65 357.47,72.95 358.2,74.07 358.92,75.56 359.65,78.47 360.37,81.32 361.1,84.87 361.82,87.66 362.55,89.38 363.27,90.11 364,88.83 364.72,87.53 365.45,86.37 366.17,86.56 366.9,86.92 367.62,88.23 368.35,89.54 369.07,91.15 369.8,91.44 370.52,91.13 371.25,90.48 371.97,90.6 372.7,89.3 373.43,89.66 374.15,89.28 374.88,90.18 375.6,90.41 376.33,91.16 377.05,91.83 377.78,92.68 378.5,92.62 379.23,93.42 379.95,93.3 380.68,92.83 381.4,92.14 382.13,91.7 382.85,91.56 383.58,91.75 384.3,92.32 385.03,93.02 385.75,92.51 386.48,92.59 387.2,92.71 387.93,93.84 388.66,94.13 389.38,94.45 390.11,94.76 390.83,95.28 391.56,96.12 392.28,96.78 393.01,96.82 393.73,96.42 394.46,95.91 395.18,96.29 395.91,97.19 396.63,97.52 397.36,97.47 398.08,97.95 398.81,98.05 399.53,98.24 400.26,97.05 400.98,98.04 401.71,99.01 402.43,99.39 403.16,98.9 403.16,101.34 287.85,101.34" fill="#fff" stroke="none" stroke-width="1" />
<polyline points="287.85,94.72 288.57,94.38 289.3,93.63 290.02,93.29 290.75,94.33 291.47,94.72 292.2,95.84 292.92,95.7 293.65,95.75 294.37,95.55 295.1,95.04 295.82,94.86 296.55,94.81 297.27,95.02 298,95.3 298.73,94.44 299.45,93.77 300.18,94.53 300.9,95.28 301.63,95.51 302.35,93.93 303.08,93.19 303.8,92.67 304.53,92.9 305.25,93.32 305.98,93.37 306.7,93.57 307.43,93.74 308.15,93.83 308.88,93.67 309.6,93.57 310.33,93.07 311.05,92.83 311.78,91.75 312.5,92.26 313.23,92.37 313.96,92 314.68,91.14 315.41,91.33 316.13,91.65 316.86,91.17 317.58,90.65 318.31,90.33 319.03,89.51 319.76,89.01 320.48,88.47 321.21,88.92 321.93,87.85 322.66,85.88 323.38,84.68 324.11,84.8 324.83,86.3 325.56,86.8 326.28,86.05 327.01,85.24 327.73,83.51 328.46,82.45 329.19,80.92 329.91,80.95 330.64,81.26 331.36,82.55 332.09,83.17 332.81,82.57 333.54,81.59 334.26,80.15 334.99,79.64 335.71,79.07 336.44,80.03 337.16,80.84 337.89,80.9 338.61,80.15 339.34,79.06 340.06,78.56 340.79,78.84 341.51,80.9 342.24,83.39 342.96,86.5 343.69,87.31 344.42,88.48 345.14,88.13 345.87,89.35 346.59,89.42 347.32,89.54 348.04,88.81 348.77,89.45 349.49,89.26 350.22,89.53 350.94,88.75 351.67,87.92 352.39,86.44 353.12,84.1 353.84,81.96 354.57,78.81 355.29,75.84 356.02,73.37 356.74,72.65 357.47,72.95 358.2,74.07 358.92,75.56 359.65,78.47 360.37,81.32 361.1,84.87 361.82,87.66 362.55,89.38 363.27,90.11 364,88.83 364.72,87.53 365.45,86.37 366.17,86.56 366.9,86.92 367.62,88.23 368.35,89.54 369.07,91.15 369.8,91.44 370.52,91.13 371.25,90.48 371.97,90.6 372.7,89.3 373.43,89.66 374.15,89.28 374.88,90.18 375.6,90.41 376.33,91.16 377.05,91.83 377.78,92.68 378.5,92.62 379.23,93.42 379.95,93.3 380.68,92.83 381.4,92.14 382.13,91.7 382.85,91.56 383.58,91.75 384.3,92.32 385.03,93.02 385.75,92.51 386.48,92.59 387.2,92.71 387.93,93.84 388.66,94.13 389.38,94.45 390.11,94.76 390.83,95.28 391.56,96.12 392.28,96.78 393.01,96.82 393.73,96.42 394.46,95.91 395.18,96.29 395.91,97.19 396.63,97.52 397.36,97.47 398.08,97.95 398.81,98.05 399.53,98.24 400.26,97.05 400.98,98.04 401.71,99.01 402.43,99.39 403.16,98.9" fill="none" stroke="#22e428" stroke-width="0.9" stroke-linejoin="round" />
<polygon points="281.31,103.6 282.05,104.06 282.79,103.72 283.54,104.2 284.28,103.83 285.03,102.99 285.77,101.99 286.52,101.69 287.26,102.22 288.01,101.78 288.75,101.72 289.5,101.1 290.24,102.32 290.99,102.36 291.73,103.24 292.48,102.41 293.22,102.42 293.97,102.37 294.71,102.38 295.46,101.92 296.2,101.18 296.94,100.94 297.69,101.7 298.43,102.11 299.18,102.74 299.92,102.23 300.67,101.35 301.41,100.6 302.16,100.54 302.9,101.39 303.65,101.26 304.39,101.22 305.14,101.41 305.88,102.17 306.63,102.06 307.37,101.48 308.12,99.9 308.86,99.58 309.6,99.46 310.35,100.17 311.09,99.33 311.84,99.1 312.58,98.35 313.33,98.54 314.07,97.11 314.82,96.53 315.56,95.9 316.31,95.1 317.05,94.14 317.8,92.83 318.54,92.97 319.29,92.59 320.03,93.54 320.78,93.4 321.52,93.85 322.26,92.48 323.01,91.22 323.75,89.93 324.5,89.55 325.24,90.49 325.99,91.75 326.73,91.96 327.48,91.27 328.22,89.99 328.97,88.81 329.71,87.91 330.46,89.12 331.2,90.53 331.95,90.99 332.69,89.24 333.44,88.36 334.18,87.05 334.92,87.37 335.67,87.9 336.41,90.02 337.16,91.63 337.9,93.05 338.65,94.12 339.39,95.1 340.14,95.44 340.88,96.51 341.63,96.82 342.37,96.87 343.12,96.68 343.86,96.23 344.61,97.11 345.35,97.06 346.1,97.07 346.84,95.94 347.59,94.59 348.33,92.63 349.07,90.04 349.82,86.78 350.56,84.21 351.31,82.21 352.05,81.24 352.8,81.78 353.54,83.93 354.29,85.83 355.03,87.62 355.78,89.89 356.52,93.1 357.27,96.12 358.01,97.96 358.76,98.25 359.5,97.91 360.25,95.97 360.99,95.6 361.73,94.84 362.48,95.27 363.22,95.59 363.97,97.13 364.71,98.28 365.46,99.63 366.2,99.34 366.95,98.9 367.69,97.12 368.44,96.53 369.18,96.23 369.93,96.92 370.67,97.68 371.42,98.59 372.16,98.61 372.91,98.6 373.65,98.65 374.39,99.09 375.14,99.41 375.88,99.12 376.63,98.84 377.37,97.88 378.12,97.89 378.86,98.78 379.61,99.8 380.35,100.81 381.1,101.16 381.84,101.44 382.59,101.04 383.33,100.39 384.08,100.67 384.82,101.08 385.57,102.55 386.31,102.74 387.06,103.79 387.8,104.23 388.54,104.34 389.29,104.15 390.03,103.88 390.78,104.34 391.52,104.99 392.27,105.07 393.01,105.29 393.76,104.95 394.5,105.57 395.25,105.38 395.99,105.43 396.74,104.56 397.48,104.36 398.23,104.64 398.97,105.45 399.72,105.9 399.72,108.9 281.31,108.9" fill="#fff" stroke="none" stroke-width="1" />
<polyline points="281.31,103.6 282.05,104.06 282.79,103.72 283.54,104.2 284.28,103.83 285.03,102.99 285.77,101.99 286.52,101.69 287.26,102.22 288.01,101.78 288.75,101.72 289.5,101.1 290.24,102.32 290.99,102.36 291.73,103.24 292.48,102.41 293.22,102.42 293.97,102.37 294.71,102.38 295.46,101.92 296.2,101.18 296.94,100.94 297.69,101.7 298.43,102.11 299.18,102.74 299.92,102.23 300.67,101.35 301.41,100.6 302.16,100.54 302.9,101.39 303.65,101.26 304.39,101.22 305.14,101.41 305.88,102.17 306.63,102.06 307.37,101.48 308.12,99.9 308.86,99.58 309.6,99.46 310.35,100.17 311.09,99.33 311.84,99.1 312.58,98.35 313.33,98.54 314.07,97.11 314.82,96.53 315.56,95.9 316.31,95.1 317.05,94.14 317.8,92.83 318.54,92.97 319.29,92.59 320.03,93.54 320.78,93.4 321.52,93.85 322.26,92.48 323.01,91.22 323.75,89.93 324.5,89.55 325.24,90.49 325.99,91.75 326.73,91.96 327.48,91.27 328.22,89.99 328.97,88.81 329.71,87.91 330.46,89.12 331.2,90.53 331.95,90.99 332.69,89.24 333.44,88.36 334.18,87.05 334.92,87.37 335.67,87.9 336.41,90.02 337.16,91.63 337.9,93.05 338.65,94.12 339.39,95.1 340.14,95.44 340.88,96.51 341.63,96.82 342.37,96.87 343.12,96.68 343.86,96.23 344.61,97.11 345.35,97.06 346.1,97.07 346.84,95.94 347.59,94.59 348.33,92.63 349.07,90.04 349.82,86.78 350.56,84.21 351.31,82.21 352.05,81.24 352.8,81.78 353.54,83.93 354.29,85.83 355.03,87.62 355.78,89.89 356.52,93.1 357.27,96.12 358.01,97.96 358.76,98.25 359.5,97.91 360.25,95.97 360.99,95.6 361.73,94.84 362.48,95.27 363.22,95.59 363.97,97.13 364.71,98.28 365.46,99.63 366.2,99.34 366.95,98.9 367.69,97.12 368.44,96.53 369.18,96.23 369.93,96.92 370.67,97.68 371.42,98.59 372.16,98.61 372.91,98.6 373.65,98.65 374.39,99.09 375.14,99.41 375.88,99.12 376.63,98.84 377.37,97.88 378.12,97.89 378.86,98.78 379.61,99.8 380.35,100.81 381.1,101.16 381.84,101.44 382.59,101.04 383.33,100.39 384.08,100.67 384.82,101.08 385.57,102.55 386.31,102.74 387.06,103.79 387.8,104.23 388.54,104.34 389.29,104.15 390.03,103.88 390.78,104.34 391.52,104.99 392.27,105.07 393.01,105.29 393.76,104.95 394.5,105.57 395.25,105.38 395.99,105.43 396.74,104.56 397.48,104.36 398.23,104.64 398.97,105.45 399.72,105.9" fill="none" stroke="#22dcf8" stroke-width="0.9" stroke-linejoin="round" />
<polygon points="274.46,111.02 275.23,110.44 276,109.02 276.76,110.04 277.53,110.9 278.29,111.7 279.06,111.08 279.82,110.69 280.59,110.51 281.35,110.28 282.12,110.35 282.88,110.98 283.65,111.14 284.41,111.46 285.18,110.42 285.94,110.65 286.71,110.34 287.47,110.34 288.24,109.66 289,109.19 289.77,109.72 290.53,109.46 291.3,109.36 292.06,108.12 292.83,107.93 293.59,107.63 294.36,108.44 295.12,108.6 295.89,108.45 296.65,108.11 297.42,107.47 298.18,107.7 298.95,106.96 299.71,106.44 300.48,106.93 301.24,106.9 302.01,107.54 302.77,106.86 303.54,107.5 304.3,107.23 305.07,107.71 305.83,107.78 306.6,108.18 307.36,107.36 308.13,106.32 308.89,105.12 309.66,104.24 310.42,103.8 311.19,103.81 311.95,103.15 312.72,102.76 313.48,102.27 314.25,102.29 315.01,102.49 315.78,102.15 316.54,102.55 317.31,101 318.07,100.12 318.84,99.43 319.6,100.11 320.37,101.25 321.13,101.43 321.9,100.28 322.67,98.5 323.43,96.9 324.2,96.99 324.96,97.37 325.73,98.35 326.49,98.13 327.26,98.15 328.02,97.12 328.79,97.27 329.55,97.08 330.32,98.92 331.08,100.94 331.85,101.87 332.61,101.89 333.38,102.55 334.14,104.03 334.91,104.9 335.67,105.44 336.44,104.92 337.2,105.75 337.97,105.77 338.73,107.67 339.5,106.62 340.26,106.14 341.03,103.94 341.79,104.2 342.56,102.88 343.32,101.84 344.09,99.29 344.85,96.3 345.62,93.21 346.38,90.98 347.15,91.02 347.91,91.62 348.68,92.71 349.44,94.23 350.21,96.8 350.97,99.71 351.74,102.65 352.5,104.59 353.27,105.22 354.03,105.5 354.8,105.07 355.56,104.52 356.33,103.99 357.09,104.06 357.86,105.83 358.62,106.73 359.39,108.39 360.15,108.75 360.92,108.82 361.68,108 362.45,107.08 363.21,107.18 363.98,105.92 364.74,105.75 365.51,105.36 366.27,106.67 367.04,106.98 367.8,107.47 368.57,107.8 369.34,108.38 370.1,107.9 370.87,108.08 371.63,107.72 372.4,107.8 373.16,107.57 373.93,107.28 374.69,107.48 375.46,107.99 376.22,108.49 376.99,108.59 377.75,108.31 378.52,108.62 379.28,108.02 380.05,108.21 380.81,108.41 381.58,109.75 382.34,109.59 383.11,110.06 383.87,110.53 384.64,111.79 385.4,111.78 386.17,111.36 386.93,111.7 387.7,112.39 388.46,112.6 389.23,111.7 389.99,112.09 390.76,112.66 391.52,112.88 392.29,112.7 393.05,112.85 393.82,113.53 394.58,113.97 395.35,113.77 396.11,113.56 396.11,116.82 274.46,116.82" fill="#fff" stroke="none" stroke-width="1" />
<polyline points="274.46,111.02 275.23,110.44 276,109.02 276.76,110.04 277.53,110.9 278.29,111.7 279.06,111.08 279.82,110.69 280.59,110.51 281.35,110.28 282.12,110.35 282.88,110.98 283.65,111.14 284.41,111.46 285.18,110.42 285.94,110.65 286.71,110.34 287.47,110.34 288.24,109.66 289,109.19 289.77,109.72 290.53,109.46 291.3,109.36 292.06,108.12 292.83,107.93 293.59,107.63 294.36,108.44 295.12,108.6 295.89,108.45 296.65,108.11 297.42,107.47 298.18,107.7 298.95,106.96 299.71,106.44 300.48,106.93 301.24,106.9 302.01,107.54 302.77,106.86 303.54,107.5 304.3,107.23 305.07,107.71 305.83,107.78 306.6,108.18 307.36,107.36 308.13,106.32 308.89,105.12 309.66,104.24 310.42,103.8 311.19,103.81 311.95,103.15 312.72,102.76 313.48,102.27 314.25,102.29 315.01,102.49 315.78,102.15 316.54,102.55 317.31,101 318.07,100.12 318.84,99.43 319.6,100.11 320.37,101.25 321.13,101.43 321.9,100.28 322.67,98.5 323.43,96.9 324.2,96.99 324.96,97.37 325.73,98.35 326.49,98.13 327.26,98.15 328.02,97.12 328.79,97.27 329.55,97.08 330.32,98.92 331.08,100.94 331.85,101.87 332.61,101.89 333.38,102.55 334.14,104.03 334.91,104.9 335.67,105.44 336.44,104.92 337.2,105.75 337.97,105.77 338.73,107.67 339.5,106.62 340.26,106.14 341.03,103.94 341.79,104.2 342.56,102.88 343.32,101.84 344.09,99.29 344.85,96.3 345.62,93.21 346.38,90.98 347.15,91.02 347.91,91.62 348.68,92.71 349.44,94.23 350.21,96.8 350.97,99.71 351.74,102.65 352.5,104.59 353.27,105.22 354.03,105.5 354.8,105.07 355.56,104.52 356.33,103.99 357.09,104.06 357.86,105.83 358.62,106.73 359.39,108.39 360.15,108.75 360.92,108.82 361.68,108 362.45,107.08 363.21,107.18 363.98,105.92 364.74,105.75 365.51,105.36 366.27,106.67 367.04,106.98 367.8,107.47 368.57,107.8 369.34,108.38 370.1,107.9 370.87,108.08 371.63,107.72 372.4,107.8 373.16,107.57 373.93,107.28 374.69,107.48 375.46,107.99 376.22,108.49 376.99,108.59 377.75,108.31 378.52,108.62 379.28,108.02 380.05,108.21 380.81,108.41 381.58,109.75 382.34,109.59 383.11,110.06 383.87,110.53 384.64,111.79 385.4,111.78 386.17,111.36 386.93,111.7 387.7,112.39 388.46,112.6 389.23,111.7 389.99,112.09 390.76,112.66 391.52,112.88 392.29,112.7 393.05,112.85 393.82,113.53 394.58,113.97 395.35,113.77 396.11,113.56" fill="none" stroke="#3ea8f2" stroke-width="0.9" stroke-linejoin="round" />
<polygon points="267.33,118.82 268.11,118.78 268.9,118.46 269.68,117.82 270.47,117.48 271.26,118.12 272.04,117.65 272.83,118.32 273.62,117.35 274.4,118.05 275.19,118 275.98,119.06 276.76,119.03 277.55,118.92 278.33,118.81 279.12,118.75 279.91,118.26 280.69,117.61 281.48,117.58 282.27,117.31 283.05,118 283.84,118.22 284.62,119.09 285.41,118.4 286.2,118.54 286.98,118.58 287.77,118.24 288.56,116.89 289.34,115.75 290.13,116.74 290.92,117.31 291.7,117.41 292.49,116.69 293.27,117.22 294.06,117.57 294.85,118.15 295.63,117.88 296.42,116.78 297.21,115.73 297.99,115.69 298.78,116.98 299.57,116.92 300.35,116.42 301.14,115.4 301.92,115.52 302.71,114.86 303.5,114.28 304.28,113.56 305.07,113.38 305.86,113.4 306.64,113.2 307.43,112.83 308.21,112.76 309,112.57 309.79,111.82 310.57,111.21 311.36,109.59 312.15,108.32 312.93,107.79 313.72,108.78 314.51,109.69 315.29,109.79 316.08,109.37 316.86,109.03 317.65,108.73 318.44,108.92 319.22,108.88 320.01,108.7 320.8,108.99 321.58,109.06 322.37,108.75 323.16,107.78 323.94,107.8 324.73,108.5 325.51,110.22 326.3,111.37 327.09,112.68 327.87,112.15 328.66,112.46 329.45,112.91 330.23,114 331.02,113.88 331.81,113.25 332.59,113.28 333.38,114.06 334.16,115.23 334.95,115.29 335.74,114.95 336.52,114.03 337.31,112.23 338.1,111.49 338.88,109.52 339.67,108.12 340.45,105.37 341.24,103.19 342.03,103.09 342.81,103.59 343.6,105.11 344.39,106.12 345.17,108.02 345.96,110.5 346.75,112.1 347.53,113.88 348.32,114.71 349.1,114.78 349.89,113.28 350.68,111.99 351.46,112.31 352.25,113.3 353.04,114.62 353.82,115.74 354.61,116.53 355.4,116.26 356.18,115.83 356.97,115.66 357.75,115.92 358.54,115.9 359.33,114.7 360.11,115.02 360.9,114.57 361.69,115.95 362.47,116.03 363.26,117.16 364.05,116.58 364.83,116.43 365.62,114.89 366.4,115.72 367.19,116.12 367.98,116.96 368.76,116.35 369.55,116.06 370.34,117.13 371.12,116.87 371.91,116.64 372.69,115.82 373.48,116.76 374.27,116.97 375.05,117.6 375.84,117.6 376.63,118.17 377.41,117.71 378.2,118.14 378.99,118.42 379.77,118.69 380.56,118.62 381.34,118.68 382.13,119.38 382.92,119.26 383.7,119.66 384.49,119.52 385.28,119.24 386.06,118.96 386.85,119.57 387.64,120.95 388.42,121.16 389.21,121.44 389.99,121.71 390.78,122.17 391.57,122.12 392.35,121.48 392.35,125.1 267.33,125.1" fill="#fff" stroke="none" stroke-width="1" />
<polyline points="267.33,118.82 268.11,118.78 268.9,118.46 269.68,117.82 270.47,117.48 271.26,118.12 272.04,117.65 272.83,118.32 273.62,117.35 274.4,118.05 275.19,118 275.98,119.06 276.76,119.03 277.55,118.92 278.33,118.81 279.12,118.75 279.91,118.26 280.69,117.61 281.48,117.58 282.27,117.31 283.05,118 283.84,118.22 284.62,119.09 285.41,118.4 286.2,118.54 286.98,118.58 287.77,118.24 288.56,116.89 289.34,115.75 290.13,116.74 290.92,117.31 291.7,117.41 292.49,116.69 293.27,117.22 294.06,117.57 294.85,118.15 295.63,117.88 296.42,116.78 297.21,115.73 297.99,115.69 298.78,116.98 299.57,116.92 300.35,116.42 301.14,115.4 301.92,115.52 302.71,114.86 303.5,114.28 304.28,113.56 305.07,113.38 305.86,113.4 306.64,113.2 307.43,112.83 308.21,112.76 309,112.57 309.79,111.82 310.57,111.21 311.36,109.59 312.15,108.32 312.93,107.79 313.72,108.78 314.51,109.69 315.29,109.79 316.08,109.37 316.86,109.03 317.65,108.73 318.44,108.92 319.22,108.88 320.01,108.7 320.8,108.99 321.58,109.06 322.37,108.75 323.16,107.78 323.94,107.8 324.73,108.5 325.51,110.22 326.3,111.37 327.09,112.68 327.87,112.15 328.66,112.46 329.45,112.91 330.23,114 331.02,113.88 331.81,113.25 332.59,113.28 333.38,114.06 334.16,115.23 334.95,115.29 335.74,114.95 336.52,114.03 337.31,112.23 338.1,111.49 338.88,109.52 339.67,108.12 340.45,105.37 341.24,103.19 342.03,103.09 342.81,103.59 343.6,105.11 344.39,106.12 345.17,108.02 345.96,110.5 346.75,112.1 347.53,113.88 348.32,114.71 349.1,114.78 349.89,113.28 350.68,111.99 351.46,112.31 352.25,113.3 353.04,114.62 353.82,115.74 354.61,116.53 355.4,116.26 356.18,115.83 356.97,115.66 357.75,115.92 358.54,115.9 359.33,114.7 360.11,115.02 360.9,114.57 361.69,115.95 362.47,116.03 363.26,117.16 364.05,116.58 364.83,116.43 365.62,114.89 366.4,115.72 367.19,116.12 367.98,116.96 368.76,116.35 369.55,116.06 370.34,117.13 371.12,116.87 371.91,116.64 372.69,115.82 373.48,116.76 374.27,116.97 375.05,117.6 375.84,117.6 376.63,118.17 377.41,117.71 378.2,118.14 378.99,118.42 379.77,118.69 380.56,118.62 381.34,118.68 382.13,119.38 382.92,119.26 383.7,119.66 384.49,119.52 385.28,119.24 386.06,118.96 386.85,119.57 387.64,120.95 388.42,121.16 389.21,121.44 389.99,121.71 390.78,122.17 391.57,122.12 392.35,121.48" fill="none" stroke="#3a80f0" stroke-width="0.9" stroke-linejoin="round" />
<polygon points="259.89,127.12 260.7,126.54 261.5,127.15 262.31,126.55 263.12,126.89 263.93,126.52 264.74,126.28 265.55,126.89 266.35,127.82 267.16,128.15 267.97,128.4 268.78,127.75 269.59,127.3 270.4,126.73 271.21,126.72 272.01,127.47 272.82,127.48 273.63,127.3 274.44,127.44 275.25,127.18 276.06,127.48 276.86,126.77 277.67,127.01 278.48,126.19 279.29,125.9 280.1,125.68 280.91,126.03 281.72,126.13 282.52,125.55 283.33,125.04 284.14,125.07 284.95,125.39 285.76,125.11 286.57,125.69 287.38,125.52 288.18,126.35 288.99,125.14 289.8,125.42 290.61,125.02 291.42,125.83 292.23,125.53 293.03,125.07 293.84,123.91 294.65,124.22 295.46,124.43 296.27,123.21 297.08,121.82 297.89,120.96 298.69,121.57 299.5,122.49 300.31,121.82 301.12,122.2 301.93,122.02 302.74,122.23 303.54,122.15 304.35,121.27 305.16,120.69 305.97,119.76 306.78,119.51 307.59,120.14 308.4,121.27 309.2,121.81 310.01,121.11 310.82,119.42 311.63,118.06 312.44,117.99 313.25,118.85 314.06,119.51 314.86,120.26 315.67,119.28 316.48,118.91 317.29,117.84 318.1,118.3 318.91,118.98 319.71,119.28 320.52,120.53 321.33,121.36 322.14,122.87 322.95,123.62 323.76,123.65 324.57,124.26 325.37,123.85 326.18,123.95 326.99,124.18 327.8,124.05 328.61,123.99 329.42,123.78 330.23,123.75 331.03,123.16 331.84,121.26 332.65,120.62 333.46,119.1 334.27,118.33 335.08,116.33 335.88,115.6 336.69,114.95 337.5,115.03 338.31,116.08 339.12,118.1 339.93,119.89 340.74,121.29 341.54,122.01 342.35,122.96 343.16,123.58 343.97,123.33 344.78,123.25 345.59,122.56 346.39,122.24 347.2,121.99 348.01,122.56 348.82,123.62 349.63,124.87 350.44,125.52 351.25,125.6 352.05,124.77 352.86,124.28 353.67,123.56 354.48,122.8 355.29,121.7 356.1,122.1 356.91,122.7 357.71,123.63 358.52,123.69 359.33,124.04 360.14,124.25 360.95,124.32 361.76,124.6 362.56,124.89 363.37,125.11 364.18,125 364.99,124.47 365.8,124.47 366.61,124.43 367.42,124.43 368.22,125.01 369.03,125.51 369.84,126.03 370.65,125.86 371.46,126.34 372.27,126.37 373.07,126.59 373.88,126.77 374.69,126.6 375.5,127.22 376.31,127.01 377.12,128.12 377.93,127.73 378.73,127.64 379.54,127.81 380.35,128.01 381.16,128.37 381.97,128.54 382.78,128.16 383.59,128.14 384.39,127.96 385.2,128.74 386.01,129.01 386.82,128.93 387.63,128.86 388.44,128.75 388.44,133.74 259.89,133.74" fill="#fff" stroke="none" stroke-width="1" />
<polyline points="259.89,127.12 260.7,126.54 261.5,127.15 262.31,126.55 263.12,126.89 263.93,126.52 264.74,126.28 265.55,126.89 266.35,127.82 267.16,128.15 267.97,128.4 268.78,127.75 269.59,127.3 270.4,126.73 271.21,126.72 272.01,127.47 272.82,127.48 273.63,127.3 274.44,127.44 275.25,127.18 276.06,127.48 276.86,126.77 277.67,127.01 278.48,126.19 279.29,125.9 280.1,125.68 280.91,126.03 281.72,126.13 282.52,125.55 283.33,125.04 284.14,125.07 284.95,125.39 285.76,125.11 286.57,125.69 287.38,125.52 288.18,126.35 288.99,125.14 289.8,125.42 290.61,125.02 291.42,125.83 292.23,125.53 293.03,125.07 293.84,123.91 294.65,124.22 295.46,124.43 296.27,123.21 297.08,121.82 297.89,120.96 298.69,121.57 299.5,122.49 300.31,121.82 301.12,122.2 301.93,122.02 302.74,122.23 303.54,122.15 304.35,121.27 305.16,120.69 305.97,119.76 306.78,119.51 307.59,120.14 308.4,121.27 309.2,121.81 310.01,121.11 310.82,119.42 311.63,118.06 312.44,117.99 313.25,118.85 314.06,119.51 314.86,120.26 315.67,119.28 316.48,118.91 317.29,117.84 318.1,118.3 318.91,118.98 319.71,119.28 320.52,120.53 321.33,121.36 322.14,122.87 322.95,123.62 323.76,123.65 324.57,124.26 325.37,123.85 326.18,123.95 326.99,124.18 327.8,124.05 328.61,123.99 329.42,123.78 330.23,123.75 331.03,123.16 331.84,121.26 332.65,120.62 333.46,119.1 334.27,118.33 335.08,116.33 335.88,115.6 336.69,114.95 337.5,115.03 338.31,116.08 339.12,118.1 339.93,119.89 340.74,121.29 341.54,122.01 342.35,122.96 343.16,123.58 343.97,123.33 344.78,123.25 345.59,122.56 346.39,122.24 347.2,121.99 348.01,122.56 348.82,123.62 349.63,124.87 350.44,125.52 351.25,125.6 352.05,124.77 352.86,124.28 353.67,123.56 354.48,122.8 355.29,121.7 356.1,122.1 356.91,122.7 357.71,123.63 358.52,123.69 359.33,124.04 360.14,124.25 360.95,124.32 361.76,124.6 362.56,124.89 363.37,125.11 364.18,125 364.99,124.47 365.8,124.47 366.61,124.43 367.42,124.43 368.22,125.01 369.03,125.51 369.84,126.03 370.65,125.86 371.46,126.34 372.27,126.37 373.07,126.59 373.88,126.77 374.69,126.6 375.5,127.22 376.31,127.01 377.12,128.12 377.93,127.73 378.73,127.64 379.54,127.81 380.35,128.01 381.16,128.37 381.97,128.54 382.78,128.16 383.59,128.14 384.39,127.96 385.2,128.74 386.01,129.01 386.82,128.93 387.63,128.86 388.44,128.75" fill="none" stroke="#4e4ef6" stroke-width="0.9" stroke-linejoin="round" />
<polygon points="252.15,136.1 252.98,136.85 253.81,137.39 254.64,137.13 255.47,136.38 256.31,136.52 257.14,135.65 257.97,135.47 258.8,134.76 259.63,134.63 260.46,134.32 261.3,134.59 262.13,134.52 262.96,134.78 263.79,135.16 264.62,135.98 265.45,136.57 266.28,136.17 267.12,136.56 267.95,136.04 268.78,136.46 269.61,135.31 270.44,135.28 271.27,135.25 272.11,135.47 272.94,136.32 273.77,135.92 274.6,135.72 275.43,135.52 276.26,135.26 277.09,135.43 277.93,134.66 278.76,135.42 279.59,135.1 280.42,134.9 281.25,134.34 282.08,134.84 282.92,134.71 283.75,134.2 284.58,133.63 285.41,133.47 286.24,134.05 287.07,134.05 287.9,134.17 288.74,133.74 289.57,132.53 290.4,132.15 291.23,131.94 292.06,132.22 292.89,132.48 293.73,132.1 294.56,132.28 295.39,132.25 296.22,132.52 297.05,132.89 297.88,132.18 298.71,131.77 299.55,130.45 300.38,130.25 301.21,130.35 302.04,131.79 302.87,131.4 303.7,130.64 304.53,129.5 305.37,129.72 306.2,129.95 307.03,130.43 307.86,130.12 308.69,130.29 309.52,130.52 310.36,131.07 311.19,131.7 312.02,130.81 312.85,130.55 313.68,129.57 314.51,129.78 315.34,131.04 316.18,132.05 317.01,132.81 317.84,132.47 318.67,132.95 319.5,133.11 320.33,133.28 321.17,132.67 322,133 322.83,133.26 323.66,133.85 324.49,133.8 325.32,133.66 326.15,133.08 326.99,132.04 327.82,130.71 328.65,129.13 329.48,127.97 330.31,127.15 331.14,127.62 331.98,127.83 332.81,128.1 333.64,128.99 334.47,130.64 335.3,132.51 336.13,133.43 336.96,133.92 337.8,134.39 338.63,133.98 339.46,134.1 340.29,133.44 341.12,133.46 341.95,133.37 342.79,133.28 343.62,133.62 344.45,133.57 345.28,134.36 346.11,134.17 346.94,133.98 347.77,133.64 348.61,134.24 349.44,133.94 350.27,133.55 351.1,132.91 351.93,133.3 352.76,133.74 353.6,133.96 354.43,134.59 355.26,134.77 356.09,134.78 356.92,134.66 357.75,134.99 358.58,134.44 359.42,134.01 360.25,133.79 361.08,134.66 361.91,135.86 362.74,136.31 363.57,136.29 364.4,134.96 365.24,135.31 366.07,135.6 366.9,135.5 367.73,134.66 368.56,134.38 369.39,134.76 370.23,135.15 371.06,135.47 371.89,135.75 372.72,135.49 373.55,135.9 374.38,135.69 375.21,136.7 376.05,136.64 376.88,136.15 377.71,135.78 378.54,135.36 379.37,136.88 380.2,136.87 381.04,137.41 381.87,137.25 382.7,136.96 383.53,136.08 384.36,135.96 384.36,142.74 252.15,142.74" fill="#fff" stroke="none" stroke-width="1" />
<polyline points="252.15,136.1 252.98,136.85 253.81,137.39 254.64,137.13 255.47,136.38 256.31,136.52 257.14,135.65 257.97,135.47 258.8,134.76 259.63,134.63 260.46,134.32 261.3,134.59 262.13,134.52 262.96,134.78 263.79,135.16 264.62,135.98 265.45,136.57 266.28,136.17 267.12,136.56 267.95,136.04 268.78,136.46 269.61,135.31 270.44,135.28 271.27,135.25 272.11,135.47 272.94,136.32 273.77,135.92 274.6,135.72 275.43,135.52 276.26,135.26 277.09,135.43 277.93,134.66 278.76,135.42 279.59,135.1 280.42,134.9 281.25,134.34 282.08,134.84 282.92,134.71 283.75,134.2 284.58,133.63 285.41,133.47 286.24,134.05 287.07,134.05 287.9,134.17 288.74,133.74 289.57,132.53 290.4,132.15 291.23,131.94 292.06,132.22 292.89,132.48 293.73,132.1 294.56,132.28 295.39,132.25 296.22,132.52 297.05,132.89 297.88,132.18 298.71,131.77 299.55,130.45 300.38,130.25 301.21,130.35 302.04,131.79 302.87,131.4 303.7,130.64 304.53,129.5 305.37,129.72 306.2,129.95 307.03,130.43 307.86,130.12 308.69,130.29 309.52,130.52 310.36,131.07 311.19,131.7 312.02,130.81 312.85,130.55 313.68,129.57 314.51,129.78 315.34,131.04 316.18,132.05 317.01,132.81 317.84,132.47 318.67,132.95 319.5,133.11 320.33,133.28 321.17,132.67 322,133 322.83,133.26 323.66,133.85 324.49,133.8 325.32,133.66 326.15,133.08 326.99,132.04 327.82,130.71 328.65,129.13 329.48,127.97 330.31,127.15 331.14,127.62 331.98,127.83 332.81,128.1 333.64,128.99 334.47,130.64 335.3,132.51 336.13,133.43 336.96,133.92 337.8,134.39 338.63,133.98 339.46,134.1 340.29,133.44 341.12,133.46 341.95,133.37 342.79,133.28 343.62,133.62 344.45,133.57 345.28,134.36 346.11,134.17 346.94,133.98 347.77,133.64 348.61,134.24 349.44,133.94 350.27,133.55 351.1,132.91 351.93,133.3 352.76,133.74 353.6,133.96 354.43,134.59 355.26,134.77 356.09,134.78 356.92,134.66 357.75,134.99 358.58,134.44 359.42,134.01 360.25,133.79 361.08,134.66 361.91,135.86 362.74,136.31 363.57,136.29 364.4,134.96 365.24,135.31 366.07,135.6 366.9,135.5 367.73,134.66 368.56,134.38 369.39,134.76 370.23,135.15 371.06,135.47 371.89,135.75 372.72,135.49 373.55,135.9 374.38,135.69 375.21,136.7 376.05,136.64 376.88,136.15 377.71,135.78 378.54,135.36 379.37,136.88 380.2,136.87 381.04,137.41 381.87,137.25 382.7,136.96 383.53,136.08 384.36,135.96" fill="none" stroke="#6a44f2" stroke-width="0.9" stroke-linejoin="round" />
<line x1="294.9" y1="132.8" x2="362.7" y2="29.7" stroke="#555" stroke-width="0.55" />
<line x1="302.6" y1="132.8" x2="368.4" y2="23.8" stroke="#555" stroke-width="0.55" />
<line x1="310" y1="132.8" x2="374.8" y2="18.5" stroke="#555" stroke-width="0.55" />
<line x1="326.4" y1="132.8" x2="389.2" y2="5.6" stroke="#555" stroke-width="0.55" />
<line x1="342.8" y1="134" x2="396.5" y2="24.1" stroke="#555" stroke-width="0.55" />
<line x1="348" y1="139.8" x2="400.5" y2="34.5" stroke="#555" stroke-width="0.55" />
<line x1="246.8" y1="149.3" x2="385.5" y2="149.3" stroke="#333" stroke-width="0.9" />
<line x1="246.8" y1="149.3" x2="246.8" y2="79.4" stroke="#333" stroke-width="0.9" />
<line x1="385.5" y1="149.3" x2="429.5" y2="48.4" stroke="#333" stroke-width="0.9" />
<line x1="246.8" y1="149.3" x2="246.8" y2="151.8" stroke="#333" stroke-width="0.8" />
<text x="246.8" y="161.6" font-size="8.3" text-anchor="middle" fill="#222" >2000</text>
<line x1="264.14" y1="149.3" x2="264.14" y2="150.8" stroke="#333" stroke-width="0.8" />
<line x1="281.48" y1="149.3" x2="281.48" y2="151.8" stroke="#333" stroke-width="0.8" />
<text x="281.48" y="161.6" font-size="8.3" text-anchor="middle" fill="#222" >1800</text>
<line x1="298.81" y1="149.3" x2="298.81" y2="150.8" stroke="#333" stroke-width="0.8" />
<line x1="316.15" y1="149.3" x2="316.15" y2="151.8" stroke="#333" stroke-width="0.8" />
<text x="316.15" y="161.6" font-size="8.3" text-anchor="middle" fill="#222" >1600</text>
<line x1="333.49" y1="149.3" x2="333.49" y2="150.8" stroke="#333" stroke-width="0.8" />
<line x1="350.82" y1="149.3" x2="350.82" y2="151.8" stroke="#333" stroke-width="0.8" />
<text x="350.82" y="161.6" font-size="8.3" text-anchor="middle" fill="#222" >1400</text>
<line x1="368.16" y1="149.3" x2="368.16" y2="150.8" stroke="#333" stroke-width="0.8" />
<line x1="385.5" y1="149.3" x2="385.5" y2="151.8" stroke="#333" stroke-width="0.8" />
<text x="385.5" y="161.6" font-size="8.3" text-anchor="middle" fill="#222" >1200</text>
<text x="318.7" y="174.6" font-size="10" text-anchor="middle" fill="#222" >Wavenumber (cm<tspan font-size="6" dy="-3.5">-1</tspan><tspan dy="3.5">)</tspan></text>
<text x="238.2" y="116.5" font-size="10.2" text-anchor="middle" fill="#222" transform="rotate(-90 238.2 116.5)">Intensity (a.u.)</text>
<line x1="404.3" y1="132.9" x2="433.9" y2="60.5" stroke="#222" stroke-width="0.8" />
<polygon points="435.6,56.3 432.2,61.2 435.6,62.3" fill="#222" stroke="none" stroke-width="1" />
<text x="430" y="53.8" font-size="7.4" fill="#222" >-1.0</text>
<text x="396.8" y="140" font-size="7.1" fill="#222" >OCP</text>
<text x="0" y="0" font-size="5.2" text-anchor="middle" fill="#222" transform="translate(435.6 93.6) rotate(-68.5) scale(1,1.75)">Potential (V vs. RHE)</text>
<line x1="338.2" y1="3.8" x2="338.2" y2="17.2" stroke="#222" stroke-width="0.8" />
<line x1="336.7" y1="3.8" x2="339.7" y2="3.8" stroke="#222" stroke-width="0.8" />
<line x1="336.7" y1="17.2" x2="339.7" y2="17.2" stroke="#222" stroke-width="0.8" />
<text x="339.9" y="12.9" font-size="6.8" fill="#222" textLength="14" lengthAdjust="spacingAndGlyphs">0.006</text>
<text x="410.7" y="8.6" font-size="6.6" fill="#222" >Fe<tspan font-size="4.3" dy="1.9">SAC</tspan></text>
<text x="227.1" y="12.7" font-size="22.5" fill="#000" >c</text>
<text x="286.7" y="139.4" font-size="5.4" fill="#5a5af0" font-weight="bold">NO<tspan font-size="3.8" dy="1.5">2</tspan></text>
<text x="297.5" y="137.9" font-size="5.4" fill="#f01818" font-weight="bold">NO<tspan font-size="3.8" dy="1.5">3</tspan></text>
<text x="308.9" y="140.1" font-size="5.4" fill="#18c8a0" font-weight="bold">H<tspan font-size="3.8" dy="1.5">2</tspan><tspan dy="-1.5">O</tspan></text>
<text x="323" y="140.9" font-size="5.4" fill="#f87a50" font-weight="bold">NH<tspan font-size="3.8" dy="1.5">2</tspan></text>
<text x="334.9" y="140.5" font-size="5.4" fill="#f05a6a" font-weight="bold">NH<tspan font-size="3.8" dy="1.5">4</tspan><tspan font-size="3.8" dy="-4">+</tspan></text>
<text x="346.5" y="143.8" font-size="5.4" fill="#f87a50" font-weight="bold">NH<tspan font-size="3.8" dy="1.5">x</tspan></text>
<polygon points="478.5,148.1 617.2,148.1 661.2,47.2 565,47.2" fill="#efefef" stroke="none" stroke-width="1" />
<line x1="478.5" y1="148.1" x2="565" y2="47.2" stroke="#999" stroke-width="0.6" />
<path d="M565,47.2 V0.6 H661.2 V47.2" fill="none" stroke="#aaa" stroke-width="0.8"/>
<line x1="478.5" y1="78.2" x2="565" y2="0.6" stroke="#999" stroke-width="0.8" />
<polygon points="561.11,47.72 561.71,47.67 562.31,47.56 562.91,47.43 563.52,47.38 564.12,47.42 564.72,47.47 565.32,47.43 565.92,47.31 566.52,47.25 567.13,47.31 567.73,47.38 568.33,47.33 568.93,47.24 569.53,47.24 570.13,47.28 570.73,47.29 571.34,47.23 571.94,47.15 572.54,47.05 573.14,46.91 573.74,46.78 574.34,46.67 574.94,46.56 575.55,46.44 576.15,46.36 576.75,46.31 577.35,46.22 577.95,46.08 578.55,45.91 579.15,45.72 579.76,45.5 580.36,45.3 580.96,45.13 581.56,44.97 582.16,44.8 582.76,44.59 583.37,44.34 583.97,44.04 584.57,43.7 585.17,43.38 585.77,43.14 586.37,42.89 586.97,42.51 587.58,41.96 588.18,41.24 588.78,40.42 589.38,39.52 589.98,38.63 590.58,37.96 591.18,37.65 591.79,37.61 592.39,37.57 592.99,37.17 593.59,36.12 594.19,34.32 594.79,31.97 595.39,29.57 596,27.7 596.6,26.79 597.2,26.87 597.8,27.53 598.4,28.03 599,27.64 599.61,25.95 600.21,23.03 600.81,19.37 601.41,15.84 602.01,13.45 602.61,13 603.21,14.72 603.82,18.26 604.42,22.9 605.02,27.78 605.62,32.23 606.22,35.84 606.82,38.46 607.42,40.12 608.03,41.04 608.63,41.45 609.23,41.36 609.83,40.75 610.43,39.72 611.03,38.56 611.64,37.55 612.24,36.84 612.84,36.28 613.44,35.43 614.04,33.75 614.64,31.02 615.24,27.4 615.85,23.49 616.45,20.12 617.05,18.01 617.65,17.62 618.25,19.08 618.85,22.15 619.45,26.19 620.06,30.34 620.66,33.76 621.26,35.93 621.86,36.85 622.46,37.11 623.06,37.42 623.66,38.11 624.27,38.9 624.87,39.27 625.47,39.14 626.07,39.13 626.67,40.01 627.27,41.79 627.88,43.75 628.48,45.22 629.08,45.93 629.68,45.91 630.28,45.34 630.88,44.46 631.48,43.57 632.09,42.97 632.69,42.84 633.29,43.26 633.89,44.1 634.49,45.06 635.09,45.91 635.69,46.49 636.3,46.74 636.9,46.69 637.5,46.46 638.1,46.11 638.7,45.68 639.3,45.2 639.91,44.79 640.51,44.53 641.11,44.46 641.71,44.6 642.31,44.98 642.91,45.61 643.51,46.37 644.12,47.12 644.72,47.78 645.32,48.28 645.92,48.64 646.52,48.94 647.12,49.29 647.72,49.66 648.33,49.95 648.93,50.16 649.53,50.4 650.13,50.67 650.73,50.89 651.33,51.03 651.93,50.97 652.54,50.67 653.14,50.34 653.74,50.34 654.34,50.84 654.94,51.65 655.54,52.47 656.15,53.1 656.75,53.45 656.75,52.67 561.11,52.67" fill="#fff" stroke="none" stroke-width="1" />
<polyline points="561.11,47.72 561.71,47.67 562.31,47.56 562.91,47.43 563.52,47.38 564.12,47.42 564.72,47.47 565.32,47.43 565.92,47.31 566.52,47.25 567.13,47.31 567.73,47.38 568.33,47.33 568.93,47.24 569.53,47.24 570.13,47.28 570.73,47.29 571.34,47.23 571.94,47.15 572.54,47.05 573.14,46.91 573.74,46.78 574.34,46.67 574.94,46.56 575.55,46.44 576.15,46.36 576.75,46.31 577.35,46.22 577.95,46.08 578.55,45.91 579.15,45.72 579.76,45.5 580.36,45.3 580.96,45.13 581.56,44.97 582.16,44.8 582.76,44.59 583.37,44.34 583.97,44.04 584.57,43.7 585.17,43.38 585.77,43.14 586.37,42.89 586.97,42.51 587.58,41.96 588.18,41.24 588.78,40.42 589.38,39.52 589.98,38.63 590.58,37.96 591.18,37.65 591.79,37.61 592.39,37.57 592.99,37.17 593.59,36.12 594.19,34.32 594.79,31.97 595.39,29.57 596,27.7 596.6,26.79 597.2,26.87 597.8,27.53 598.4,28.03 599,27.64 599.61,25.95 600.21,23.03 600.81,19.37 601.41,15.84 602.01,13.45 602.61,13 603.21,14.72 603.82,18.26 604.42,22.9 605.02,27.78 605.62,32.23 606.22,35.84 606.82,38.46 607.42,40.12 608.03,41.04 608.63,41.45 609.23,41.36 609.83,40.75 610.43,39.72 611.03,38.56 611.64,37.55 612.24,36.84 612.84,36.28 613.44,35.43 614.04,33.75 614.64,31.02 615.24,27.4 615.85,23.49 616.45,20.12 617.05,18.01 617.65,17.62 618.25,19.08 618.85,22.15 619.45,26.19 620.06,30.34 620.66,33.76 621.26,35.93 621.86,36.85 622.46,37.11 623.06,37.42 623.66,38.11 624.27,38.9 624.87,39.27 625.47,39.14 626.07,39.13 626.67,40.01 627.27,41.79 627.88,43.75 628.48,45.22 629.08,45.93 629.68,45.91 630.28,45.34 630.88,44.46 631.48,43.57 632.09,42.97 632.69,42.84 633.29,43.26 633.89,44.1 634.49,45.06 635.09,45.91 635.69,46.49 636.3,46.74 636.9,46.69 637.5,46.46 638.1,46.11 638.7,45.68 639.3,45.2 639.91,44.79 640.51,44.53 641.11,44.46 641.71,44.6 642.31,44.98 642.91,45.61 643.51,46.37 644.12,47.12 644.72,47.78 645.32,48.28 645.92,48.64 646.52,48.94 647.12,49.29 647.72,49.66 648.33,49.95 648.93,50.16 649.53,50.4 650.13,50.67 650.73,50.89 651.33,51.03 651.93,50.97 652.54,50.67 653.14,50.34 653.74,50.34 654.34,50.84 654.94,51.65 655.54,52.47 656.15,53.1 656.75,53.45" fill="none" stroke="#f24a24" stroke-width="0.9" stroke-linejoin="round" />
<polygon points="556.96,51.94 557.58,51.95 558.19,52.02 558.8,52.13 559.42,52.18 560.03,52.17 560.64,52.16 561.26,52.13 561.87,52.03 562.49,51.88 563.1,51.82 563.71,51.81 564.33,51.81 564.94,51.85 565.56,51.92 566.17,51.9 566.78,51.78 567.4,51.65 568.01,51.57 568.62,51.48 569.24,51.3 569.85,51.11 570.47,51.04 571.08,51.04 571.69,50.98 572.31,50.87 572.92,50.8 573.54,50.72 574.15,50.54 574.76,50.31 575.38,50.13 575.99,50.01 576.6,49.87 577.22,49.64 577.83,49.37 578.45,49.17 579.06,49.07 579.67,48.96 580.29,48.73 580.9,48.46 581.52,48.28 582.13,48.07 582.74,47.72 583.36,47.21 583.97,46.62 584.58,45.94 585.2,45.11 585.81,44.23 586.43,43.42 587.04,42.78 587.65,42.4 588.27,42.29 588.88,42.26 589.5,41.91 590.11,40.98 590.72,39.42 591.34,37.39 591.95,35.22 592.56,33.41 593.18,32.37 593.79,32.28 594.41,32.81 595.02,33.26 595.63,32.92 596.25,31.4 596.86,28.71 597.48,25.27 598.09,21.91 598.7,19.65 599.32,19.25 599.93,20.85 600.54,24.17 601.16,28.59 601.77,33.28 602.39,37.48 603,40.79 603.61,43.19 604.23,44.82 604.84,45.81 605.45,46.2 606.07,45.99 606.68,45.28 607.3,44.25 607.91,43.17 608.52,42.28 609.14,41.66 609.75,41.1 610.37,40.22 610.98,38.62 611.59,36.04 612.21,32.55 612.82,28.66 613.43,25.19 614.05,22.97 614.66,22.51 615.28,23.95 615.89,26.97 616.5,30.9 617.12,34.91 617.73,38.25 618.35,40.44 618.96,41.46 619.57,41.79 620.19,42.16 620.8,42.89 621.41,43.68 622.03,44.04 622.64,43.96 623.26,43.98 623.87,44.77 624.48,46.44 625.1,48.36 625.71,49.75 626.33,50.33 626.94,50.27 627.55,49.8 628.17,49.07 628.78,48.29 629.39,47.76 630.01,47.67 630.62,48.03 631.24,48.72 631.85,49.58 632.46,50.41 633.08,51.03 633.69,51.34 634.31,51.32 634.92,51.09 635.53,50.76 636.15,50.36 636.76,49.94 637.37,49.58 637.99,49.39 638.6,49.37 639.22,49.52 639.83,49.84 640.44,50.41 641.06,51.12 641.67,51.79 642.29,52.35 642.9,52.8 643.51,53.21 644.13,53.61 644.74,53.97 645.35,54.24 645.97,54.43 646.58,54.63 647.2,54.82 647.81,54.99 648.42,55.17 649.04,55.35 649.65,55.38 650.27,55.19 650.88,54.96 651.49,54.98 652.11,55.42 652.72,56.15 653.33,56.95 653.95,57.62 654.56,57.99 654.56,57.34 556.96,57.34" fill="#fff" stroke="none" stroke-width="1" />
<polyline points="556.96,51.94 557.58,51.95 558.19,52.02 558.8,52.13 559.42,52.18 560.03,52.17 560.64,52.16 561.26,52.13 561.87,52.03 562.49,51.88 563.1,51.82 563.71,51.81 564.33,51.81 564.94,51.85 565.56,51.92 566.17,51.9 566.78,51.78 567.4,51.65 568.01,51.57 568.62,51.48 569.24,51.3 569.85,51.11 570.47,51.04 571.08,51.04 571.69,50.98 572.31,50.87 572.92,50.8 573.54,50.72 574.15,50.54 574.76,50.31 575.38,50.13 575.99,50.01 576.6,49.87 577.22,49.64 577.83,49.37 578.45,49.17 579.06,49.07 579.67,48.96 580.29,48.73 580.9,48.46 581.52,48.28 582.13,48.07 582.74,47.72 583.36,47.21 583.97,46.62 584.58,45.94 585.2,45.11 585.81,44.23 586.43,43.42 587.04,42.78 587.65,42.4 588.27,42.29 588.88,42.26 589.5,41.91 590.11,40.98 590.72,39.42 591.34,37.39 591.95,35.22 592.56,33.41 593.18,32.37 593.79,32.28 594.41,32.81 595.02,33.26 595.63,32.92 596.25,31.4 596.86,28.71 597.48,25.27 598.09,21.91 598.7,19.65 599.32,19.25 599.93,20.85 600.54,24.17 601.16,28.59 601.77,33.28 602.39,37.48 603,40.79 603.61,43.19 604.23,44.82 604.84,45.81 605.45,46.2 606.07,45.99 606.68,45.28 607.3,44.25 607.91,43.17 608.52,42.28 609.14,41.66 609.75,41.1 610.37,40.22 610.98,38.62 611.59,36.04 612.21,32.55 612.82,28.66 613.43,25.19 614.05,22.97 614.66,22.51 615.28,23.95 615.89,26.97 616.5,30.9 617.12,34.91 617.73,38.25 618.35,40.44 618.96,41.46 619.57,41.79 620.19,42.16 620.8,42.89 621.41,43.68 622.03,44.04 622.64,43.96 623.26,43.98 623.87,44.77 624.48,46.44 625.1,48.36 625.71,49.75 626.33,50.33 626.94,50.27 627.55,49.8 628.17,49.07 628.78,48.29 629.39,47.76 630.01,47.67 630.62,48.03 631.24,48.72 631.85,49.58 632.46,50.41 633.08,51.03 633.69,51.34 634.31,51.32 634.92,51.09 635.53,50.76 636.15,50.36 636.76,49.94 637.37,49.58 637.99,49.39 638.6,49.37 639.22,49.52 639.83,49.84 640.44,50.41 641.06,51.12 641.67,51.79 642.29,52.35 642.9,52.8 643.51,53.21 644.13,53.61 644.74,53.97 645.35,54.24 645.97,54.43 646.58,54.63 647.2,54.82 647.81,54.99 648.42,55.17 649.04,55.35 649.65,55.38 650.27,55.19 650.88,54.96 651.49,54.98 652.11,55.42 652.72,56.15 653.33,56.95 653.95,57.62 654.56,57.99" fill="none" stroke="#f48024" stroke-width="0.9" stroke-linejoin="round" />
<polygon points="552.51,56.62 553.14,56.69 553.77,56.75 554.4,56.76 555.02,56.75 555.65,56.82 556.28,56.93 556.9,57.02 557.53,57.04 558.16,57.03 558.78,57.01 559.41,56.95 560.04,56.87 560.67,56.8 561.29,56.76 561.92,56.71 562.55,56.59 563.17,56.44 563.8,56.32 564.43,56.22 565.06,56.13 565.68,56.1 566.31,56.15 566.94,56.19 567.56,56.17 568.19,56.11 568.82,56.03 569.45,55.93 570.07,55.8 570.7,55.62 571.33,55.38 571.95,55.19 572.58,55.05 573.21,54.9 573.83,54.7 574.46,54.47 575.09,54.24 575.72,54 576.34,53.74 576.97,53.46 577.6,53.2 578.22,52.99 578.85,52.74 579.48,52.38 580.11,51.87 580.73,51.27 581.36,50.62 581.99,49.91 582.61,49.12 583.24,48.38 583.87,47.93 584.5,47.78 585.12,47.72 585.75,47.42 586.38,46.57 587,45.04 587.63,43 588.26,40.87 588.88,39.17 589.51,38.28 590.14,38.27 590.77,38.83 591.39,39.31 592.02,39.02 592.65,37.48 593.27,34.72 593.9,31.28 594.53,28 595.16,25.79 595.78,25.35 596.41,26.94 597.04,30.24 597.66,34.5 598.29,38.91 598.92,42.9 599.55,46.18 600.17,48.59 600.8,50.17 601.43,51.05 602.05,51.35 602.68,51.17 603.31,50.56 603.93,49.53 604.56,48.3 605.19,47.24 605.82,46.59 606.44,46.14 607.07,45.36 607.7,43.75 608.32,41.07 608.95,37.55 609.58,33.79 610.21,30.5 610.83,28.38 611.46,27.92 612.09,29.31 612.71,32.34 613.34,36.33 613.97,40.33 614.6,43.54 615.22,45.62 615.85,46.62 616.48,47.02 617.1,47.43 617.73,48.16 618.36,48.93 618.98,49.21 619.61,48.96 620.24,48.92 620.87,49.81 621.49,51.55 622.12,53.41 622.75,54.78 623.37,55.41 624,55.35 624.63,54.8 625.26,54.01 625.88,53.2 626.51,52.61 627.14,52.47 627.76,52.82 628.39,53.51 629.02,54.33 629.65,55.11 630.27,55.75 630.9,56.12 631.53,56.15 632.15,55.9 632.78,55.54 633.41,55.17 634.03,54.83 634.66,54.54 635.29,54.35 635.92,54.3 636.54,54.46 637.17,54.84 637.8,55.36 638.42,55.93 639.05,56.55 639.68,57.17 640.31,57.68 640.93,58.04 641.56,58.32 642.19,58.59 642.81,58.88 643.44,59.15 644.07,59.35 644.7,59.54 645.32,59.77 645.95,60.01 646.58,60.17 647.2,60.09 647.83,59.74 648.46,59.36 649.08,59.33 649.71,59.79 650.34,60.57 650.97,61.39 651.59,62.03 652.22,62.37 652.22,62.37 552.51,62.37" fill="#fff" stroke="none" stroke-width="1" />
<polyline points="552.51,56.62 553.14,56.69 553.77,56.75 554.4,56.76 555.02,56.75 555.65,56.82 556.28,56.93 556.9,57.02 557.53,57.04 558.16,57.03 558.78,57.01 559.41,56.95 560.04,56.87 560.67,56.8 561.29,56.76 561.92,56.71 562.55,56.59 563.17,56.44 563.8,56.32 564.43,56.22 565.06,56.13 565.68,56.1 566.31,56.15 566.94,56.19 567.56,56.17 568.19,56.11 568.82,56.03 569.45,55.93 570.07,55.8 570.7,55.62 571.33,55.38 571.95,55.19 572.58,55.05 573.21,54.9 573.83,54.7 574.46,54.47 575.09,54.24 575.72,54 576.34,53.74 576.97,53.46 577.6,53.2 578.22,52.99 578.85,52.74 579.48,52.38 580.11,51.87 580.73,51.27 581.36,50.62 581.99,49.91 582.61,49.12 583.24,48.38 583.87,47.93 584.5,47.78 585.12,47.72 585.75,47.42 586.38,46.57 587,45.04 587.63,43 588.26,40.87 588.88,39.17 589.51,38.28 590.14,38.27 590.77,38.83 591.39,39.31 592.02,39.02 592.65,37.48 593.27,34.72 593.9,31.28 594.53,28 595.16,25.79 595.78,25.35 596.41,26.94 597.04,30.24 597.66,34.5 598.29,38.91 598.92,42.9 599.55,46.18 600.17,48.59 600.8,50.17 601.43,51.05 602.05,51.35 602.68,51.17 603.31,50.56 603.93,49.53 604.56,48.3 605.19,47.24 605.82,46.59 606.44,46.14 607.07,45.36 607.7,43.75 608.32,41.07 608.95,37.55 609.58,33.79 610.21,30.5 610.83,28.38 611.46,27.92 612.09,29.31 612.71,32.34 613.34,36.33 613.97,40.33 614.6,43.54 615.22,45.62 615.85,46.62 616.48,47.02 617.1,47.43 617.73,48.16 618.36,48.93 618.98,49.21 619.61,48.96 620.24,48.92 620.87,49.81 621.49,51.55 622.12,53.41 622.75,54.78 623.37,55.41 624,55.35 624.63,54.8 625.26,54.01 625.88,53.2 626.51,52.61 627.14,52.47 627.76,52.82 628.39,53.51 629.02,54.33 629.65,55.11 630.27,55.75 630.9,56.12 631.53,56.15 632.15,55.9 632.78,55.54 633.41,55.17 634.03,54.83 634.66,54.54 635.29,54.35 635.92,54.3 636.54,54.46 637.17,54.84 637.8,55.36 638.42,55.93 639.05,56.55 639.68,57.17 640.31,57.68 640.93,58.04 641.56,58.32 642.19,58.59 642.81,58.88 643.44,59.15 644.07,59.35 644.7,59.54 645.32,59.77 645.95,60.01 646.58,60.17 647.2,60.09 647.83,59.74 648.46,59.36 649.08,59.33 649.71,59.79 650.34,60.57 650.97,61.39 651.59,62.03 652.22,62.37" fill="none" stroke="#f4a824" stroke-width="0.9" stroke-linejoin="round" />
<polygon points="547.77,62.28 548.41,62.3 549.05,62.29 549.69,62.25 550.33,62.2 550.97,62.15 551.61,62.1 552.26,62.09 552.9,62.17 553.54,62.27 554.18,62.26 554.82,62.08 555.46,61.87 556.1,61.76 556.74,61.78 557.39,61.84 558.03,61.87 558.67,61.84 559.31,61.83 559.95,61.85 560.59,61.83 561.23,61.76 561.87,61.73 562.52,61.67 563.16,61.51 563.8,61.3 564.44,61.13 565.08,61 565.72,60.9 566.36,60.79 567,60.67 567.64,60.53 568.29,60.34 568.93,60.13 569.57,59.98 570.21,59.93 570.85,59.81 571.49,59.52 572.13,59.17 572.77,58.93 573.42,58.79 574.06,58.65 574.7,58.44 575.34,58.07 575.98,57.55 576.62,56.94 577.26,56.25 577.9,55.46 578.55,54.65 579.19,54.01 579.83,53.64 580.47,53.48 581.11,53.35 581.75,53 582.39,52.22 583.03,50.86 583.68,48.97 584.32,46.95 584.96,45.39 585.6,44.71 586.24,44.84 586.88,45.31 587.52,45.57 588.16,45.16 588.8,43.75 589.45,41.29 590.09,38.09 590.73,34.9 591.37,32.69 592.01,32.25 592.65,33.82 593.29,36.98 593.93,40.96 594.58,45.06 595.22,48.82 595.86,51.94 596.5,54.24 597.14,55.81 597.78,56.76 598.42,57.13 599.06,56.91 599.71,56.24 600.35,55.32 600.99,54.28 601.63,53.26 602.27,52.42 602.91,51.77 603.55,50.96 604.19,49.45 604.84,46.93 605.48,43.53 606.12,39.8 606.76,36.48 607.4,34.3 608.04,33.84 608.68,35.29 609.32,38.33 609.97,42.25 610.61,46.23 611.25,49.5 611.89,51.54 612.53,52.37 613.17,52.59 613.81,52.91 614.45,53.62 615.09,54.37 615.74,54.64 616.38,54.39 617.02,54.33 617.66,55.16 618.3,56.85 618.94,58.71 619.58,60.07 620.22,60.69 620.87,60.64 621.51,60.15 622.15,59.39 622.79,58.57 623.43,57.96 624.07,57.82 624.71,58.22 625.35,59.02 626,59.95 626.64,60.76 627.28,61.32 627.92,61.59 628.56,61.58 629.2,61.35 629.84,60.96 630.48,60.5 631.13,60.09 631.77,59.78 632.41,59.55 633.05,59.43 633.69,59.48 634.33,59.78 634.97,60.36 635.61,61.13 636.25,61.91 636.9,62.55 637.54,63 638.18,63.35 638.82,63.62 639.46,63.81 640.1,63.95 640.74,64.12 641.38,64.36 642.03,64.67 642.67,64.95 643.31,65.14 643.95,65.19 644.59,65.04 645.23,64.76 645.87,64.54 646.51,64.54 647.16,64.85 647.8,65.51 648.44,66.26 649.08,66.75 649.72,66.89 649.72,67.77 547.77,67.77" fill="#fff" stroke="none" stroke-width="1" />
<polyline points="547.77,62.28 548.41,62.3 549.05,62.29 549.69,62.25 550.33,62.2 550.97,62.15 551.61,62.1 552.26,62.09 552.9,62.17 553.54,62.27 554.18,62.26 554.82,62.08 555.46,61.87 556.1,61.76 556.74,61.78 557.39,61.84 558.03,61.87 558.67,61.84 559.31,61.83 559.95,61.85 560.59,61.83 561.23,61.76 561.87,61.73 562.52,61.67 563.16,61.51 563.8,61.3 564.44,61.13 565.08,61 565.72,60.9 566.36,60.79 567,60.67 567.64,60.53 568.29,60.34 568.93,60.13 569.57,59.98 570.21,59.93 570.85,59.81 571.49,59.52 572.13,59.17 572.77,58.93 573.42,58.79 574.06,58.65 574.7,58.44 575.34,58.07 575.98,57.55 576.62,56.94 577.26,56.25 577.9,55.46 578.55,54.65 579.19,54.01 579.83,53.64 580.47,53.48 581.11,53.35 581.75,53 582.39,52.22 583.03,50.86 583.68,48.97 584.32,46.95 584.96,45.39 585.6,44.71 586.24,44.84 586.88,45.31 587.52,45.57 588.16,45.16 588.8,43.75 589.45,41.29 590.09,38.09 590.73,34.9 591.37,32.69 592.01,32.25 592.65,33.82 593.29,36.98 593.93,40.96 594.58,45.06 595.22,48.82 595.86,51.94 596.5,54.24 597.14,55.81 597.78,56.76 598.42,57.13 599.06,56.91 599.71,56.24 600.35,55.32 600.99,54.28 601.63,53.26 602.27,52.42 602.91,51.77 603.55,50.96 604.19,49.45 604.84,46.93 605.48,43.53 606.12,39.8 606.76,36.48 607.4,34.3 608.04,33.84 608.68,35.29 609.32,38.33 609.97,42.25 610.61,46.23 611.25,49.5 611.89,51.54 612.53,52.37 613.17,52.59 613.81,52.91 614.45,53.62 615.09,54.37 615.74,54.64 616.38,54.39 617.02,54.33 617.66,55.16 618.3,56.85 618.94,58.71 619.58,60.07 620.22,60.69 620.87,60.64 621.51,60.15 622.15,59.39 622.79,58.57 623.43,57.96 624.07,57.82 624.71,58.22 625.35,59.02 626,59.95 626.64,60.76 627.28,61.32 627.92,61.59 628.56,61.58 629.2,61.35 629.84,60.96 630.48,60.5 631.13,60.09 631.77,59.78 632.41,59.55 633.05,59.43 633.69,59.48 634.33,59.78 634.97,60.36 635.61,61.13 636.25,61.91 636.9,62.55 637.54,63 638.18,63.35 638.82,63.62 639.46,63.81 640.1,63.95 640.74,64.12 641.38,64.36 642.03,64.67 642.67,64.95 643.31,65.14 643.95,65.19 644.59,65.04 645.23,64.76 645.87,64.54 646.51,64.54 647.16,64.85 647.8,65.51 648.44,66.26 649.08,66.75 649.72,66.89" fill="none" stroke="#f2ec20" stroke-width="0.9" stroke-linejoin="round" />
<polygon points="542.72,68.07 543.38,68.04 544.03,67.92 544.69,67.74 545.35,67.64 546,67.62 546.66,67.65 547.32,67.74 547.97,67.86 548.63,67.93 549.28,67.91 549.94,67.82 550.6,67.67 551.25,67.54 551.91,67.51 552.56,67.52 553.22,67.49 553.88,67.44 554.53,67.43 555.19,67.4 555.85,67.28 556.5,67.14 557.16,67.12 557.81,67.2 558.47,67.26 559.13,67.18 559.78,66.96 560.44,66.72 561.1,66.61 561.75,66.55 562.41,66.45 563.06,66.28 563.72,66.11 564.38,65.95 565.03,65.73 565.69,65.47 566.35,65.26 567,65.12 567.66,64.98 568.31,64.82 568.97,64.67 569.63,64.46 570.28,64.16 570.94,63.79 571.6,63.36 572.25,62.82 572.91,62.17 573.56,61.51 574.22,60.9 574.88,60.38 575.53,60.07 576.19,59.93 576.85,59.75 577.5,59.31 578.16,58.47 578.81,57.14 579.47,55.41 580.13,53.59 580.78,52.12 581.44,51.32 582.1,51.24 582.75,51.62 583.41,51.93 584.06,51.63 584.72,50.3 585.38,47.93 586.03,45 586.69,42.24 587.35,40.37 588,39.94 588.66,41.24 589.31,44.07 589.97,47.86 590.63,51.84 591.28,55.35 591.94,58.13 592.6,60.21 593.25,61.68 593.91,62.53 594.56,62.79 595.22,62.52 595.88,61.82 596.53,60.82 597.19,59.81 597.85,58.96 598.5,58.3 599.16,57.69 599.81,56.84 600.47,55.33 601.13,52.9 601.78,49.59 602.44,45.88 603.1,42.61 603.75,40.59 604.41,40.3 605.06,41.73 605.72,44.57 606.38,48.18 607.03,51.86 607.69,54.95 608.35,57.02 609,57.99 609.66,58.32 610.31,58.67 610.97,59.38 611.63,60.15 612.28,60.47 612.94,60.31 613.6,60.3 614.25,61.11 614.91,62.72 615.56,64.45 616.22,65.68 616.88,66.2 617.53,66.17 618.19,65.77 618.85,65.1 619.5,64.34 620.16,63.79 620.81,63.7 621.47,64.13 622.13,64.86 622.78,65.62 623.44,66.24 624.09,66.7 624.75,66.96 625.41,67.04 626.06,66.95 626.72,66.67 627.38,66.21 628.03,65.73 628.69,65.38 629.34,65.2 630,65.2 630.66,65.47 631.31,66.01 631.97,66.67 632.63,67.27 633.28,67.79 633.94,68.27 634.59,68.68 635.25,68.98 635.91,69.2 636.56,69.39 637.22,69.58 637.88,69.8 638.53,70.06 639.19,70.31 639.84,70.55 640.5,70.74 641.16,70.74 641.81,70.48 642.47,70.09 643.13,69.8 643.78,69.84 644.44,70.3 645.09,71.06 645.75,71.84 646.41,72.39 647.06,72.65 647.06,73.52 542.72,73.52" fill="#fff" stroke="none" stroke-width="1" />
<polyline points="542.72,68.07 543.38,68.04 544.03,67.92 544.69,67.74 545.35,67.64 546,67.62 546.66,67.65 547.32,67.74 547.97,67.86 548.63,67.93 549.28,67.91 549.94,67.82 550.6,67.67 551.25,67.54 551.91,67.51 552.56,67.52 553.22,67.49 553.88,67.44 554.53,67.43 555.19,67.4 555.85,67.28 556.5,67.14 557.16,67.12 557.81,67.2 558.47,67.26 559.13,67.18 559.78,66.96 560.44,66.72 561.1,66.61 561.75,66.55 562.41,66.45 563.06,66.28 563.72,66.11 564.38,65.95 565.03,65.73 565.69,65.47 566.35,65.26 567,65.12 567.66,64.98 568.31,64.82 568.97,64.67 569.63,64.46 570.28,64.16 570.94,63.79 571.6,63.36 572.25,62.82 572.91,62.17 573.56,61.51 574.22,60.9 574.88,60.38 575.53,60.07 576.19,59.93 576.85,59.75 577.5,59.31 578.16,58.47 578.81,57.14 579.47,55.41 580.13,53.59 580.78,52.12 581.44,51.32 582.1,51.24 582.75,51.62 583.41,51.93 584.06,51.63 584.72,50.3 585.38,47.93 586.03,45 586.69,42.24 587.35,40.37 588,39.94 588.66,41.24 589.31,44.07 589.97,47.86 590.63,51.84 591.28,55.35 591.94,58.13 592.6,60.21 593.25,61.68 593.91,62.53 594.56,62.79 595.22,62.52 595.88,61.82 596.53,60.82 597.19,59.81 597.85,58.96 598.5,58.3 599.16,57.69 599.81,56.84 600.47,55.33 601.13,52.9 601.78,49.59 602.44,45.88 603.1,42.61 603.75,40.59 604.41,40.3 605.06,41.73 605.72,44.57 606.38,48.18 607.03,51.86 607.69,54.95 608.35,57.02 609,57.99 609.66,58.32 610.31,58.67 610.97,59.38 611.63,60.15 612.28,60.47 612.94,60.31 613.6,60.3 614.25,61.11 614.91,62.72 615.56,64.45 616.22,65.68 616.88,66.2 617.53,66.17 618.19,65.77 618.85,65.1 619.5,64.34 620.16,63.79 620.81,63.7 621.47,64.13 622.13,64.86 622.78,65.62 623.44,66.24 624.09,66.7 624.75,66.96 625.41,67.04 626.06,66.95 626.72,66.67 627.38,66.21 628.03,65.73 628.69,65.38 629.34,65.2 630,65.2 630.66,65.47 631.31,66.01 631.97,66.67 632.63,67.27 633.28,67.79 633.94,68.27 634.59,68.68 635.25,68.98 635.91,69.2 636.56,69.39 637.22,69.58 637.88,69.8 638.53,70.06 639.19,70.31 639.84,70.55 640.5,70.74 641.16,70.74 641.81,70.48 642.47,70.09 643.13,69.8 643.78,69.84 644.44,70.3 645.09,71.06 645.75,71.84 646.41,72.39 647.06,72.65" fill="none" stroke="#a8f020" stroke-width="0.9" stroke-linejoin="round" />
<polygon points="537.38,73.83 538.05,73.76 538.72,73.65 539.39,73.6 540.06,73.64 540.74,73.66 541.41,73.63 542.08,73.64 542.75,73.65 543.43,73.64 544.1,73.63 544.77,73.66 545.44,73.66 546.11,73.57 546.79,73.42 547.46,73.31 548.13,73.28 548.8,73.33 549.48,73.37 550.15,73.34 550.82,73.29 551.49,73.29 552.16,73.33 552.84,73.3 553.51,73.14 554.18,72.9 554.85,72.72 555.52,72.67 556.2,72.67 556.87,72.6 557.54,72.44 558.21,72.25 558.89,72.06 559.56,71.91 560.23,71.84 560.9,71.81 561.57,71.75 562.25,71.59 562.92,71.35 563.59,71.1 564.26,70.87 564.93,70.65 565.61,70.35 566.28,69.92 566.95,69.45 567.62,68.99 568.3,68.43 568.97,67.72 569.64,67.04 570.31,66.58 570.98,66.35 571.66,66.27 572.33,66.19 573,65.93 573.67,65.26 574.34,64.07 575.02,62.46 575.69,60.74 576.36,59.3 577.03,58.46 577.71,58.28 578.38,58.61 579.05,59.04 579.72,58.96 580.39,57.85 581.07,55.67 581.74,52.86 582.41,50.08 583.08,48.11 583.75,47.58 584.43,48.71 585.1,51.32 585.77,54.91 586.44,58.73 587.12,62.17 587.79,64.93 588.46,66.9 589.13,68.14 589.8,68.85 590.48,69.19 591.15,69.13 591.82,68.56 592.49,67.53 593.17,66.31 593.84,65.25 594.51,64.52 595.18,63.99 595.85,63.22 596.53,61.73 597.2,59.32 597.87,56.16 598.54,52.7 599.21,49.61 599.89,47.61 600.56,47.18 601.23,48.43 601.9,51.13 602.58,54.74 603.25,58.49 603.92,61.6 604.59,63.52 605.26,64.24 605.94,64.37 606.61,64.66 607.28,65.43 607.95,66.25 608.62,66.58 609.3,66.45 609.97,66.48 610.64,67.26 611.31,68.76 611.99,70.49 612.66,71.85 613.33,72.52 614,72.47 614.67,71.94 615.35,71.25 616.02,70.6 616.69,70.1 617.36,69.87 618.03,70.09 618.71,70.74 619.38,71.53 620.05,72.21 620.72,72.76 621.4,73.18 622.07,73.29 622.74,73.07 623.41,72.71 624.08,72.3 624.76,71.83 625.43,71.37 626.1,71.1 626.77,71.1 627.44,71.34 628.12,71.75 628.79,72.3 629.46,72.9 630.13,73.44 630.81,73.93 631.48,74.34 632.15,74.65 632.82,74.86 633.49,75.05 634.17,75.33 634.84,75.69 635.51,76.02 636.18,76.24 636.86,76.38 637.53,76.48 638.2,76.46 638.87,76.24 639.54,75.87 640.22,75.56 640.89,75.56 641.56,75.97 642.23,76.71 642.9,77.48 643.58,78.02 644.25,78.25 644.25,79.63 537.38,79.63" fill="#fff" stroke="none" stroke-width="1" />
<polyline points="537.38,73.83 538.05,73.76 538.72,73.65 539.39,73.6 540.06,73.64 540.74,73.66 541.41,73.63 542.08,73.64 542.75,73.65 543.43,73.64 544.1,73.63 544.77,73.66 545.44,73.66 546.11,73.57 546.79,73.42 547.46,73.31 548.13,73.28 548.8,73.33 549.48,73.37 550.15,73.34 550.82,73.29 551.49,73.29 552.16,73.33 552.84,73.3 553.51,73.14 554.18,72.9 554.85,72.72 555.52,72.67 556.2,72.67 556.87,72.6 557.54,72.44 558.21,72.25 558.89,72.06 559.56,71.91 560.23,71.84 560.9,71.81 561.57,71.75 562.25,71.59 562.92,71.35 563.59,71.1 564.26,70.87 564.93,70.65 565.61,70.35 566.28,69.92 566.95,69.45 567.62,68.99 568.3,68.43 568.97,67.72 569.64,67.04 570.31,66.58 570.98,66.35 571.66,66.27 572.33,66.19 573,65.93 573.67,65.26 574.34,64.07 575.02,62.46 575.69,60.74 576.36,59.3 577.03,58.46 577.71,58.28 578.38,58.61 579.05,59.04 579.72,58.96 580.39,57.85 581.07,55.67 581.74,52.86 582.41,50.08 583.08,48.11 583.75,47.58 584.43,48.71 585.1,51.32 585.77,54.91 586.44,58.73 587.12,62.17 587.79,64.93 588.46,66.9 589.13,68.14 589.8,68.85 590.48,69.19 591.15,69.13 591.82,68.56 592.49,67.53 593.17,66.31 593.84,65.25 594.51,64.52 595.18,63.99 595.85,63.22 596.53,61.73 597.2,59.32 597.87,56.16 598.54,52.7 599.21,49.61 599.89,47.61 600.56,47.18 601.23,48.43 601.9,51.13 602.58,54.74 603.25,58.49 603.92,61.6 604.59,63.52 605.26,64.24 605.94,64.37 606.61,64.66 607.28,65.43 607.95,66.25 608.62,66.58 609.3,66.45 609.97,66.48 610.64,67.26 611.31,68.76 611.99,70.49 612.66,71.85 613.33,72.52 614,72.47 614.67,71.94 615.35,71.25 616.02,70.6 616.69,70.1 617.36,69.87 618.03,70.09 618.71,70.74 619.38,71.53 620.05,72.21 620.72,72.76 621.4,73.18 622.07,73.29 622.74,73.07 623.41,72.71 624.08,72.3 624.76,71.83 625.43,71.37 626.1,71.1 626.77,71.1 627.44,71.34 628.12,71.75 628.79,72.3 629.46,72.9 630.13,73.44 630.81,73.93 631.48,74.34 632.15,74.65 632.82,74.86 633.49,75.05 634.17,75.33 634.84,75.69 635.51,76.02 636.18,76.24 636.86,76.38 637.53,76.48 638.2,76.46 638.87,76.24 639.54,75.87 640.22,75.56 640.89,75.56 641.56,75.97 642.23,76.71 642.9,77.48 643.58,78.02 644.25,78.25" fill="none" stroke="#44e420" stroke-width="0.9" stroke-linejoin="round" />
<polygon points="531.73,80.31 532.42,80.28 533.11,80.21 533.8,80.12 534.49,80.03 535.18,79.98 535.87,80.04 536.56,80.13 537.24,80.17 537.93,80.15 538.62,80.1 539.31,80.03 540,79.93 540.69,79.84 541.38,79.79 542.07,79.8 542.76,79.83 543.44,79.86 544.13,79.85 544.82,79.83 545.51,79.85 546.2,79.89 546.89,79.82 547.58,79.63 548.27,79.45 548.96,79.38 549.65,79.34 550.33,79.22 551.02,79.05 551.71,78.88 552.4,78.75 553.09,78.68 553.78,78.61 554.47,78.5 555.16,78.39 555.85,78.3 556.53,78.18 557.22,77.97 557.91,77.74 558.6,77.53 559.29,77.3 559.98,77.03 560.67,76.74 561.36,76.44 562.05,76.14 562.74,75.77 563.42,75.3 564.11,74.73 564.8,74.1 565.49,73.53 566.18,73.2 566.87,73.11 567.56,73.06 568.25,72.75 568.94,71.98 569.62,70.75 570.31,69.22 571,67.67 571.69,66.38 572.38,65.65 573.07,65.58 573.76,65.97 574.45,66.33 575.14,66.13 575.83,64.99 576.51,62.88 577.2,60.22 577.89,57.68 578.58,56.02 579.27,55.79 579.96,57.08 580.65,59.57 581.34,62.77 582.03,66.14 582.72,69.22 583.4,71.75 584.09,73.62 584.78,74.84 585.47,75.47 586.16,75.67 586.85,75.51 587.54,74.96 588.23,74.05 588.92,73.01 589.6,72.11 590.29,71.4 590.98,70.76 591.67,69.92 592.36,68.51 593.05,66.25 593.74,63.18 594.43,59.75 595.12,56.76 595.81,54.9 596.49,54.55 597.18,55.77 597.87,58.35 598.56,61.77 599.25,65.3 599.94,68.23 600.63,70.16 601.32,71.08 602.01,71.35 602.69,71.6 603.38,72.18 604.07,72.83 604.76,73.05 605.45,72.82 606.14,72.8 606.83,73.63 607.52,75.24 608.21,76.92 608.9,78.08 609.58,78.62 610.27,78.67 610.96,78.3 611.65,77.61 612.34,76.87 613.03,76.34 613.72,76.2 614.41,76.53 615.1,77.26 615.79,78.12 616.47,78.84 617.16,79.28 617.85,79.41 618.54,79.29 619.23,79.1 619.92,78.94 620.61,78.76 621.3,78.47 621.99,78.1 622.67,77.78 623.36,77.65 624.05,77.76 624.74,78.09 625.43,78.59 626.12,79.18 626.81,79.81 627.5,80.42 628.19,80.93 628.88,81.27 629.56,81.51 630.25,81.72 630.94,81.9 631.63,82.05 632.32,82.18 633.01,82.31 633.7,82.48 634.39,82.67 635.08,82.74 635.76,82.58 636.45,82.19 637.14,81.81 637.83,81.73 638.52,82.05 639.21,82.66 639.9,83.36 640.59,83.88 641.28,84.12 641.28,86.11 531.73,86.11" fill="#fff" stroke="none" stroke-width="1" />
<polyline points="531.73,80.31 532.42,80.28 533.11,80.21 533.8,80.12 534.49,80.03 535.18,79.98 535.87,80.04 536.56,80.13 537.24,80.17 537.93,80.15 538.62,80.1 539.31,80.03 540,79.93 540.69,79.84 541.38,79.79 542.07,79.8 542.76,79.83 543.44,79.86 544.13,79.85 544.82,79.83 545.51,79.85 546.2,79.89 546.89,79.82 547.58,79.63 548.27,79.45 548.96,79.38 549.65,79.34 550.33,79.22 551.02,79.05 551.71,78.88 552.4,78.75 553.09,78.68 553.78,78.61 554.47,78.5 555.16,78.39 555.85,78.3 556.53,78.18 557.22,77.97 557.91,77.74 558.6,77.53 559.29,77.3 559.98,77.03 560.67,76.74 561.36,76.44 562.05,76.14 562.74,75.77 563.42,75.3 564.11,74.73 564.8,74.1 565.49,73.53 566.18,73.2 566.87,73.11 567.56,73.06 568.25,72.75 568.94,71.98 569.62,70.75 570.31,69.22 571,67.67 571.69,66.38 572.38,65.65 573.07,65.58 573.76,65.97 574.45,66.33 575.14,66.13 575.83,64.99 576.51,62.88 577.2,60.22 577.89,57.68 578.58,56.02 579.27,55.79 579.96,57.08 580.65,59.57 581.34,62.77 582.03,66.14 582.72,69.22 583.4,71.75 584.09,73.62 584.78,74.84 585.47,75.47 586.16,75.67 586.85,75.51 587.54,74.96 588.23,74.05 588.92,73.01 589.6,72.11 590.29,71.4 590.98,70.76 591.67,69.92 592.36,68.51 593.05,66.25 593.74,63.18 594.43,59.75 595.12,56.76 595.81,54.9 596.49,54.55 597.18,55.77 597.87,58.35 598.56,61.77 599.25,65.3 599.94,68.23 600.63,70.16 601.32,71.08 602.01,71.35 602.69,71.6 603.38,72.18 604.07,72.83 604.76,73.05 605.45,72.82 606.14,72.8 606.83,73.63 607.52,75.24 608.21,76.92 608.9,78.08 609.58,78.62 610.27,78.67 610.96,78.3 611.65,77.61 612.34,76.87 613.03,76.34 613.72,76.2 614.41,76.53 615.1,77.26 615.79,78.12 616.47,78.84 617.16,79.28 617.85,79.41 618.54,79.29 619.23,79.1 619.92,78.94 620.61,78.76 621.3,78.47 621.99,78.1 622.67,77.78 623.36,77.65 624.05,77.76 624.74,78.09 625.43,78.59 626.12,79.18 626.81,79.81 627.5,80.42 628.19,80.93 628.88,81.27 629.56,81.51 630.25,81.72 630.94,81.9 631.63,82.05 632.32,82.18 633.01,82.31 633.7,82.48 634.39,82.67 635.08,82.74 635.76,82.58 636.45,82.19 637.14,81.81 637.83,81.73 638.52,82.05 639.21,82.66 639.9,83.36 640.59,83.88 641.28,84.12" fill="none" stroke="#20d040" stroke-width="0.9" stroke-linejoin="round" />
<polygon points="525.79,86.58 526.5,86.59 527.2,86.67 527.91,86.78 528.62,86.88 529.32,86.97 530.03,87.02 530.74,86.96 531.44,86.85 532.15,86.79 532.86,86.75 533.56,86.68 534.27,86.63 534.98,86.63 535.68,86.66 536.39,86.67 537.1,86.62 537.8,86.55 538.51,86.52 539.22,86.53 539.92,86.47 540.63,86.33 541.34,86.19 542.04,86.1 542.75,86.04 543.46,86.03 544.16,86.06 544.87,86.08 545.58,86.03 546.28,85.89 546.99,85.69 547.7,85.45 548.4,85.24 549.11,85.15 549.82,85.14 550.52,85.04 551.23,84.83 551.94,84.64 552.64,84.53 553.35,84.44 554.06,84.32 554.76,84.19 555.47,84.04 556.18,83.84 556.88,83.48 557.59,82.9 558.3,82.18 559,81.49 559.71,80.98 560.42,80.64 561.12,80.49 561.83,80.47 562.54,80.45 563.24,80.23 563.95,79.64 564.66,78.61 565.36,77.19 566.07,75.64 566.77,74.35 567.48,73.63 568.19,73.59 568.89,73.99 569.6,74.3 570.31,73.98 571.01,72.78 571.72,70.86 572.43,68.57 573.13,66.4 573.84,64.89 574.55,64.53 575.25,65.59 575.96,67.86 576.67,70.8 577.37,73.85 578.08,76.66 578.79,79.04 579.49,80.89 580.2,82.14 580.91,82.76 581.61,82.9 582.32,82.72 583.03,82.16 583.73,81.16 584.44,79.98 585.15,79.02 585.85,78.42 586.56,77.97 587.27,77.22 587.97,75.77 588.68,73.44 589.39,70.47 590.09,67.32 590.8,64.55 591.51,62.7 592.21,62.18 592.92,63.21 593.63,65.68 594.33,69.08 595.04,72.6 595.75,75.48 596.45,77.25 597.16,78 597.87,78.28 598.57,78.72 599.28,79.49 599.99,80.19 600.69,80.4 601.4,80.17 602.11,80.13 602.81,80.83 603.52,82.24 604.23,83.81 604.93,84.98 605.64,85.53 606.35,85.51 607.05,85.03 607.76,84.35 608.47,83.73 609.17,83.34 609.88,83.23 610.59,83.45 611.29,83.97 612,84.67 612.71,85.33 613.41,85.82 614.12,86.11 614.83,86.18 615.53,86.01 616.24,85.67 616.95,85.31 617.65,85.04 618.36,84.85 619.07,84.7 619.77,84.62 620.48,84.73 621.19,85.06 621.89,85.55 622.6,86.07 623.31,86.51 624.01,86.86 624.72,87.2 625.43,87.54 626.13,87.86 626.84,88.15 627.55,88.4 628.25,88.55 628.96,88.62 629.67,88.69 630.37,88.85 631.08,89.03 631.79,89.11 632.49,88.97 633.2,88.64 633.91,88.35 634.61,88.31 635.32,88.66 636.03,89.25 636.73,89.88 637.44,90.36 638.15,90.61 638.15,92.95 525.79,92.95" fill="#fff" stroke="none" stroke-width="1" />
<polyline points="525.79,86.58 526.5,86.59 527.2,86.67 527.91,86.78 528.62,86.88 529.32,86.97 530.03,87.02 530.74,86.96 531.44,86.85 532.15,86.79 532.86,86.75 533.56,86.68 534.27,86.63 534.98,86.63 535.68,86.66 536.39,86.67 537.1,86.62 537.8,86.55 538.51,86.52 539.22,86.53 539.92,86.47 540.63,86.33 541.34,86.19 542.04,86.1 542.75,86.04 543.46,86.03 544.16,86.06 544.87,86.08 545.58,86.03 546.28,85.89 546.99,85.69 547.7,85.45 548.4,85.24 549.11,85.15 549.82,85.14 550.52,85.04 551.23,84.83 551.94,84.64 552.64,84.53 553.35,84.44 554.06,84.32 554.76,84.19 555.47,84.04 556.18,83.84 556.88,83.48 557.59,82.9 558.3,82.18 559,81.49 559.71,80.98 560.42,80.64 561.12,80.49 561.83,80.47 562.54,80.45 563.24,80.23 563.95,79.64 564.66,78.61 565.36,77.19 566.07,75.64 566.77,74.35 567.48,73.63 568.19,73.59 568.89,73.99 569.6,74.3 570.31,73.98 571.01,72.78 571.72,70.86 572.43,68.57 573.13,66.4 573.84,64.89 574.55,64.53 575.25,65.59 575.96,67.86 576.67,70.8 577.37,73.85 578.08,76.66 578.79,79.04 579.49,80.89 580.2,82.14 580.91,82.76 581.61,82.9 582.32,82.72 583.03,82.16 583.73,81.16 584.44,79.98 585.15,79.02 585.85,78.42 586.56,77.97 587.27,77.22 587.97,75.77 588.68,73.44 589.39,70.47 590.09,67.32 590.8,64.55 591.51,62.7 592.21,62.18 592.92,63.21 593.63,65.68 594.33,69.08 595.04,72.6 595.75,75.48 596.45,77.25 597.16,78 597.87,78.28 598.57,78.72 599.28,79.49 599.99,80.19 600.69,80.4 601.4,80.17 602.11,80.13 602.81,80.83 603.52,82.24 604.23,83.81 604.93,84.98 605.64,85.53 606.35,85.51 607.05,85.03 607.76,84.35 608.47,83.73 609.17,83.34 609.88,83.23 610.59,83.45 611.29,83.97 612,84.67 612.71,85.33 613.41,85.82 614.12,86.11 614.83,86.18 615.53,86.01 616.24,85.67 616.95,85.31 617.65,85.04 618.36,84.85 619.07,84.7 619.77,84.62 620.48,84.73 621.19,85.06 621.89,85.55 622.6,86.07 623.31,86.51 624.01,86.86 624.72,87.2 625.43,87.54 626.13,87.86 626.84,88.15 627.55,88.4 628.25,88.55 628.96,88.62 629.67,88.69 630.37,88.85 631.08,89.03 631.79,89.11 632.49,88.97 633.2,88.64 633.91,88.35 634.61,88.31 635.32,88.66 636.03,89.25 636.73,89.88 637.44,90.36 638.15,90.61" fill="none" stroke="#1e8070" stroke-width="0.9" stroke-linejoin="round" />
<polygon points="519.55,94 520.27,94 521,94.05 521.72,94.13 522.45,94.14 523.17,94.1 523.9,94.13 524.62,94.22 525.35,94.21 526.07,94.08 526.8,93.89 527.52,93.72 528.25,93.58 528.97,93.5 529.7,93.55 530.43,93.66 531.15,93.72 531.88,93.74 532.6,93.78 533.33,93.74 534.05,93.57 534.78,93.41 535.5,93.42 536.23,93.53 536.95,93.54 537.68,93.42 538.4,93.25 539.13,93.07 539.85,92.89 540.58,92.76 541.3,92.7 542.03,92.64 542.75,92.55 543.48,92.47 544.2,92.41 544.93,92.36 545.66,92.26 546.38,92.07 547.11,91.79 547.83,91.53 548.56,91.35 549.28,91.21 550.01,91.07 550.73,90.86 551.46,90.56 552.18,90.14 552.91,89.62 553.63,89.07 554.36,88.57 555.08,88.23 555.81,88.08 556.53,88.04 557.26,87.96 557.98,87.73 558.71,87.21 559.43,86.3 560.16,85.05 560.89,83.76 561.61,82.71 562.34,82.1 563.06,82.09 563.79,82.46 564.51,82.74 565.24,82.5 565.96,81.56 566.69,79.85 567.41,77.64 568.14,75.49 568.86,74.05 569.59,73.79 570.31,74.78 571.04,76.82 571.76,79.49 572.49,82.34 573.21,84.95 573.94,87.07 574.66,88.6 575.39,89.57 576.12,90.07 576.84,90.13 577.57,89.78 578.29,89.09 579.02,88.21 579.74,87.25 580.47,86.45 581.19,85.97 581.92,85.62 582.64,84.92 583.37,83.54 584.09,81.36 584.82,78.51 585.54,75.41 586.27,72.72 586.99,71.04 587.72,70.7 588.44,71.75 589.17,74.04 589.9,77.17 590.62,80.45 591.35,83.13 592.07,84.76 592.8,85.42 593.52,85.68 594.25,86.12 594.97,86.9 595.7,87.62 596.42,87.88 597.15,87.72 597.87,87.66 598.6,88.29 599.32,89.61 600.05,91.07 600.77,92.13 601.5,92.59 602.22,92.59 602.95,92.3 603.67,91.82 604.4,91.22 605.13,90.7 605.85,90.55 606.58,90.82 607.3,91.33 608.03,91.88 608.75,92.4 609.48,92.86 610.2,93.12 610.93,93.15 611.65,93.01 612.38,92.78 613.1,92.49 613.83,92.18 614.55,91.88 615.28,91.68 616,91.68 616.73,91.93 617.45,92.3 618.18,92.69 618.9,93.11 619.63,93.54 620.36,93.92 621.08,94.23 621.81,94.51 622.53,94.8 623.26,95.06 623.98,95.29 624.71,95.47 625.43,95.59 626.16,95.66 626.88,95.69 627.61,95.63 628.33,95.51 629.06,95.36 629.78,95.18 630.51,95.05 631.23,95.11 631.96,95.45 632.68,95.99 633.41,96.57 634.13,97.04 634.86,97.29 634.86,100.14 519.55,100.14" fill="#fff" stroke="none" stroke-width="1" />
<polyline points="519.55,94 520.27,94 521,94.05 521.72,94.13 522.45,94.14 523.17,94.1 523.9,94.13 524.62,94.22 525.35,94.21 526.07,94.08 526.8,93.89 527.52,93.72 528.25,93.58 528.97,93.5 529.7,93.55 530.43,93.66 531.15,93.72 531.88,93.74 532.6,93.78 533.33,93.74 534.05,93.57 534.78,93.41 535.5,93.42 536.23,93.53 536.95,93.54 537.68,93.42 538.4,93.25 539.13,93.07 539.85,92.89 540.58,92.76 541.3,92.7 542.03,92.64 542.75,92.55 543.48,92.47 544.2,92.41 544.93,92.36 545.66,92.26 546.38,92.07 547.11,91.79 547.83,91.53 548.56,91.35 549.28,91.21 550.01,91.07 550.73,90.86 551.46,90.56 552.18,90.14 552.91,89.62 553.63,89.07 554.36,88.57 555.08,88.23 555.81,88.08 556.53,88.04 557.26,87.96 557.98,87.73 558.71,87.21 559.43,86.3 560.16,85.05 560.89,83.76 561.61,82.71 562.34,82.1 563.06,82.09 563.79,82.46 564.51,82.74 565.24,82.5 565.96,81.56 566.69,79.85 567.41,77.64 568.14,75.49 568.86,74.05 569.59,73.79 570.31,74.78 571.04,76.82 571.76,79.49 572.49,82.34 573.21,84.95 573.94,87.07 574.66,88.6 575.39,89.57 576.12,90.07 576.84,90.13 577.57,89.78 578.29,89.09 579.02,88.21 579.74,87.25 580.47,86.45 581.19,85.97 581.92,85.62 582.64,84.92 583.37,83.54 584.09,81.36 584.82,78.51 585.54,75.41 586.27,72.72 586.99,71.04 587.72,70.7 588.44,71.75 589.17,74.04 589.9,77.17 590.62,80.45 591.35,83.13 592.07,84.76 592.8,85.42 593.52,85.68 594.25,86.12 594.97,86.9 595.7,87.62 596.42,87.88 597.15,87.72 597.87,87.66 598.6,88.29 599.32,89.61 600.05,91.07 600.77,92.13 601.5,92.59 602.22,92.59 602.95,92.3 603.67,91.82 604.4,91.22 605.13,90.7 605.85,90.55 606.58,90.82 607.3,91.33 608.03,91.88 608.75,92.4 609.48,92.86 610.2,93.12 610.93,93.15 611.65,93.01 612.38,92.78 613.1,92.49 613.83,92.18 614.55,91.88 615.28,91.68 616,91.68 616.73,91.93 617.45,92.3 618.18,92.69 618.9,93.11 619.63,93.54 620.36,93.92 621.08,94.23 621.81,94.51 622.53,94.8 623.26,95.06 623.98,95.29 624.71,95.47 625.43,95.59 626.16,95.66 626.88,95.69 627.61,95.63 628.33,95.51 629.06,95.36 629.78,95.18 630.51,95.05 631.23,95.11 631.96,95.45 632.68,95.99 633.41,96.57 634.13,97.04 634.86,97.29" fill="none" stroke="#3232f4" stroke-width="0.9" stroke-linejoin="round" />
<polygon points="513.01,101.61 513.75,101.42 514.49,101.19 515.24,101.07 515.98,101.08 516.73,101.14 517.47,101.16 518.22,101.21 518.96,101.3 519.71,101.4 520.45,101.39 521.2,101.31 521.94,101.28 522.69,101.33 523.43,101.32 524.18,101.2 524.92,101.14 525.67,101.2 526.41,101.25 527.16,101.17 527.9,101.01 528.64,100.91 529.39,100.89 530.13,100.91 530.88,100.93 531.62,100.94 532.37,100.89 533.11,100.73 533.86,100.56 534.6,100.49 535.35,100.48 536.09,100.41 536.84,100.26 537.58,100.18 538.33,100.16 539.07,100.02 539.82,99.78 540.56,99.56 541.3,99.47 542.05,99.47 542.79,99.38 543.54,99.14 544.28,98.86 545.03,98.66 545.77,98.44 546.52,98.1 547.26,97.71 548.01,97.33 548.75,96.92 549.5,96.54 550.24,96.3 550.99,96.25 551.73,96.27 552.48,96.15 553.22,95.7 553.96,94.82 554.71,93.61 555.45,92.35 556.2,91.33 556.94,90.78 557.69,90.74 558.43,91.03 559.18,91.27 559.92,91.07 560.67,90.21 561.41,88.74 562.16,86.92 562.9,85.17 563.65,84 564.39,83.82 565.14,84.72 565.88,86.49 566.62,88.75 567.37,91.14 568.11,93.29 568.86,95.01 569.6,96.38 570.35,97.46 571.09,98.14 571.84,98.31 572.58,98 573.33,97.31 574.07,96.37 574.82,95.41 575.56,94.63 576.31,94.11 577.05,93.69 577.8,92.98 578.54,91.59 579.29,89.47 580.03,86.9 580.77,84.15 581.52,81.58 582.26,79.8 583.01,79.33 583.75,80.3 584.5,82.52 585.24,85.58 585.99,88.77 586.73,91.29 587.48,92.79 588.22,93.43 588.97,93.59 589.71,93.8 590.46,94.43 591.2,95.25 591.95,95.65 592.69,95.45 593.43,95.26 594.18,95.79 594.92,97.12 595.67,98.62 596.41,99.72 597.16,100.25 597.9,100.29 598.65,99.89 599.39,99.16 600.14,98.42 600.88,97.98 601.63,97.95 602.37,98.3 603.12,98.93 603.86,99.64 604.61,100.24 605.35,100.62 606.09,100.79 606.84,100.76 607.58,100.58 608.33,100.33 609.07,100.03 609.82,99.72 610.56,99.47 611.31,99.32 612.05,99.27 612.8,99.39 613.54,99.69 614.29,100.09 615.03,100.5 615.78,100.87 616.52,101.2 617.27,101.54 618.01,101.87 618.76,102.11 619.5,102.27 620.24,102.45 620.99,102.64 621.73,102.8 622.48,102.91 623.22,102.97 623.97,103.03 624.71,103.06 625.46,102.98 626.2,102.75 626.95,102.56 627.69,102.63 628.44,102.99 629.18,103.4 629.93,103.71 630.67,103.94 631.42,104.09 631.42,107.7 513.01,107.7" fill="#fff" stroke="none" stroke-width="1" />
<polyline points="513.01,101.61 513.75,101.42 514.49,101.19 515.24,101.07 515.98,101.08 516.73,101.14 517.47,101.16 518.22,101.21 518.96,101.3 519.71,101.4 520.45,101.39 521.2,101.31 521.94,101.28 522.69,101.33 523.43,101.32 524.18,101.2 524.92,101.14 525.67,101.2 526.41,101.25 527.16,101.17 527.9,101.01 528.64,100.91 529.39,100.89 530.13,100.91 530.88,100.93 531.62,100.94 532.37,100.89 533.11,100.73 533.86,100.56 534.6,100.49 535.35,100.48 536.09,100.41 536.84,100.26 537.58,100.18 538.33,100.16 539.07,100.02 539.82,99.78 540.56,99.56 541.3,99.47 542.05,99.47 542.79,99.38 543.54,99.14 544.28,98.86 545.03,98.66 545.77,98.44 546.52,98.1 547.26,97.71 548.01,97.33 548.75,96.92 549.5,96.54 550.24,96.3 550.99,96.25 551.73,96.27 552.48,96.15 553.22,95.7 553.96,94.82 554.71,93.61 555.45,92.35 556.2,91.33 556.94,90.78 557.69,90.74 558.43,91.03 559.18,91.27 559.92,91.07 560.67,90.21 561.41,88.74 562.16,86.92 562.9,85.17 563.65,84 564.39,83.82 565.14,84.72 565.88,86.49 566.62,88.75 567.37,91.14 568.11,93.29 568.86,95.01 569.6,96.38 570.35,97.46 571.09,98.14 571.84,98.31 572.58,98 573.33,97.31 574.07,96.37 574.82,95.41 575.56,94.63 576.31,94.11 577.05,93.69 577.8,92.98 578.54,91.59 579.29,89.47 580.03,86.9 580.77,84.15 581.52,81.58 582.26,79.8 583.01,79.33 583.75,80.3 584.5,82.52 585.24,85.58 585.99,88.77 586.73,91.29 587.48,92.79 588.22,93.43 588.97,93.59 589.71,93.8 590.46,94.43 591.2,95.25 591.95,95.65 592.69,95.45 593.43,95.26 594.18,95.79 594.92,97.12 595.67,98.62 596.41,99.72 597.16,100.25 597.9,100.29 598.65,99.89 599.39,99.16 600.14,98.42 600.88,97.98 601.63,97.95 602.37,98.3 603.12,98.93 603.86,99.64 604.61,100.24 605.35,100.62 606.09,100.79 606.84,100.76 607.58,100.58 608.33,100.33 609.07,100.03 609.82,99.72 610.56,99.47 611.31,99.32 612.05,99.27 612.8,99.39 613.54,99.69 614.29,100.09 615.03,100.5 615.78,100.87 616.52,101.2 617.27,101.54 618.01,101.87 618.76,102.11 619.5,102.27 620.24,102.45 620.99,102.64 621.73,102.8 622.48,102.91 623.22,102.97 623.97,103.03 624.71,103.06 625.46,102.98 626.2,102.75 626.95,102.56 627.69,102.63 628.44,102.99 629.18,103.4 629.93,103.71 630.67,103.94 631.42,104.09" fill="none" stroke="#3434e0" stroke-width="0.9" stroke-linejoin="round" />
<polygon points="506.16,109.05 506.93,109.03 507.7,109.04 508.46,109.11 509.23,109.22 509.99,109.29 510.76,109.29 511.52,109.24 512.29,109.16 513.05,109.05 513.82,108.95 514.58,108.87 515.35,108.86 516.11,108.95 516.88,109.11 517.64,109.16 518.41,109.07 519.17,108.94 519.94,108.84 520.7,108.77 521.47,108.69 522.23,108.56 523,108.48 523.76,108.52 524.53,108.63 525.29,108.63 526.06,108.52 526.82,108.41 527.59,108.38 528.35,108.36 529.12,108.29 529.88,108.18 530.65,108.1 531.41,108 532.18,107.85 532.94,107.69 533.71,107.59 534.47,107.55 535.24,107.53 536,107.45 536.77,107.3 537.53,107.13 538.3,107.01 539.06,106.9 539.83,106.62 540.59,106.13 541.36,105.62 542.12,105.23 542.89,104.9 543.65,104.62 544.42,104.5 545.18,104.56 545.95,104.6 546.71,104.44 547.48,104.04 548.24,103.36 549.01,102.46 549.77,101.46 550.54,100.58 551.3,100.1 552.07,100.16 552.83,100.58 553.6,100.87 554.37,100.63 555.13,99.78 555.9,98.42 556.66,96.78 557.43,95.31 558.19,94.4 558.96,94.27 559.72,94.96 560.49,96.37 561.25,98.26 562.02,100.31 562.78,102.2 563.55,103.7 564.31,104.78 565.08,105.54 565.84,106.01 566.61,106.14 567.37,105.95 568.14,105.44 568.9,104.7 569.67,103.85 570.43,103.05 571.2,102.48 571.96,102.07 572.73,101.42 573.49,100.19 574.26,98.29 575.02,95.87 575.79,93.22 576.55,90.81 577.32,89.23 578.08,88.95 578.85,90.04 579.61,92.16 580.38,94.8 581.14,97.52 581.91,99.88 582.67,101.44 583.44,102.06 584.2,102.14 584.97,102.32 585.73,102.84 586.5,103.39 587.26,103.57 588.03,103.4 588.79,103.34 589.56,103.91 590.32,105.1 591.09,106.43 591.85,107.47 592.62,108.02 593.38,108.02 594.15,107.58 594.91,106.98 595.68,106.42 596.44,106.03 597.21,105.98 597.97,106.34 598.74,106.97 599.5,107.63 600.27,108.13 601.04,108.37 601.8,108.41 602.57,108.37 603.33,108.27 604.1,108.11 604.86,107.88 605.63,107.61 606.39,107.33 607.16,107.16 607.92,107.18 608.69,107.34 609.45,107.6 610.22,107.98 610.98,108.41 611.75,108.81 612.51,109.09 613.28,109.26 614.04,109.39 614.81,109.6 615.57,109.85 616.34,110.07 617.1,110.22 617.87,110.3 618.63,110.31 619.4,110.27 620.16,110.25 620.93,110.23 621.69,110.12 622.46,109.92 623.22,109.78 623.99,109.88 624.75,110.22 625.52,110.69 626.28,111.17 627.05,111.55 627.81,111.77 627.81,115.62 506.16,115.62" fill="#fff" stroke="none" stroke-width="1" />
<polyline points="506.16,109.05 506.93,109.03 507.7,109.04 508.46,109.11 509.23,109.22 509.99,109.29 510.76,109.29 511.52,109.24 512.29,109.16 513.05,109.05 513.82,108.95 514.58,108.87 515.35,108.86 516.11,108.95 516.88,109.11 517.64,109.16 518.41,109.07 519.17,108.94 519.94,108.84 520.7,108.77 521.47,108.69 522.23,108.56 523,108.48 523.76,108.52 524.53,108.63 525.29,108.63 526.06,108.52 526.82,108.41 527.59,108.38 528.35,108.36 529.12,108.29 529.88,108.18 530.65,108.1 531.41,108 532.18,107.85 532.94,107.69 533.71,107.59 534.47,107.55 535.24,107.53 536,107.45 536.77,107.3 537.53,107.13 538.3,107.01 539.06,106.9 539.83,106.62 540.59,106.13 541.36,105.62 542.12,105.23 542.89,104.9 543.65,104.62 544.42,104.5 545.18,104.56 545.95,104.6 546.71,104.44 547.48,104.04 548.24,103.36 549.01,102.46 549.77,101.46 550.54,100.58 551.3,100.1 552.07,100.16 552.83,100.58 553.6,100.87 554.37,100.63 555.13,99.78 555.9,98.42 556.66,96.78 557.43,95.31 558.19,94.4 558.96,94.27 559.72,94.96 560.49,96.37 561.25,98.26 562.02,100.31 562.78,102.2 563.55,103.7 564.31,104.78 565.08,105.54 565.84,106.01 566.61,106.14 567.37,105.95 568.14,105.44 568.9,104.7 569.67,103.85 570.43,103.05 571.2,102.48 571.96,102.07 572.73,101.42 573.49,100.19 574.26,98.29 575.02,95.87 575.79,93.22 576.55,90.81 577.32,89.23 578.08,88.95 578.85,90.04 579.61,92.16 580.38,94.8 581.14,97.52 581.91,99.88 582.67,101.44 583.44,102.06 584.2,102.14 584.97,102.32 585.73,102.84 586.5,103.39 587.26,103.57 588.03,103.4 588.79,103.34 589.56,103.91 590.32,105.1 591.09,106.43 591.85,107.47 592.62,108.02 593.38,108.02 594.15,107.58 594.91,106.98 595.68,106.42 596.44,106.03 597.21,105.98 597.97,106.34 598.74,106.97 599.5,107.63 600.27,108.13 601.04,108.37 601.8,108.41 602.57,108.37 603.33,108.27 604.1,108.11 604.86,107.88 605.63,107.61 606.39,107.33 607.16,107.16 607.92,107.18 608.69,107.34 609.45,107.6 610.22,107.98 610.98,108.41 611.75,108.81 612.51,109.09 613.28,109.26 614.04,109.39 614.81,109.6 615.57,109.85 616.34,110.07 617.1,110.22 617.87,110.3 618.63,110.31 619.4,110.27 620.16,110.25 620.93,110.23 621.69,110.12 622.46,109.92 623.22,109.78 623.99,109.88 624.75,110.22 625.52,110.69 626.28,111.17 627.05,111.55 627.81,111.77" fill="none" stroke="#3838c8" stroke-width="0.9" stroke-linejoin="round" />
<polygon points="499.03,117.11 499.81,116.99 500.6,116.86 501.38,116.86 502.17,116.97 502.96,117.07 503.74,117.08 504.53,117.11 505.32,117.22 506.1,117.35 506.89,117.34 507.68,117.16 508.46,117 509.25,116.96 510.03,116.97 510.82,116.96 511.61,116.98 512.39,117.07 513.18,117.14 513.97,117.1 514.75,116.97 515.54,116.85 516.32,116.77 517.11,116.7 517.9,116.61 518.68,116.57 519.47,116.61 520.26,116.66 521.04,116.68 521.83,116.73 522.62,116.8 523.4,116.74 524.19,116.52 524.97,116.29 525.76,116.16 526.55,116.07 527.33,115.99 528.12,115.94 528.91,115.87 529.69,115.75 530.48,115.66 531.27,115.68 532.05,115.69 532.84,115.53 533.62,115.25 534.41,114.96 535.2,114.71 535.98,114.45 536.77,114.2 537.56,114.03 538.34,113.98 539.13,114.02 539.91,114.05 540.7,113.94 541.49,113.56 542.27,112.8 543.06,111.78 543.85,110.84 544.63,110.19 545.42,109.89 546.21,109.9 546.99,110.1 547.78,110.23 548.56,110.05 549.35,109.44 550.14,108.46 550.92,107.26 551.71,106.13 552.5,105.39 553.28,105.29 554.07,105.88 554.86,107.07 555.64,108.6 556.43,110.18 557.21,111.59 558,112.75 558.79,113.61 559.57,114.18 560.36,114.51 561.15,114.64 561.93,114.48 562.72,114.01 563.51,113.3 564.29,112.52 565.08,111.92 565.86,111.61 566.65,111.35 567.44,110.77 568.22,109.65 569.01,107.98 569.8,105.75 570.58,103.24 571.37,101.03 572.15,99.66 572.94,99.46 573.73,100.44 574.51,102.34 575.3,104.68 576.09,106.97 576.87,108.87 577.66,110.2 578.45,110.93 579.23,111.22 580.02,111.46 580.8,111.92 581.59,112.36 582.38,112.43 583.16,112.22 583.95,112.19 584.74,112.73 585.52,113.77 586.31,114.93 587.1,115.78 587.88,116.13 588.67,116.01 589.45,115.58 590.24,115.08 591.03,114.71 591.81,114.52 592.6,114.5 593.39,114.7 594.17,115.12 594.96,115.66 595.75,116.13 596.53,116.4 597.32,116.46 598.1,116.44 598.89,116.42 599.68,116.4 600.46,116.29 601.25,116.05 602.04,115.76 602.82,115.57 603.61,115.57 604.39,115.73 605.18,116.04 605.97,116.42 606.75,116.74 607.54,116.97 608.33,117.19 609.11,117.43 609.9,117.63 610.69,117.73 611.47,117.77 612.26,117.83 613.04,117.94 613.83,118.07 614.62,118.21 615.4,118.35 616.19,118.47 616.98,118.45 617.76,118.24 618.55,117.93 619.34,117.68 620.12,117.66 620.91,118.01 621.69,118.55 622.48,118.98 623.27,119.24 624.05,119.4 624.05,123.9 499.03,123.9" fill="#fff" stroke="none" stroke-width="1" />
<polyline points="499.03,117.11 499.81,116.99 500.6,116.86 501.38,116.86 502.17,116.97 502.96,117.07 503.74,117.08 504.53,117.11 505.32,117.22 506.1,117.35 506.89,117.34 507.68,117.16 508.46,117 509.25,116.96 510.03,116.97 510.82,116.96 511.61,116.98 512.39,117.07 513.18,117.14 513.97,117.1 514.75,116.97 515.54,116.85 516.32,116.77 517.11,116.7 517.9,116.61 518.68,116.57 519.47,116.61 520.26,116.66 521.04,116.68 521.83,116.73 522.62,116.8 523.4,116.74 524.19,116.52 524.97,116.29 525.76,116.16 526.55,116.07 527.33,115.99 528.12,115.94 528.91,115.87 529.69,115.75 530.48,115.66 531.27,115.68 532.05,115.69 532.84,115.53 533.62,115.25 534.41,114.96 535.2,114.71 535.98,114.45 536.77,114.2 537.56,114.03 538.34,113.98 539.13,114.02 539.91,114.05 540.7,113.94 541.49,113.56 542.27,112.8 543.06,111.78 543.85,110.84 544.63,110.19 545.42,109.89 546.21,109.9 546.99,110.1 547.78,110.23 548.56,110.05 549.35,109.44 550.14,108.46 550.92,107.26 551.71,106.13 552.5,105.39 553.28,105.29 554.07,105.88 554.86,107.07 555.64,108.6 556.43,110.18 557.21,111.59 558,112.75 558.79,113.61 559.57,114.18 560.36,114.51 561.15,114.64 561.93,114.48 562.72,114.01 563.51,113.3 564.29,112.52 565.08,111.92 565.86,111.61 566.65,111.35 567.44,110.77 568.22,109.65 569.01,107.98 569.8,105.75 570.58,103.24 571.37,101.03 572.15,99.66 572.94,99.46 573.73,100.44 574.51,102.34 575.3,104.68 576.09,106.97 576.87,108.87 577.66,110.2 578.45,110.93 579.23,111.22 580.02,111.46 580.8,111.92 581.59,112.36 582.38,112.43 583.16,112.22 583.95,112.19 584.74,112.73 585.52,113.77 586.31,114.93 587.1,115.78 587.88,116.13 588.67,116.01 589.45,115.58 590.24,115.08 591.03,114.71 591.81,114.52 592.6,114.5 593.39,114.7 594.17,115.12 594.96,115.66 595.75,116.13 596.53,116.4 597.32,116.46 598.1,116.44 598.89,116.42 599.68,116.4 600.46,116.29 601.25,116.05 602.04,115.76 602.82,115.57 603.61,115.57 604.39,115.73 605.18,116.04 605.97,116.42 606.75,116.74 607.54,116.97 608.33,117.19 609.11,117.43 609.9,117.63 610.69,117.73 611.47,117.77 612.26,117.83 613.04,117.94 613.83,118.07 614.62,118.21 615.4,118.35 616.19,118.47 616.98,118.45 617.76,118.24 618.55,117.93 619.34,117.68 620.12,117.66 620.91,118.01 621.69,118.55 622.48,118.98 623.27,119.24 624.05,119.4" fill="none" stroke="#3a38b4" stroke-width="0.9" stroke-linejoin="round" />
<polygon points="491.59,125.65 492.4,125.73 493.2,125.82 494.01,125.86 494.82,125.81 495.63,125.71 496.44,125.67 497.25,125.71 498.05,125.68 498.86,125.58 499.67,125.52 500.48,125.53 501.29,125.61 502.1,125.69 502.91,125.7 503.71,125.64 504.52,125.6 505.33,125.62 506.14,125.67 506.95,125.64 507.76,125.5 508.56,125.37 509.37,125.37 510.18,125.48 510.99,125.56 511.8,125.55 512.61,125.5 513.42,125.4 514.22,125.27 515.03,125.12 515.84,125.03 516.65,125.08 517.46,125.18 518.27,125.18 519.08,125.03 519.88,124.8 520.69,124.6 521.5,124.48 522.31,124.46 523.12,124.54 523.93,124.62 524.73,124.64 525.54,124.61 526.35,124.54 527.16,124.4 527.97,124.19 528.78,123.92 529.59,123.56 530.39,123.19 531.2,123 532.01,123 532.82,123.02 533.63,123.01 534.44,122.97 535.24,122.77 536.05,122.37 536.86,121.84 537.67,121.24 538.48,120.65 539.29,120.22 540.1,120.16 540.9,120.44 541.71,120.75 542.52,120.8 543.33,120.37 544.14,119.47 544.95,118.38 545.76,117.48 546.56,116.95 547.37,116.89 548.18,117.34 548.99,118.2 549.8,119.33 550.61,120.54 551.41,121.61 552.22,122.47 553.03,123.11 553.84,123.51 554.65,123.67 555.46,123.7 556.27,123.62 557.07,123.38 557.88,122.85 558.69,122.1 559.5,121.43 560.31,121 561.12,120.68 561.93,120.21 562.73,119.35 563.54,117.99 564.35,116.2 565.16,114.26 565.97,112.5 566.78,111.31 567.58,111.04 568.39,111.83 569.2,113.51 570.01,115.61 570.82,117.62 571.63,119.2 572.44,120.13 573.24,120.47 574.05,120.58 574.86,120.82 575.67,121.24 576.48,121.66 577.29,121.87 578.09,121.82 578.9,121.74 579.71,122.02 580.52,122.8 581.33,123.81 582.14,124.61 582.95,124.97 583.75,124.91 584.56,124.62 585.37,124.22 586.18,123.79 586.99,123.45 587.8,123.35 588.61,123.57 589.41,124.03 590.22,124.58 591.03,125.01 591.84,125.28 592.65,125.42 593.46,125.42 594.26,125.2 595.07,124.84 595.88,124.49 596.69,124.26 597.5,124.16 598.31,124.19 599.12,124.3 599.92,124.41 600.73,124.49 601.54,124.58 602.35,124.72 603.16,124.87 603.97,125.04 604.77,125.33 605.58,125.66 606.39,125.92 607.2,126.1 608.01,126.29 608.82,126.48 609.63,126.56 610.43,126.5 611.24,126.45 612.05,126.41 612.86,126.31 613.67,126.1 614.48,125.84 615.29,125.59 616.09,125.54 616.9,125.79 617.71,126.18 618.52,126.55 619.33,126.89 620.14,127.15 620.14,132.54 491.59,132.54" fill="#fff" stroke="none" stroke-width="1" />
<polyline points="491.59,125.65 492.4,125.73 493.2,125.82 494.01,125.86 494.82,125.81 495.63,125.71 496.44,125.67 497.25,125.71 498.05,125.68 498.86,125.58 499.67,125.52 500.48,125.53 501.29,125.61 502.1,125.69 502.91,125.7 503.71,125.64 504.52,125.6 505.33,125.62 506.14,125.67 506.95,125.64 507.76,125.5 508.56,125.37 509.37,125.37 510.18,125.48 510.99,125.56 511.8,125.55 512.61,125.5 513.42,125.4 514.22,125.27 515.03,125.12 515.84,125.03 516.65,125.08 517.46,125.18 518.27,125.18 519.08,125.03 519.88,124.8 520.69,124.6 521.5,124.48 522.31,124.46 523.12,124.54 523.93,124.62 524.73,124.64 525.54,124.61 526.35,124.54 527.16,124.4 527.97,124.19 528.78,123.92 529.59,123.56 530.39,123.19 531.2,123 532.01,123 532.82,123.02 533.63,123.01 534.44,122.97 535.24,122.77 536.05,122.37 536.86,121.84 537.67,121.24 538.48,120.65 539.29,120.22 540.1,120.16 540.9,120.44 541.71,120.75 542.52,120.8 543.33,120.37 544.14,119.47 544.95,118.38 545.76,117.48 546.56,116.95 547.37,116.89 548.18,117.34 548.99,118.2 549.8,119.33 550.61,120.54 551.41,121.61 552.22,122.47 553.03,123.11 553.84,123.51 554.65,123.67 555.46,123.7 556.27,123.62 557.07,123.38 557.88,122.85 558.69,122.1 559.5,121.43 560.31,121 561.12,120.68 561.93,120.21 562.73,119.35 563.54,117.99 564.35,116.2 565.16,114.26 565.97,112.5 566.78,111.31 567.58,111.04 568.39,111.83 569.2,113.51 570.01,115.61 570.82,117.62 571.63,119.2 572.44,120.13 573.24,120.47 574.05,120.58 574.86,120.82 575.67,121.24 576.48,121.66 577.29,121.87 578.09,121.82 578.9,121.74 579.71,122.02 580.52,122.8 581.33,123.81 582.14,124.61 582.95,124.97 583.75,124.91 584.56,124.62 585.37,124.22 586.18,123.79 586.99,123.45 587.8,123.35 588.61,123.57 589.41,124.03 590.22,124.58 591.03,125.01 591.84,125.28 592.65,125.42 593.46,125.42 594.26,125.2 595.07,124.84 595.88,124.49 596.69,124.26 597.5,124.16 598.31,124.19 599.12,124.3 599.92,124.41 600.73,124.49 601.54,124.58 602.35,124.72 603.16,124.87 603.97,125.04 604.77,125.33 605.58,125.66 606.39,125.92 607.2,126.1 608.01,126.29 608.82,126.48 609.63,126.56 610.43,126.5 611.24,126.45 612.05,126.41 612.86,126.31 613.67,126.1 614.48,125.84 615.29,125.59 616.09,125.54 616.9,125.79 617.71,126.18 618.52,126.55 619.33,126.89 620.14,127.15" fill="none" stroke="#3a2ca0" stroke-width="0.9" stroke-linejoin="round" />
<polygon points="483.85,134.43 484.68,134.52 485.51,134.64 486.34,134.72 487.17,134.7 488.01,134.62 488.84,134.56 489.67,134.6 490.5,134.67 491.33,134.68 492.16,134.63 493,134.61 493.83,134.59 494.66,134.61 495.49,134.68 496.32,134.74 497.15,134.7 497.98,134.64 498.82,134.67 499.65,134.77 500.48,134.79 501.31,134.66 502.14,134.5 502.97,134.45 503.81,134.49 504.64,134.52 505.47,134.52 506.3,134.5 507.13,134.46 507.96,134.38 508.79,134.28 509.63,134.18 510.46,134.11 511.29,134.1 512.12,134.11 512.95,134.09 513.78,134.05 514.62,134.01 515.45,133.91 516.28,133.77 517.11,133.66 517.94,133.66 518.77,133.76 519.6,133.85 520.44,133.79 521.27,133.7 522.1,133.71 522.93,133.69 523.76,133.51 524.59,133.26 525.43,133.16 526.26,133.18 527.09,133.14 527.92,132.99 528.75,132.84 529.58,132.71 530.41,132.55 531.25,132.34 532.08,132.12 532.91,131.87 533.74,131.64 534.57,131.54 535.4,131.61 536.23,131.71 537.07,131.58 537.9,131.16 538.73,130.63 539.56,130.18 540.39,129.83 541.22,129.6 542.06,129.61 542.89,130 543.72,130.71 544.55,131.53 545.38,132.27 546.21,132.81 547.04,133.16 547.88,133.4 548.71,133.57 549.54,133.58 550.37,133.44 551.2,133.22 552.03,132.95 552.87,132.66 553.7,132.38 554.53,132.17 555.36,132.06 556.19,131.98 557.02,131.75 557.85,131.17 558.69,130.25 559.52,129.29 560.35,128.53 561.18,128.03 562.01,127.93 562.84,128.34 563.68,129.13 564.51,130.04 565.34,130.89 566.17,131.53 567,131.9 567.83,132.11 568.66,132.26 569.5,132.38 570.33,132.48 571.16,132.57 571.99,132.59 572.82,132.53 573.65,132.55 574.49,132.8 575.32,133.27 576.15,133.82 576.98,134.2 577.81,134.3 578.64,134.18 579.47,133.97 580.31,133.67 581.14,133.37 581.97,133.24 582.8,133.32 583.63,133.55 584.46,133.82 585.3,134.01 586.13,134.02 586.96,133.95 587.79,133.91 588.62,133.89 589.45,133.82 590.28,133.76 591.12,133.78 591.95,133.84 592.78,133.83 593.61,133.7 594.44,133.62 595.27,133.68 596.1,133.85 596.94,134.07 597.77,134.28 598.6,134.5 599.43,134.72 600.26,134.86 601.09,134.93 601.93,134.89 602.76,134.78 603.59,134.72 604.42,134.79 605.25,134.94 606.08,135.02 606.91,134.96 607.75,134.83 608.58,134.74 609.41,134.65 610.24,134.53 611.07,134.41 611.9,134.41 612.74,134.56 613.57,134.83 614.4,135.12 615.23,135.27 616.06,135.27 616.06,141.54 483.85,141.54" fill="#fff" stroke="none" stroke-width="1" />
<polyline points="483.85,134.43 484.68,134.52 485.51,134.64 486.34,134.72 487.17,134.7 488.01,134.62 488.84,134.56 489.67,134.6 490.5,134.67 491.33,134.68 492.16,134.63 493,134.61 493.83,134.59 494.66,134.61 495.49,134.68 496.32,134.74 497.15,134.7 497.98,134.64 498.82,134.67 499.65,134.77 500.48,134.79 501.31,134.66 502.14,134.5 502.97,134.45 503.81,134.49 504.64,134.52 505.47,134.52 506.3,134.5 507.13,134.46 507.96,134.38 508.79,134.28 509.63,134.18 510.46,134.11 511.29,134.1 512.12,134.11 512.95,134.09 513.78,134.05 514.62,134.01 515.45,133.91 516.28,133.77 517.11,133.66 517.94,133.66 518.77,133.76 519.6,133.85 520.44,133.79 521.27,133.7 522.1,133.71 522.93,133.69 523.76,133.51 524.59,133.26 525.43,133.16 526.26,133.18 527.09,133.14 527.92,132.99 528.75,132.84 529.58,132.71 530.41,132.55 531.25,132.34 532.08,132.12 532.91,131.87 533.74,131.64 534.57,131.54 535.4,131.61 536.23,131.71 537.07,131.58 537.9,131.16 538.73,130.63 539.56,130.18 540.39,129.83 541.22,129.6 542.06,129.61 542.89,130 543.72,130.71 544.55,131.53 545.38,132.27 546.21,132.81 547.04,133.16 547.88,133.4 548.71,133.57 549.54,133.58 550.37,133.44 551.2,133.22 552.03,132.95 552.87,132.66 553.7,132.38 554.53,132.17 555.36,132.06 556.19,131.98 557.02,131.75 557.85,131.17 558.69,130.25 559.52,129.29 560.35,128.53 561.18,128.03 562.01,127.93 562.84,128.34 563.68,129.13 564.51,130.04 565.34,130.89 566.17,131.53 567,131.9 567.83,132.11 568.66,132.26 569.5,132.38 570.33,132.48 571.16,132.57 571.99,132.59 572.82,132.53 573.65,132.55 574.49,132.8 575.32,133.27 576.15,133.82 576.98,134.2 577.81,134.3 578.64,134.18 579.47,133.97 580.31,133.67 581.14,133.37 581.97,133.24 582.8,133.32 583.63,133.55 584.46,133.82 585.3,134.01 586.13,134.02 586.96,133.95 587.79,133.91 588.62,133.89 589.45,133.82 590.28,133.76 591.12,133.78 591.95,133.84 592.78,133.83 593.61,133.7 594.44,133.62 595.27,133.68 596.1,133.85 596.94,134.07 597.77,134.28 598.6,134.5 599.43,134.72 600.26,134.86 601.09,134.93 601.93,134.89 602.76,134.78 603.59,134.72 604.42,134.79 605.25,134.94 606.08,135.02 606.91,134.96 607.75,134.83 608.58,134.74 609.41,134.65 610.24,134.53 611.07,134.41 611.9,134.41 612.74,134.56 613.57,134.83 614.4,135.12 615.23,135.27 616.06,135.27" fill="none" stroke="#5a3aa6" stroke-width="0.9" stroke-linejoin="round" />
<line x1="529.1" y1="134.2" x2="594.5" y2="28" stroke="#555" stroke-width="0.55" />
<line x1="533.5" y1="138.6" x2="598.5" y2="22" stroke="#555" stroke-width="0.55" />
<line x1="543.2" y1="135.7" x2="604.8" y2="8.2" stroke="#555" stroke-width="0.55" />
<line x1="559.5" y1="132.7" x2="618.5" y2="12" stroke="#555" stroke-width="0.55" />
<line x1="571.4" y1="138.6" x2="627.5" y2="26" stroke="#555" stroke-width="0.55" />
<line x1="584" y1="137.2" x2="634.9" y2="36.5" stroke="#555" stroke-width="0.55" />
<line x1="478.5" y1="148.1" x2="617.2" y2="148.1" stroke="#333" stroke-width="0.9" />
<line x1="478.5" y1="148.1" x2="478.5" y2="78.2" stroke="#333" stroke-width="0.9" />
<line x1="617.2" y1="148.1" x2="661.2" y2="47.2" stroke="#333" stroke-width="0.9" />
<line x1="478.5" y1="148.1" x2="478.5" y2="150.6" stroke="#333" stroke-width="0.8" />
<text x="478.5" y="160.4" font-size="8.3" text-anchor="middle" fill="#222" >2000</text>
<line x1="495.84" y1="148.1" x2="495.84" y2="149.6" stroke="#333" stroke-width="0.8" />
<line x1="513.17" y1="148.1" x2="513.17" y2="150.6" stroke="#333" stroke-width="0.8" />
<text x="513.17" y="160.4" font-size="8.3" text-anchor="middle" fill="#222" >1800</text>
<line x1="530.51" y1="148.1" x2="530.51" y2="149.6" stroke="#333" stroke-width="0.8" />
<line x1="547.85" y1="148.1" x2="547.85" y2="150.6" stroke="#333" stroke-width="0.8" />
<text x="547.85" y="160.4" font-size="8.3" text-anchor="middle" fill="#222" >1600</text>
<line x1="565.19" y1="148.1" x2="565.19" y2="149.6" stroke="#333" stroke-width="0.8" />
<line x1="582.53" y1="148.1" x2="582.53" y2="150.6" stroke="#333" stroke-width="0.8" />
<text x="582.53" y="160.4" font-size="8.3" text-anchor="middle" fill="#222" >1400</text>
<line x1="599.86" y1="148.1" x2="599.86" y2="149.6" stroke="#333" stroke-width="0.8" />
<line x1="617.2" y1="148.1" x2="617.2" y2="150.6" stroke="#333" stroke-width="0.8" />
<text x="617.2" y="160.4" font-size="8.3" text-anchor="middle" fill="#222" >1200</text>
<text x="550.4" y="173.4" font-size="10" text-anchor="middle" fill="#222" >Wavenumber (cm<tspan font-size="6" dy="-3.5">-1</tspan><tspan dy="3.5">)</tspan></text>
<text x="469.9" y="115.3" font-size="10.2" text-anchor="middle" fill="#222" transform="rotate(-90 469.9 115.3)">Intensity (a.u.)</text>
<line x1="637.2" y1="127.8" x2="664.8" y2="60.8" stroke="#222" stroke-width="0.8" />
<polygon points="666.4,56.8 663,61.7 666.4,62.8" fill="#222" stroke="none" stroke-width="1" />
<text x="660.3" y="55.7" font-size="7.4" fill="#222" >-1.0</text>
<text x="629.9" y="136.1" font-size="7.1" fill="#222" >OCP</text>
<text x="0" y="0" font-size="6.4" text-anchor="middle" fill="#222" transform="translate(674.8 94.5) rotate(-66.3) scale(1,2.0)">Potential (V vs. RHE)</text>
<line x1="569.2" y1="4.7" x2="569.2" y2="18.4" stroke="#222" stroke-width="0.8" />
<line x1="567.7" y1="4.7" x2="570.7" y2="4.7" stroke="#222" stroke-width="0.8" />
<line x1="567.7" y1="18.4" x2="570.7" y2="18.4" stroke="#222" stroke-width="0.8" />
<text x="571.6" y="14.6" font-size="7.8" fill="#222" >0.01</text>
<text x="618.8" y="10.2" font-size="7.7" fill="#222" >Pt<tspan font-size="5.1" dy="1.9">NPs</tspan><tspan dy="-1.9">/Fe</tspan><tspan font-size="5.1" dy="1.9">SAC</tspan></text>
<text x="460.2" y="13.3" font-size="22.5" fill="#000" >e</text>
<text x="518.3" y="137.9" font-size="6.8" fill="#5a5af0" font-weight="bold">NO<tspan font-size="4.6" dy="1.8">2</tspan></text>
<text x="525.4" y="145" font-size="6.8" fill="#f01818" font-weight="bold">NO<tspan font-size="4.6" dy="1.8">3</tspan></text>
<text x="537.3" y="140.1" font-size="6.8" fill="#18c8a0" font-weight="bold">H<tspan font-size="4.6" dy="1.8">2</tspan><tspan dy="-1.8">O</tspan></text>
<text x="551.8" y="140.6" font-size="6.8" fill="#f87a50" font-weight="bold">NH<tspan font-size="4.6" dy="1.8">2</tspan></text>
<text x="566.6" y="144.6" font-size="6.8" fill="#f05a6a" font-weight="bold">NH<tspan font-size="4.6" dy="1.8">4</tspan><tspan font-size="4.6" dy="-5">+</tspan></text>
<text x="582.5" y="143.1" font-size="6.8" fill="#f87a50" font-weight="bold">NH<tspan font-size="4.6" dy="1.8">x</tspan></text>
<rect x="254.6" y="210.5" width="147.8" height="140.8" fill="#8e2a8e"/>
<path fill="#b424d4" d="M254.6 210.5h147.8v23.13h-147.8zM254.6 233.63h140.76v3.02h-140.76zM399.38 233.63h3.02v3.02h-3.02zM254.6 236.65h139.76v17.1h-139.76zM400.39 236.65h2.01v17.1h-2.01zM254.6 253.75h138.75v10.06h-138.75zM400.39 253.75h2.01v10.06h-2.01zM254.6 263.8h137.75v7.04h-137.75zM400.39 263.8h2.01v7.04h-2.01zM254.6 270.84h136.74v17.1h-136.74zM400.39 270.84h2.01v17.1h-2.01zM254.6 287.94h135.73v5.03h-135.73zM400.39 287.94h2.01v5.03h-2.01zM254.6 292.97h135.73v18.1h-135.73zM401.39 292.97h1.01v18.1h-1.01zM254.6 311.07h136.74v3.02h-136.74zM401.39 311.07h1.01v3.02h-1.01zM254.6 314.09h137.75v3.02h-137.75zM401.39 314.09h1.01v3.02h-1.01zM254.6 317.11h138.75v1.01h-138.75zM401.39 317.11h1.01v1.01h-1.01zM254.6 318.11h147.8v33.19h-147.8z"/>
<path fill="#c626f2" d="M254.6 210.5h147.8v4.02h-147.8zM254.6 214.52h141.77v1.01h-141.77zM397.37 214.52h5.03v1.01h-5.03zM254.6 215.53h140.76v1.01h-140.76zM398.38 215.53h4.02v1.01h-4.02zM254.6 216.53h140.76v1.01h-140.76zM399.38 216.53h3.02v1.01h-3.02zM254.6 217.54h139.76v1.01h-139.76zM399.38 217.54h3.02v1.01h-3.02zM254.6 218.55h139.76v3.02h-139.76zM400.39 218.55h2.01v3.02h-2.01zM254.6 221.56h138.75v1.01h-138.75zM400.39 221.56h2.01v1.01h-2.01zM254.6 222.57h138.75v7.04h-138.75zM401.39 222.57h1.01v7.04h-1.01zM254.6 229.61h137.75v15.09h-137.75zM254.6 244.69h136.74v6.03h-136.74zM254.6 250.73h135.73v2.01h-135.73zM254.6 252.74h134.73v2.01h-134.73zM254.6 254.75h133.72v7.04h-133.72zM254.6 261.79h132.72v23.13h-132.72zM254.6 284.92h131.71v10.06h-131.71zM254.6 294.98h130.71v31.18h-130.71zM254.6 326.16h131.71v5.03h-131.71zM254.6 331.19h132.72v2.01h-132.72zM254.6 333.2h133.72v2.01h-133.72zM254.6 335.21h134.73v2.01h-134.73zM401.39 335.21h1.01v2.01h-1.01zM254.6 337.22h135.73v1.01h-135.73zM401.39 337.22h1.01v1.01h-1.01zM254.6 338.23h136.74v1.01h-136.74zM401.39 338.23h1.01v1.01h-1.01zM254.6 339.23h137.75v1.01h-137.75zM401.39 339.23h1.01v1.01h-1.01zM254.6 340.24h147.8v11.06h-147.8z"/>
<path fill="#ae1cf4" d="M254.6 210.5h19.1v1.01h-19.1zM274.71 210.5h12.07v1.01h-12.07zM287.78 210.5h98.53v1.01h-98.53zM254.6 211.51h19.1v13.07h-19.1zM274.71 211.51h12.07v13.07h-12.07zM287.78 211.51h97.53v13.07h-97.53zM254.6 224.58h19.1v6.03h-19.1zM274.71 224.58h12.07v6.03h-12.07zM287.78 224.58h96.52v6.03h-96.52zM254.6 230.61h19.1v2.01h-19.1zM274.71 230.61h12.07v2.01h-12.07zM287.78 230.61h95.52v2.01h-95.52zM254.6 232.63h19.1v1.01h-19.1zM274.71 232.63h12.07v1.01h-12.07zM287.78 232.63h94.51v1.01h-94.51zM254.6 233.63h19.1v4.02h-19.1zM274.71 233.63h12.07v4.02h-12.07zM287.78 233.63h90.49v4.02h-90.49zM254.6 237.65h19.1v14.08h-19.1zM274.71 237.65h12.07v14.08h-12.07zM287.78 237.65h89.48v14.08h-89.48zM254.6 251.73h19.1v7.04h-19.1zM274.71 251.73h12.07v7.04h-12.07zM287.78 251.73h88.48v7.04h-88.48zM254.6 258.77h19.1v8.05h-19.1zM274.71 258.77h12.07v8.05h-12.07zM287.78 258.77h87.47v8.05h-87.47zM254.6 266.82h19.1v9.05h-19.1zM274.71 266.82h12.07v9.05h-12.07zM287.78 266.82h86.47v9.05h-86.47zM254.6 275.87h19.1v1.01h-19.1zM274.71 275.87h99.54v1.01h-99.54zM254.6 276.88h119.65v2.01h-119.65zM254.6 278.89h120.65v4.02h-120.65zM254.6 282.91h124.67v2.01h-124.67zM254.6 284.92h125.68v9.05h-125.68zM254.6 293.97h126.69v18.1h-126.69zM254.6 312.08h127.69v5.03h-127.69zM254.6 317.11h128.7v9.05h-128.7zM254.6 326.16h129.7v25.14h-129.7z"/>
<path fill="#6a12ee" d="M282.75 210.5h2.01v3.02h-2.01zM287.78 210.5h96.52v3.02h-96.52zM282.75 213.52h2.01v6.03h-2.01zM287.78 213.52h95.52v6.03h-95.52zM282.75 219.55h2.01v3.02h-2.01zM287.78 219.55h94.51v3.02h-94.51zM282.75 222.57h2.01v1.01h-2.01zM287.78 222.57h89.48v1.01h-89.48zM379.27 222.57h2.01v1.01h-2.01zM282.75 223.57h2.01v4.02h-2.01zM287.78 223.57h88.48v4.02h-88.48zM282.75 227.6h2.01v11.06h-2.01zM287.78 227.6h87.47v11.06h-87.47zM282.75 238.66h2.01v11.06h-2.01zM287.78 238.66h86.47v11.06h-86.47zM282.75 249.72h2.01v11.06h-2.01zM287.78 249.72h85.46v11.06h-85.46zM280.74 260.79h1.01v4.02h-1.01zM282.75 260.79h2.01v4.02h-2.01zM288.79 260.79h84.46v4.02h-84.46zM280.74 264.81h1.01v13.07h-1.01zM282.75 264.81h2.01v13.07h-2.01zM288.79 264.81h83.45v13.07h-83.45zM279.74 277.88h2.01v5.03h-2.01zM282.75 277.88h2.01v5.03h-2.01zM288.79 277.88h83.45v5.03h-83.45zM279.74 282.91h2.01v3.02h-2.01zM282.75 282.91h3.02v3.02h-3.02zM288.79 282.91h83.45v3.02h-83.45zM262.64 285.93h1.01v1.01h-1.01zM267.67 285.93h3.02v1.01h-3.02zM279.74 285.93h2.01v1.01h-2.01zM282.75 285.93h3.02v1.01h-3.02zM287.78 285.93h85.46v1.01h-85.46zM262.64 286.93h2.01v1.01h-2.01zM266.67 286.93h4.02v1.01h-4.02zM279.74 286.93h2.01v1.01h-2.01zM282.75 286.93h3.02v1.01h-3.02zM287.78 286.93h85.46v1.01h-85.46zM261.64 287.94h4.02v1.01h-4.02zM266.67 287.94h5.03v1.01h-5.03zM279.74 287.94h2.01v1.01h-2.01zM282.75 287.94h3.02v1.01h-3.02zM287.78 287.94h85.46v1.01h-85.46zM254.6 288.95h4.02v1.01h-4.02zM261.64 288.95h10.05v1.01h-10.05zM279.74 288.95h6.03v1.01h-6.03zM287.78 288.95h85.46v1.01h-85.46zM254.6 289.95h4.02v1.01h-4.02zM261.64 289.95h11.06v1.01h-11.06zM276.72 289.95h1.01v1.01h-1.01zM279.74 289.95h6.03v1.01h-6.03zM287.78 289.95h85.46v1.01h-85.46zM254.6 290.96h4.02v1.01h-4.02zM261.64 290.96h11.06v1.01h-11.06zM276.72 290.96h1.01v1.01h-1.01zM279.74 290.96h7.04v1.01h-7.04zM287.78 290.96h85.46v1.01h-85.46zM254.6 291.96h5.03v3.02h-5.03zM260.63 291.96h12.07v3.02h-12.07zM276.72 291.96h1.01v3.02h-1.01zM279.74 291.96h7.04v3.02h-7.04zM287.78 291.96h85.46v3.02h-85.46zM254.6 294.98h5.03v2.01h-5.03zM260.63 294.98h12.07v2.01h-12.07zM276.72 294.98h1.01v2.01h-1.01zM279.74 294.98h7.04v2.01h-7.04zM287.78 294.98h86.47v2.01h-86.47zM254.6 296.99h5.03v1.01h-5.03zM260.63 296.99h12.07v1.01h-12.07zM276.72 296.99h1.01v1.01h-1.01zM279.74 296.99h94.51v1.01h-94.51zM254.6 298h4.02v1.01h-4.02zM260.63 298h12.07v1.01h-12.07zM276.72 298h1.01v1.01h-1.01zM279.74 298h94.51v1.01h-94.51zM254.6 299h4.02v1.01h-4.02zM260.63 299h12.07v1.01h-12.07zM276.72 299h1.01v1.01h-1.01zM279.74 299h95.52v1.01h-95.52zM254.6 300.01h4.02v1.01h-4.02zM261.64 300.01h11.06v1.01h-11.06zM276.72 300.01h1.01v1.01h-1.01zM279.74 300.01h99.54v1.01h-99.54zM261.64 301.01h11.06v3.02h-11.06zM276.72 301.01h1.01v3.02h-1.01zM279.74 301.01h99.54v3.02h-99.54zM261.64 304.03h10.05v1.01h-10.05zM276.72 304.03h1.01v1.01h-1.01zM279.74 304.03h99.54v1.01h-99.54zM262.64 305.04h2.01v1.01h-2.01zM266.67 305.04h5.03v1.01h-5.03zM276.72 305.04h1.01v1.01h-1.01zM279.74 305.04h50.27v1.01h-50.27zM331.01 305.04h48.26v1.01h-48.26zM266.67 306.04h5.03v1.01h-5.03zM276.72 306.04h1.01v1.01h-1.01zM279.74 306.04h50.27v1.01h-50.27zM331.01 306.04h49.27v1.01h-49.27zM267.67 307.05h3.02v1.01h-3.02zM276.72 307.05h1.01v1.01h-1.01zM279.74 307.05h50.27v1.01h-50.27zM331.01 307.05h49.27v1.01h-49.27zM276.72 308.05h1.01v6.03h-1.01zM279.74 308.05h50.27v6.03h-50.27zM331.01 308.05h49.27v6.03h-49.27zM276.72 314.09h1.01v13.07h-1.01zM279.74 314.09h100.54v13.07h-100.54zM268.68 327.16h2.01v2.01h-2.01zM276.72 327.16h1.01v2.01h-1.01zM278.73 327.16h101.55v2.01h-101.55zM268.68 329.17h2.01v1.01h-2.01zM276.72 329.17h103.56v1.01h-103.56zM267.67 330.18h4.02v2.01h-4.02zM276.72 330.18h103.56v2.01h-103.56zM267.67 332.19h4.02v6.03h-4.02zM276.72 332.19h104.57v6.03h-104.57zM267.67 338.23h4.02v2.01h-4.02zM276.72 338.23h105.57v2.01h-105.57zM267.67 340.24h4.02v1.01h-4.02zM276.72 340.24h106.58v1.01h-106.58zM268.68 341.24h2.01v3.02h-2.01zM276.72 341.24h106.58v3.02h-106.58zM276.72 344.26h106.58v7.04h-106.58z"/>
<path fill="#2014f0" d="M289.79 210.5h82.45v1.01h-82.45zM378.27 210.5h4.02v1.01h-4.02zM289.79 211.51h82.45v1.01h-82.45zM379.27 211.51h3.02v1.01h-3.02zM289.79 212.51h82.45v1.01h-82.45zM379.27 212.51h2.01v1.01h-2.01zM289.79 213.52h82.45v32.18h-82.45zM289.79 245.7h81.44v7.04h-81.44zM290.8 252.74h80.44v7.04h-80.44zM290.8 259.78h79.43v8.05h-79.43zM290.8 267.83h37.2v10.06h-37.2zM330.01 267.83h40.22v10.06h-40.22zM291.8 277.88h36.2v3.02h-36.2zM330.01 277.88h40.22v3.02h-40.22zM291.8 280.9h37.2v2.01h-37.2zM330.01 280.9h40.22v2.01h-40.22zM291.8 282.91h37.2v1.01h-37.2zM330.01 282.91h39.21v1.01h-39.21zM291.8 283.92h37.2v6.03h-37.2zM331.01 283.92h38.21v6.03h-38.21zM291.8 289.95h37.2v13.07h-37.2zM331.01 289.95h37.2v13.07h-37.2zM292.81 303.03h36.2v13.07h-36.2zM331.01 303.03h37.2v13.07h-37.2zM291.8 316.1h37.2v2.01h-37.2zM331.01 316.1h36.2v2.01h-36.2zM291.8 318.11h38.21v10.06h-38.21zM331.01 318.11h36.2v10.06h-36.2zM291.8 328.17h38.21v1.01h-38.21zM331.01 328.17h31.17v1.01h-31.17zM291.8 329.17h38.21v7.04h-38.21zM331.01 329.17h25.14v7.04h-25.14zM291.8 336.21h38.21v3.02h-38.21zM331.01 336.21h24.13v3.02h-24.13zM291.8 339.23h63.34v12.07h-63.34z"/>
<path fill="#1a18f2" d="M297.83 210.5h30.16v5.03h-30.16zM331.01 210.5h29.16v5.03h-29.16zM297.83 215.53h30.16v14.08h-30.16zM331.01 215.53h28.15v14.08h-28.15zM297.83 229.61h30.16v32.18h-30.16zM331.01 229.61h27.15v32.18h-27.15zM298.84 261.79h29.16v1.01h-29.16zM331.01 261.79h27.15v1.01h-27.15zM298.84 262.8h28.15v4.02h-28.15zM331.01 262.8h27.15v4.02h-27.15zM298.84 266.82h7.04v1.01h-7.04zM306.88 266.82h20.11v1.01h-20.11zM331.01 266.82h27.15v1.01h-27.15zM298.84 267.83h7.04v1.01h-7.04zM307.89 267.83h19.1v1.01h-19.1zM331.01 267.83h27.15v1.01h-27.15zM298.84 268.83h6.03v26.15h-6.03zM307.89 268.83h19.1v26.15h-19.1zM331.01 268.83h27.15v26.15h-27.15zM298.84 294.98h6.03v1.01h-6.03zM307.89 294.98h18.1v1.01h-18.1zM331.01 294.98h26.14v1.01h-26.14zM298.84 295.99h6.03v3.02h-6.03zM307.89 295.99h18.1v3.02h-18.1zM332.02 295.99h25.14v3.02h-25.14zM298.84 299h6.03v2.01h-6.03zM307.89 299h7.04v2.01h-7.04zM315.93 299h10.05v2.01h-10.05zM332.02 299h25.14v2.01h-25.14zM298.84 301.01h6.03v1.01h-6.03zM307.89 301.01h7.04v1.01h-7.04zM315.93 301.01h9.05v1.01h-9.05zM332.02 301.01h24.13v1.01h-24.13zM299.84 302.02h5.03v1.01h-5.03zM307.89 302.02h7.04v1.01h-7.04zM315.93 302.02h9.05v1.01h-9.05zM332.02 302.02h24.13v1.01h-24.13zM299.84 303.03h5.03v2.01h-5.03zM307.89 303.03h7.04v2.01h-7.04zM315.93 303.03h8.04v2.01h-8.04zM332.02 303.03h23.13v2.01h-23.13zM299.84 305.04h5.03v1.01h-5.03zM307.89 305.04h7.04v1.01h-7.04zM316.94 305.04h6.03v1.01h-6.03zM332.02 305.04h20.11v1.01h-20.11zM299.84 306.04h5.03v3.02h-5.03zM307.89 306.04h6.03v3.02h-6.03zM317.94 306.04h5.03v3.02h-5.03zM332.02 306.04h20.11v3.02h-20.11zM299.84 309.06h5.03v18.1h-5.03zM307.89 309.06h6.03v18.1h-6.03zM317.94 309.06h5.03v18.1h-5.03zM332.02 309.06h19.1v18.1h-19.1zM300.85 327.16h4.02v1.01h-4.02zM307.89 327.16h6.03v1.01h-6.03zM317.94 327.16h5.03v1.01h-5.03zM332.02 327.16h19.1v1.01h-19.1zM300.85 328.17h3.02v1.01h-3.02zM307.89 328.17h6.03v1.01h-6.03zM317.94 328.17h5.03v1.01h-5.03zM332.02 328.17h19.1v1.01h-19.1zM300.85 329.17h3.02v2.01h-3.02zM307.89 329.17h6.03v2.01h-6.03zM317.94 329.17h5.03v2.01h-5.03zM332.02 329.17h18.1v2.01h-18.1zM300.85 331.19h3.02v7.04h-3.02zM307.89 331.19h6.03v7.04h-6.03zM317.94 331.19h4.02v7.04h-4.02zM332.02 331.19h18.1v7.04h-18.1zM300.85 338.23h3.02v3.02h-3.02zM307.89 338.23h6.03v3.02h-6.03zM317.94 338.23h4.02v3.02h-4.02zM333.02 338.23h17.09v3.02h-17.09zM300.85 341.24h3.02v2.01h-3.02zM307.89 341.24h6.03v2.01h-6.03zM333.02 341.24h17.09v2.01h-17.09zM307.89 343.25h6.03v1.01h-6.03zM333.02 343.25h17.09v1.01h-17.09zM307.89 344.26h6.03v2.01h-6.03zM334.03 344.26h16.09v2.01h-16.09zM307.89 346.27h6.03v3.02h-6.03zM335.04 346.27h14.08v3.02h-14.08zM308.89 349.29h5.03v2.01h-5.03zM335.04 349.29h14.08v2.01h-14.08z"/>
<path fill="#2272f2" d="M298.84 210.5h7.04v7.04h-7.04zM306.88 210.5h21.11v7.04h-21.11zM332.02 210.5h26.14v7.04h-26.14zM298.84 217.54h29.16v24.14h-29.16zM332.02 217.54h25.14v24.14h-25.14zM298.84 241.68h28.15v12.07h-28.15zM332.02 241.68h25.14v12.07h-25.14zM298.84 253.75h7.04v3.02h-7.04zM306.88 253.75h20.11v3.02h-20.11zM332.02 253.75h25.14v3.02h-25.14zM298.84 256.76h7.04v3.02h-7.04zM307.89 256.76h19.1v3.02h-19.1zM332.02 256.76h25.14v3.02h-25.14zM298.84 259.78h6.03v7.04h-6.03zM307.89 259.78h19.1v7.04h-19.1zM332.02 259.78h25.14v7.04h-25.14zM298.84 266.82h6.03v5.03h-6.03zM307.89 266.82h7.04v5.03h-7.04zM315.93 266.82h11.06v5.03h-11.06zM332.02 266.82h25.14v5.03h-25.14zM298.84 271.85h6.03v12.07h-6.03zM307.89 271.85h7.04v12.07h-7.04zM315.93 271.85h10.05v12.07h-10.05zM332.02 271.85h25.14v12.07h-25.14zM299.84 283.92h5.03v1.01h-5.03zM307.89 283.92h7.04v1.01h-7.04zM316.94 283.92h9.05v1.01h-9.05zM332.02 283.92h25.14v1.01h-25.14zM299.84 284.92h5.03v1.01h-5.03zM307.89 284.92h7.04v1.01h-7.04zM316.94 284.92h8.04v1.01h-8.04zM332.02 284.92h25.14v1.01h-25.14zM299.84 285.93h5.03v2.01h-5.03zM307.89 285.93h7.04v2.01h-7.04zM316.94 285.93h8.04v2.01h-8.04zM332.02 285.93h24.13v2.01h-24.13zM299.84 287.94h5.03v3.02h-5.03zM307.89 287.94h6.03v3.02h-6.03zM316.94 287.94h8.04v3.02h-8.04zM332.02 287.94h24.13v3.02h-24.13zM299.84 290.96h5.03v2.01h-5.03zM307.89 290.96h6.03v2.01h-6.03zM316.94 290.96h7.04v2.01h-7.04zM332.02 290.96h23.13v2.01h-23.13zM299.84 292.97h5.03v3.02h-5.03zM307.89 292.97h6.03v3.02h-6.03zM317.94 292.97h6.03v3.02h-6.03zM332.02 292.97h23.13v3.02h-23.13zM299.84 295.99h4.02v2.01h-4.02zM307.89 295.99h6.03v2.01h-6.03zM317.94 295.99h6.03v2.01h-6.03zM332.02 295.99h22.12v2.01h-22.12zM299.84 298h4.02v2.01h-4.02zM307.89 298h6.03v2.01h-6.03zM317.94 298h5.03v2.01h-5.03zM332.02 298h20.11v2.01h-20.11zM300.85 300.01h3.02v1.01h-3.02zM307.89 300.01h6.03v1.01h-6.03zM317.94 300.01h5.03v1.01h-5.03zM332.02 300.01h20.11v1.01h-20.11zM300.85 301.01h3.02v4.02h-3.02zM307.89 301.01h6.03v4.02h-6.03zM317.94 301.01h5.03v4.02h-5.03zM332.02 301.01h19.1v4.02h-19.1zM300.85 305.04h3.02v8.05h-3.02zM307.89 305.04h6.03v8.05h-6.03zM317.94 305.04h4.02v8.05h-4.02zM332.02 305.04h18.1v8.05h-18.1zM300.85 313.08h3.02v8.05h-3.02zM307.89 313.08h6.03v8.05h-6.03zM317.94 313.08h4.02v8.05h-4.02zM333.02 313.08h17.09v8.05h-17.09zM300.85 321.13h3.02v3.02h-3.02zM307.89 321.13h6.03v3.02h-6.03zM333.02 321.13h17.09v3.02h-17.09zM307.89 324.15h6.03v7.04h-6.03zM333.02 324.15h17.09v7.04h-17.09zM307.89 331.19h6.03v4.02h-6.03zM334.03 331.19h16.09v4.02h-16.09zM307.89 335.21h5.03v1.01h-5.03zM334.03 335.21h15.08v1.01h-15.08zM307.89 336.21h5.03v2.01h-5.03zM335.04 336.21h14.08v2.01h-14.08zM308.89 338.23h4.02v4.02h-4.02zM335.04 338.23h14.08v4.02h-14.08zM309.9 342.25h3.02v2.01h-3.02zM336.04 342.25h12.07v2.01h-12.07zM309.9 344.26h2.01v1.01h-2.01zM336.04 344.26h12.07v1.01h-12.07zM336.04 345.27h12.07v6.03h-12.07z"/>
<path fill="#2ea2f2" d="M298.84 210.5h7.04v9.05h-7.04zM307.89 210.5h19.1v9.05h-19.1zM333.02 210.5h24.13v9.05h-24.13zM298.84 219.55h7.04v9.05h-7.04zM307.89 219.55h19.1v9.05h-19.1zM333.02 219.55h23.13v9.05h-23.13zM298.84 228.6h7.04v7.04h-7.04zM306.88 228.6h20.11v7.04h-20.11zM333.02 228.6h23.13v7.04h-23.13zM298.84 235.64h28.15v5.03h-28.15zM333.02 235.64h23.13v5.03h-23.13zM298.84 240.67h7.04v4.02h-7.04zM306.88 240.67h20.11v4.02h-20.11zM333.02 240.67h23.13v4.02h-23.13zM298.84 244.69h7.04v5.03h-7.04zM307.89 244.69h19.1v5.03h-19.1zM333.02 244.69h23.13v5.03h-23.13zM298.84 249.72h6.03v1.01h-6.03zM307.89 249.72h19.1v1.01h-19.1zM333.02 249.72h23.13v1.01h-23.13zM298.84 250.73h6.03v5.03h-6.03zM307.89 250.73h7.04v5.03h-7.04zM315.93 250.73h11.06v5.03h-11.06zM333.02 250.73h23.13v5.03h-23.13zM298.84 255.76h6.03v3.02h-6.03zM307.89 255.76h7.04v3.02h-7.04zM315.93 255.76h11.06v3.02h-11.06zM332.02 255.76h24.13v3.02h-24.13zM298.84 258.77h6.03v5.03h-6.03zM307.89 258.77h7.04v5.03h-7.04zM315.93 258.77h10.05v5.03h-10.05zM332.02 258.77h24.13v5.03h-24.13zM299.84 263.8h5.03v1.01h-5.03zM307.89 263.8h7.04v1.01h-7.04zM315.93 263.8h10.05v1.01h-10.05zM332.02 263.8h24.13v1.01h-24.13zM299.84 264.81h5.03v4.02h-5.03zM307.89 264.81h7.04v4.02h-7.04zM316.94 264.81h9.05v4.02h-9.05zM332.02 264.81h24.13v4.02h-24.13zM299.84 268.83h5.03v1.01h-5.03zM307.89 268.83h6.03v1.01h-6.03zM316.94 268.83h8.04v1.01h-8.04zM332.02 268.83h24.13v1.01h-24.13zM299.84 269.84h5.03v8.05h-5.03zM308.89 269.84h5.03v8.05h-5.03zM316.94 269.84h8.04v8.05h-8.04zM332.02 269.84h24.13v8.05h-24.13zM299.84 277.88h4.02v1.01h-4.02zM308.89 277.88h5.03v1.01h-5.03zM316.94 277.88h7.04v1.01h-7.04zM332.02 277.88h24.13v1.01h-24.13zM299.84 278.89h4.02v1.01h-4.02zM307.89 278.89h6.03v1.01h-6.03zM316.94 278.89h7.04v1.01h-7.04zM332.02 278.89h24.13v1.01h-24.13zM299.84 279.89h4.02v2.01h-4.02zM307.89 279.89h6.03v2.01h-6.03zM317.94 279.89h6.03v2.01h-6.03zM332.02 279.89h23.13v2.01h-23.13zM299.84 281.91h4.02v5.03h-4.02zM307.89 281.91h6.03v5.03h-6.03zM317.94 281.91h6.03v5.03h-6.03zM333.02 281.91h22.12v5.03h-22.12zM300.85 286.93h3.02v1.01h-3.02zM307.89 286.93h6.03v1.01h-6.03zM317.94 286.93h6.03v1.01h-6.03zM333.02 286.93h22.12v1.01h-22.12zM300.85 287.94h3.02v2.01h-3.02zM307.89 287.94h6.03v2.01h-6.03zM317.94 287.94h6.03v2.01h-6.03zM333.02 287.94h21.11v2.01h-21.11zM300.85 289.95h3.02v1.01h-3.02zM307.89 289.95h6.03v1.01h-6.03zM317.94 289.95h5.03v1.01h-5.03zM333.02 289.95h21.11v1.01h-21.11zM300.85 290.96h3.02v2.01h-3.02zM307.89 290.96h6.03v2.01h-6.03zM317.94 290.96h5.03v2.01h-5.03zM333.02 290.96h19.1v2.01h-19.1zM300.85 292.97h3.02v2.01h-3.02zM307.89 292.97h6.03v2.01h-6.03zM317.94 292.97h5.03v2.01h-5.03zM333.02 292.97h18.1v2.01h-18.1zM300.85 294.98h3.02v1.01h-3.02zM307.89 294.98h6.03v1.01h-6.03zM317.94 294.98h4.02v1.01h-4.02zM333.02 294.98h18.1v1.01h-18.1zM300.85 295.99h3.02v5.03h-3.02zM307.89 295.99h6.03v5.03h-6.03zM317.94 295.99h4.02v5.03h-4.02zM333.02 295.99h17.09v5.03h-17.09zM300.85 301.01h3.02v3.02h-3.02zM307.89 301.01h6.03v3.02h-6.03zM318.95 301.01h3.02v3.02h-3.02zM333.02 301.01h17.09v3.02h-17.09zM300.85 304.03h3.02v2.01h-3.02zM307.89 304.03h6.03v2.01h-6.03zM333.02 304.03h17.09v2.01h-17.09zM307.89 306.04h6.03v9.05h-6.03zM333.02 306.04h17.09v9.05h-17.09zM307.89 315.09h5.03v2.01h-5.03zM333.02 315.09h17.09v2.01h-17.09zM307.89 317.11h5.03v8.05h-5.03zM334.03 317.11h16.09v8.05h-16.09zM307.89 325.15h5.03v1.01h-5.03zM334.03 325.15h15.08v1.01h-15.08zM308.89 326.16h4.02v5.03h-4.02zM335.04 326.16h14.08v5.03h-14.08zM309.9 331.19h2.01v1.01h-2.01zM335.04 331.19h14.08v1.01h-14.08zM309.9 332.19h2.01v2.01h-2.01zM336.04 332.19h12.07v2.01h-12.07zM336.04 334.2h12.07v6.03h-12.07zM337.05 340.24h10.05v6.03h-10.05zM338.05 346.27h8.04v3.02h-8.04zM339.06 349.29h6.03v2.01h-6.03z"/>
<path fill="#34e6fc" d="M299.84 210.5h5.03v14.08h-5.03zM307.89 210.5h19.1v14.08h-19.1zM334.03 210.5h22.12v14.08h-22.12zM299.84 224.58h5.03v1.01h-5.03zM307.89 224.58h19.1v1.01h-19.1zM333.02 224.58h23.13v1.01h-23.13zM299.84 225.59h5.03v6.03h-5.03zM307.89 225.59h19.1v6.03h-19.1zM333.02 225.59h22.12v6.03h-22.12zM299.84 231.62h5.03v2.01h-5.03zM307.89 231.62h7.04v2.01h-7.04zM315.93 231.62h11.06v2.01h-11.06zM333.02 231.62h22.12v2.01h-22.12zM299.84 233.63h6.03v6.03h-6.03zM307.89 233.63h7.04v6.03h-7.04zM315.93 233.63h11.06v6.03h-11.06zM333.02 233.63h22.12v6.03h-22.12zM299.84 239.67h5.03v3.02h-5.03zM307.89 239.67h7.04v3.02h-7.04zM315.93 239.67h11.06v3.02h-11.06zM333.02 239.67h22.12v3.02h-22.12zM299.84 242.68h5.03v3.02h-5.03zM307.89 242.68h6.03v3.02h-6.03zM315.93 242.68h11.06v3.02h-11.06zM333.02 242.68h22.12v3.02h-22.12zM299.84 245.7h5.03v2.01h-5.03zM307.89 245.7h6.03v2.01h-6.03zM315.93 245.7h10.05v2.01h-10.05zM333.02 245.7h22.12v2.01h-22.12zM299.84 247.71h5.03v4.02h-5.03zM307.89 247.71h6.03v4.02h-6.03zM316.94 247.71h9.05v4.02h-9.05zM333.02 247.71h22.12v4.02h-22.12zM299.84 251.73h5.03v3.02h-5.03zM308.89 251.73h5.03v3.02h-5.03zM316.94 251.73h9.05v3.02h-9.05zM333.02 251.73h22.12v3.02h-22.12zM299.84 254.75h5.03v6.03h-5.03zM308.89 254.75h5.03v6.03h-5.03zM316.94 254.75h8.04v6.03h-8.04zM333.02 254.75h22.12v6.03h-22.12zM299.84 260.79h4.02v3.02h-4.02zM308.89 260.79h5.03v3.02h-5.03zM316.94 260.79h8.04v3.02h-8.04zM333.02 260.79h22.12v3.02h-22.12zM299.84 263.8h4.02v10.06h-4.02zM308.89 263.8h5.03v10.06h-5.03zM317.94 263.8h6.03v10.06h-6.03zM333.02 263.8h22.12v10.06h-22.12zM300.85 273.86h3.02v1.01h-3.02zM308.89 273.86h5.03v1.01h-5.03zM317.94 273.86h6.03v1.01h-6.03zM333.02 273.86h22.12v1.01h-22.12zM300.85 274.87h3.02v5.03h-3.02zM308.89 274.87h4.02v5.03h-4.02zM317.94 274.87h6.03v5.03h-6.03zM333.02 274.87h22.12v5.03h-22.12zM300.85 279.89h3.02v1.01h-3.02zM308.89 279.89h4.02v1.01h-4.02zM317.94 279.89h6.03v1.01h-6.03zM333.02 279.89h21.11v1.01h-21.11zM300.85 280.9h3.02v2.01h-3.02zM308.89 280.9h4.02v2.01h-4.02zM318.95 280.9h5.03v2.01h-5.03zM333.02 280.9h21.11v2.01h-21.11zM300.85 282.91h3.02v1.01h-3.02zM308.89 282.91h4.02v1.01h-4.02zM318.95 282.91h4.02v1.01h-4.02zM333.02 282.91h21.11v1.01h-21.11zM300.85 283.92h3.02v1.01h-3.02zM308.89 283.92h4.02v1.01h-4.02zM318.95 283.92h4.02v1.01h-4.02zM333.02 283.92h19.1v1.01h-19.1zM300.85 284.92h3.02v1.01h-3.02zM308.89 284.92h4.02v1.01h-4.02zM318.95 284.92h4.02v1.01h-4.02zM333.02 284.92h18.1v1.01h-18.1zM300.85 285.93h3.02v1.01h-3.02zM308.89 285.93h4.02v1.01h-4.02zM318.95 285.93h3.02v1.01h-3.02zM333.02 285.93h18.1v1.01h-18.1zM300.85 286.93h3.02v3.02h-3.02zM308.89 286.93h4.02v3.02h-4.02zM318.95 286.93h3.02v3.02h-3.02zM333.02 286.93h17.09v3.02h-17.09zM300.85 289.95h3.02v2.01h-3.02zM308.89 289.95h4.02v2.01h-4.02zM333.02 289.95h17.09v2.01h-17.09zM308.89 291.96h4.02v4.02h-4.02zM333.02 291.96h17.09v4.02h-17.09zM308.89 295.99h4.02v3.02h-4.02zM334.03 295.99h16.09v3.02h-16.09zM307.89 299h5.03v16.09h-5.03zM334.03 299h16.09v16.09h-16.09zM308.89 315.09h4.02v1.01h-4.02zM334.03 315.09h15.08v1.01h-15.08zM308.89 316.1h4.02v2.01h-4.02zM335.04 316.1h14.08v2.01h-14.08zM308.89 318.11h3.02v1.01h-3.02zM335.04 318.11h14.08v1.01h-14.08zM309.9 319.12h2.01v3.02h-2.01zM335.04 319.12h14.08v3.02h-14.08zM335.04 322.13h14.08v1.01h-14.08zM336.04 323.14h12.07v6.03h-12.07zM337.05 329.17h10.05v5.03h-10.05zM338.05 334.2h8.04v3.02h-8.04zM339.06 337.22h6.03v3.02h-6.03zM340.06 340.24h4.02v3.02h-4.02zM341.07 343.25h2.01v2.01h-2.01z"/>
<path fill="#22f4f4" d="M299.84 210.5h5.03v1.01h-5.03zM308.89 210.5h6.03v1.01h-6.03zM316.94 210.5h9.05v1.01h-9.05zM335.04 210.5h20.11v1.01h-20.11zM299.84 211.51h5.03v3.02h-5.03zM308.89 211.51h6.03v3.02h-6.03zM316.94 211.51h9.05v3.02h-9.05zM334.03 211.51h21.11v3.02h-21.11zM299.84 214.52h5.03v9.05h-5.03zM308.89 214.52h6.03v9.05h-6.03zM316.94 214.52h9.05v9.05h-9.05zM334.03 214.52h20.11v9.05h-20.11zM299.84 223.57h5.03v12.07h-5.03zM308.89 223.57h5.03v12.07h-5.03zM316.94 223.57h9.05v12.07h-9.05zM334.03 223.57h20.11v12.07h-20.11zM299.84 235.64h5.03v4.02h-5.03zM308.89 235.64h5.03v4.02h-5.03zM316.94 235.64h9.05v4.02h-9.05zM334.03 235.64h19.1v4.02h-19.1zM299.84 239.67h5.03v4.02h-5.03zM308.89 239.67h5.03v4.02h-5.03zM316.94 239.67h8.04v4.02h-8.04zM334.03 239.67h19.1v4.02h-19.1zM299.84 243.69h4.02v1.01h-4.02zM308.89 243.69h5.03v1.01h-5.03zM316.94 243.69h8.04v1.01h-8.04zM334.03 243.69h19.1v1.01h-19.1zM299.84 244.69h4.02v2.01h-4.02zM308.89 244.69h5.03v2.01h-5.03zM317.94 244.69h7.04v2.01h-7.04zM334.03 244.69h20.11v2.01h-20.11zM300.85 246.71h3.02v1.01h-3.02zM308.89 246.71h5.03v1.01h-5.03zM317.94 246.71h7.04v1.01h-7.04zM334.03 246.71h20.11v1.01h-20.11zM300.85 247.71h3.02v1.01h-3.02zM308.89 247.71h5.03v1.01h-5.03zM317.94 247.71h6.03v1.01h-6.03zM334.03 247.71h20.11v1.01h-20.11zM300.85 248.72h3.02v4.02h-3.02zM308.89 248.72h4.02v4.02h-4.02zM317.94 248.72h6.03v4.02h-6.03zM334.03 248.72h20.11v4.02h-20.11zM300.85 252.74h3.02v6.03h-3.02zM309.9 252.74h3.02v6.03h-3.02zM317.94 252.74h6.03v6.03h-6.03zM334.03 252.74h20.11v6.03h-20.11zM300.85 258.77h3.02v16.09h-3.02zM309.9 258.77h3.02v16.09h-3.02zM318.95 258.77h5.03v16.09h-5.03zM334.03 258.77h20.11v16.09h-20.11zM300.85 274.87h3.02v1.01h-3.02zM309.9 274.87h3.02v1.01h-3.02zM318.95 274.87h4.02v1.01h-4.02zM334.03 274.87h20.11v1.01h-20.11zM300.85 275.87h3.02v1.01h-3.02zM309.9 275.87h3.02v1.01h-3.02zM318.95 275.87h3.02v1.01h-3.02zM334.03 275.87h19.1v1.01h-19.1zM309.9 276.88h3.02v1.01h-3.02zM334.03 276.88h17.09v1.01h-17.09zM309.9 277.88h3.02v10.06h-3.02zM334.03 277.88h16.09v10.06h-16.09zM309.9 287.94h2.01v3.02h-2.01zM334.03 287.94h16.09v3.02h-16.09zM309.9 290.96h2.01v11.06h-2.01zM334.03 290.96h15.08v11.06h-15.08zM309.9 302.02h2.01v8.05h-2.01zM335.04 302.02h14.08v8.05h-14.08zM309.9 310.07h1.01v1.01h-1.01zM335.04 310.07h14.08v1.01h-14.08zM335.04 311.07h14.08v2.01h-14.08zM336.04 313.08h12.07v4.02h-12.07zM337.05 317.11h10.05v5.03h-10.05zM338.05 322.13h8.04v3.02h-8.04zM339.06 325.15h6.03v3.02h-6.03zM340.06 328.17h4.02v3.02h-4.02zM341.07 331.19h2.01v3.02h-2.01z"/>
<path fill="#22eab0" d="M308.89 210.5h5.03v10.06h-5.03zM316.94 210.5h8.04v10.06h-8.04zM336.04 210.5h11.06v10.06h-11.06zM350.12 210.5h3.02v10.06h-3.02zM308.89 220.56h5.03v2.01h-5.03zM316.94 220.56h8.04v2.01h-8.04zM335.04 220.56h12.07v2.01h-12.07zM350.12 220.56h3.02v2.01h-3.02zM308.89 222.57h5.03v7.04h-5.03zM317.94 222.57h7.04v7.04h-7.04zM335.04 222.57h12.07v7.04h-12.07zM350.12 222.57h3.02v7.04h-3.02zM308.89 229.61h5.03v1.01h-5.03zM317.94 229.61h7.04v1.01h-7.04zM335.04 229.61h12.07v1.01h-12.07zM351.12 229.61h1.01v1.01h-1.01zM308.89 230.61h4.02v2.01h-4.02zM317.94 230.61h6.03v2.01h-6.03zM335.04 230.61h12.07v2.01h-12.07zM309.9 232.63h3.02v4.02h-3.02zM317.94 232.63h6.03v4.02h-6.03zM335.04 232.63h12.07v4.02h-12.07zM309.9 236.65h2.01v1.01h-2.01zM317.94 236.65h6.03v1.01h-6.03zM335.04 236.65h12.07v1.01h-12.07zM310.9 237.65h1.01v3.02h-1.01zM318.95 237.65h5.03v3.02h-5.03zM335.04 237.65h12.07v3.02h-12.07zM310.9 240.67h1.01v8.05h-1.01zM318.95 240.67h4.02v8.05h-4.02zM335.04 240.67h12.07v8.05h-12.07zM318.95 248.72h4.02v2.01h-4.02zM335.04 248.72h12.07v2.01h-12.07zM319.95 250.73h3.02v1.01h-3.02zM335.04 250.73h12.07v1.01h-12.07zM319.95 251.73h2.01v2.01h-2.01zM335.04 251.73h12.07v2.01h-12.07zM319.95 253.75h2.01v4.02h-2.01zM335.04 253.75h13.07v4.02h-13.07zM335.04 257.77h13.07v9.05h-13.07zM334.03 266.82h14.08v10.06h-14.08zM335.04 276.88h13.07v21.12h-13.07zM336.04 298h12.07v1.01h-12.07zM336.04 299h11.06v4.02h-11.06zM337.05 303.03h10.05v7.04h-10.05zM338.05 310.07h8.04v3.02h-8.04zM339.06 313.08h6.03v3.02h-6.03zM340.06 316.1h4.02v3.02h-4.02zM341.07 319.12h2.01v3.02h-2.01z"/>
<path fill="#14f014" d="M308.89 210.5h5.03v3.02h-5.03zM317.94 210.5h6.03v3.02h-6.03zM337.05 210.5h9.05v3.02h-9.05zM350.12 210.5h3.02v3.02h-3.02zM308.89 213.52h5.03v3.02h-5.03zM317.94 213.52h6.03v3.02h-6.03zM337.05 213.52h9.05v3.02h-9.05zM351.12 213.52h2.01v3.02h-2.01zM309.9 216.53h3.02v3.02h-3.02zM317.94 216.53h6.03v3.02h-6.03zM337.05 216.53h9.05v3.02h-9.05zM351.12 216.53h1.01v3.02h-1.01zM309.9 219.55h3.02v1.01h-3.02zM317.94 219.55h6.03v1.01h-6.03zM337.05 219.55h9.05v1.01h-9.05zM309.9 220.56h2.01v1.01h-2.01zM318.95 220.56h5.03v1.01h-5.03zM337.05 220.56h9.05v1.01h-9.05zM310.9 221.56h1.01v5.03h-1.01zM318.95 221.56h4.02v5.03h-4.02zM337.05 221.56h9.05v5.03h-9.05zM318.95 226.59h4.02v1.01h-4.02zM337.05 226.59h9.05v1.01h-9.05zM319.95 227.6h3.02v1.01h-3.02zM337.05 227.6h9.05v1.01h-9.05zM319.95 228.6h2.01v3.02h-2.01zM337.05 228.6h9.05v3.02h-9.05zM319.95 231.62h2.01v1.01h-2.01zM337.05 231.62h10.05v1.01h-10.05zM319.95 232.63h2.01v4.02h-2.01zM336.04 232.63h11.06v4.02h-11.06zM320.96 236.65h1.01v1.01h-1.01zM336.04 236.65h11.06v1.01h-11.06zM336.04 237.65h11.06v18.1h-11.06zM335.04 255.76h12.07v22.13h-12.07zM336.04 277.88h11.06v3.02h-11.06zM337.05 280.9h9.05v4.02h-9.05zM338.05 284.92h8.04v1.01h-8.04zM338.05 285.93h7.04v4.02h-7.04zM339.06 289.95h6.03v3.02h-6.03zM339.06 292.97h5.03v3.02h-5.03zM340.06 295.99h4.02v8.05h-4.02zM340.06 304.03h3.02v1.01h-3.02zM341.07 305.04h2.01v6.03h-2.01z"/>
<path fill="#a2f020" d="M319.95 210.5h2.01v6.03h-2.01zM339.06 210.5h5.03v6.03h-5.03zM339.06 216.53h5.03v5.03h-5.03zM339.06 221.56h4.02v5.03h-4.02zM340.06 226.59h3.02v8.05h-3.02zM341.07 234.64h2.01v1.01h-2.01zM341.07 235.64h1.01v2.01h-1.01z"/>
<path fill="#d2f020" d="M340.06 210.5h3.02v5.03h-3.02zM341.07 215.53h2.01v2.01h-2.01zM341.07 217.54h1.01v7.04h-1.01z"/>
<path fill="#f2f020" d="M341.07 210.5h1.01v2.01h-1.01z"/>
<rect x="254.6" y="210.5" width="147.8" height="140.8" fill="none" stroke="#333" stroke-width="1"/>
<line x1="254.6" y1="351.3" x2="254.6" y2="353.9" stroke="#333" stroke-width="0.8" />
<text x="254.6" y="362" font-size="7.6" text-anchor="middle" fill="#222" >2000</text>
<line x1="273.07" y1="351.3" x2="273.07" y2="352.9" stroke="#333" stroke-width="0.8" />
<line x1="291.55" y1="351.3" x2="291.55" y2="353.9" stroke="#333" stroke-width="0.8" />
<text x="291.55" y="362" font-size="7.6" text-anchor="middle" fill="#222" >1800</text>
<line x1="310.02" y1="351.3" x2="310.02" y2="352.9" stroke="#333" stroke-width="0.8" />
<line x1="328.5" y1="351.3" x2="328.5" y2="353.9" stroke="#333" stroke-width="0.8" />
<text x="328.5" y="362" font-size="7.6" text-anchor="middle" fill="#222" >1600</text>
<line x1="346.97" y1="351.3" x2="346.97" y2="352.9" stroke="#333" stroke-width="0.8" />
<line x1="365.45" y1="351.3" x2="365.45" y2="353.9" stroke="#333" stroke-width="0.8" />
<text x="365.45" y="362" font-size="7.6" text-anchor="middle" fill="#222" >1400</text>
<line x1="383.92" y1="351.3" x2="383.92" y2="352.9" stroke="#333" stroke-width="0.8" />
<line x1="402.4" y1="351.3" x2="402.4" y2="353.9" stroke="#333" stroke-width="0.8" />
<text x="402.4" y="362" font-size="7.6" text-anchor="middle" fill="#222" >1200</text>
<text x="328.5" y="375.6" font-size="10.25" text-anchor="middle" fill="#222" >Wavenumber (cm<tspan font-size="6.3" dy="-3.7">-1</tspan><tspan dy="3.7">)</tspan></text>
<text x="252.6" y="216.1" font-size="7.4" text-anchor="end" fill="#222" >-1.0</text>
<text x="253.8" y="350.7" font-size="7.7" text-anchor="end" fill="#222" >OCP</text>
<line x1="246.1" y1="222" x2="246.1" y2="342.6" stroke="#555" stroke-width="0.9" stroke-dasharray="1.1,1.1"/>
<polygon points="246.1,219.2 244.8,223.6 247.4,223.6" fill="#222" stroke="none" stroke-width="1" />
<text x="240.8" y="281.6" font-size="10.3" text-anchor="middle" fill="#222" transform="rotate(-90 240.8 281.6)">Potential (V vs. RHE)</text>
<text x="296.2" y="201.3" font-size="5.9" fill="#6464f4" font-weight="bold">NO<tspan font-size="4.0" dy="1.5">2</tspan></text>
<line x1="302.4" y1="202.3" x2="302.4" y2="207" stroke="#6464f4" stroke-width="0.7" />
<polygon points="302.4,209.3 301.1,206 303.7,206" fill="#6464f4" stroke="none" stroke-width="1" />
<text x="307.7" y="201.3" font-size="5.9" fill="#f41818" font-weight="bold">NO<tspan font-size="4.0" dy="1.5">3</tspan></text>
<line x1="312.3" y1="202.3" x2="312.3" y2="207" stroke="#f41818" stroke-width="0.7" />
<polygon points="312.3,209.3 311,206 313.6,206" fill="#f41818" stroke="none" stroke-width="1" />
<text x="319.5" y="201.3" font-size="5.9" fill="#1cc89a" font-weight="bold">H<tspan font-size="4.0" dy="1.5">2</tspan><tspan dy="-1.5">O</tspan></text>
<line x1="320.8" y1="202.3" x2="320.8" y2="207" stroke="#1cc89a" stroke-width="0.7" />
<polygon points="320.8,209.3 319.5,206 322.1,206" fill="#1cc89a" stroke="none" stroke-width="1" />
<text x="336.2" y="201.3" font-size="5.9" fill="#f8845a" font-weight="bold">NH<tspan font-size="4.0" dy="1.5">2</tspan></text>
<line x1="342.1" y1="202.3" x2="342.1" y2="207" stroke="#f8845a" stroke-width="0.7" />
<polygon points="342.1,209.3 340.8,206 343.4,206" fill="#f8845a" stroke="none" stroke-width="1" />
<text x="347.3" y="201.3" font-size="5.9" fill="#f46078" font-weight="bold">NH<tspan font-size="4.0" dy="1.5">4</tspan><tspan font-size="4.0" dy="-4">+</tspan></text>
<line x1="353.9" y1="202.3" x2="353.9" y2="207" stroke="#f46078" stroke-width="0.7" />
<polygon points="353.9,209.3 352.6,206 355.2,206" fill="#f46078" stroke="none" stroke-width="1" />
<text x="360.7" y="201.3" font-size="5.9" fill="#f8845a" font-weight="bold">NH<tspan font-size="4.0" dy="1.5">x</tspan></text>
<line x1="361.3" y1="202.3" x2="361.3" y2="207" stroke="#f8845a" stroke-width="0.7" />
<polygon points="361.3,209.3 360,206 362.6,206" fill="#f8845a" stroke="none" stroke-width="1" />
<rect x="425.9" y="208.4" width="9.3" height="2.9" fill="#8c1410"/>
<rect x="425.9" y="211" width="9.3" height="2.8" fill="#a01810"/>
<rect x="425.9" y="213.5" width="9.3" height="3.5" fill="#c01c10"/>
<rect x="425.9" y="216.7" width="9.3" height="5.6" fill="#e81e0c"/>
<rect x="425.9" y="222" width="9.3" height="34.3" fill="#fc1e08"/>
<rect x="425.9" y="256" width="9.3" height="5.3" fill="#fc3010"/>
<rect x="425.9" y="261" width="9.3" height="5.3" fill="#fc5014"/>
<rect x="425.9" y="266" width="9.3" height="4.3" fill="#fa7018"/>
<rect x="425.9" y="270" width="9.3" height="3.8" fill="#fa921e"/>
<rect x="425.9" y="273.5" width="9.3" height="3.5" fill="#f8c020"/>
<rect x="425.9" y="276.7" width="9.3" height="5.4" fill="#f2f020"/>
<rect x="425.9" y="281.8" width="9.3" height="2.5" fill="#d2f020"/>
<rect x="425.9" y="284" width="9.3" height="4.5" fill="#a2f020"/>
<rect x="425.9" y="288.2" width="9.3" height="17.9" fill="#14f014"/>
<rect x="425.9" y="305.8" width="9.3" height="3.5" fill="#22eab0"/>
<rect x="425.9" y="309" width="9.3" height="3.3" fill="#22f4f4"/>
<rect x="425.9" y="312" width="9.3" height="6.1" fill="#34e6fc"/>
<rect x="425.9" y="317.8" width="9.3" height="3.5" fill="#2ea2f2"/>
<rect x="425.9" y="321" width="9.3" height="3.3" fill="#2272f2"/>
<rect x="425.9" y="324" width="9.3" height="6" fill="#1a18f2"/>
<rect x="425.9" y="329.7" width="9.3" height="3.6" fill="#2014e8"/>
<rect x="425.9" y="333" width="9.3" height="3.3" fill="#6a12ee"/>
<rect x="425.9" y="336" width="9.3" height="3.5" fill="#ae1cf4"/>
<rect x="425.9" y="339.2" width="9.3" height="4.1" fill="#c626f2"/>
<rect x="425.9" y="343" width="9.3" height="3.8" fill="#b424d4"/>
<rect x="425.9" y="346.5" width="9.3" height="4.6" fill="#8e2a8e"/>
<text x="436.8" y="214.7" font-size="6.6" fill="#222" >High</text>
<text x="437.6" y="349.3" font-size="6.6" fill="#222" >Low</text>
<line x1="443.3" y1="222" x2="443.3" y2="342" stroke="#444" stroke-width="0.7" stroke-dasharray="1,1"/>
<polygon points="443.3,219 441.8,223.5 444.8,223.5" fill="#222" stroke="none" stroke-width="1" />
<text x="448.5" y="281.7" font-size="10.1" text-anchor="middle" fill="#222" transform="rotate(90 448.5 281.7)">Intensity (a.u.)</text>
<text x="226.9" y="209.2" font-size="22.3" fill="#000" >d</text>
<rect x="497.2" y="210.4" width="148" height="141.4" fill="#14f014"/>
<path fill="#a2f020" d="M497.2 210.4h142v4.04h-142zM497.2 214.44h143v27.27h-143zM497.2 241.71h144v6.06h-144zM497.2 247.77h148v104.03h-148z"/>
<path fill="#d2f020" d="M497.2 210.4h141v5.05h-141zM497.2 215.45h142v32.32h-142zM497.2 247.77h143v6.06h-143zM497.2 253.83h144v1.01h-144zM497.2 254.84h147v1.01h-147zM497.2 255.85h148v95.95h-148z"/>
<path fill="#f2f020" d="M497.2 210.4h141v37.37h-141zM497.2 247.77h142v12.12h-142zM497.2 259.89h143v2.02h-143zM497.2 261.91h143v1.01h-143zM642.2 261.91h1v1.01h-1zM497.2 262.92h148v88.88h-148z"/>
<path fill="#f6d82a" d="M497.2 210.4h132v10.1h-132zM497.2 220.5h131v12.12h-131zM497.2 232.62h131v8.08h-131zM632.2 232.62h1v8.08h-1zM497.2 240.7h130v17.17h-130zM632.2 240.7h1v17.17h-1zM497.2 257.87h130v4.04h-130zM497.2 261.91h129v4.04h-129zM497.2 265.95h128v2.02h-128zM497.2 267.97h127v1.01h-127zM497.2 268.98h127v1.01h-127zM642.2 268.98h1v1.01h-1zM497.2 269.99h126v1.01h-126zM641.2 269.99h4v1.01h-4zM497.2 271h126v1.01h-126zM640.2 271h5v1.01h-5zM497.2 272.01h126v6.06h-126zM639.2 272.01h6v6.06h-6zM497.2 278.07h126v14.14h-126zM638.2 278.07h7v14.14h-7zM497.2 292.21h121v5.05h-121zM621.2 292.21h2v5.05h-2zM638.2 292.21h7v5.05h-7zM497.2 297.26h120v11.11h-120zM621.2 297.26h2v11.11h-2zM638.2 297.26h7v11.11h-7zM497.2 308.37h120v6.06h-120zM622.2 308.37h1v6.06h-1zM638.2 308.37h7v6.06h-7zM497.2 314.43h121v8.08h-121zM638.2 314.43h7v8.08h-7zM497.2 322.51h122v5.05h-122zM638.2 322.51h7v5.05h-7zM497.2 327.56h122v7.07h-122zM639.2 327.56h6v7.07h-6zM497.2 334.63h123v7.07h-123zM638.2 334.63h7v7.07h-7zM497.2 341.7h126v10.1h-126zM638.2 341.7h7v10.1h-7z"/>
<path fill="#f8b41e" d="M514.2 210.4h1v8.08h-1zM521.2 210.4h106v8.08h-106zM521.2 218.48h106v11.11h-106zM521.2 229.59h105v9.09h-105zM521.2 238.68h104v8.08h-104zM521.2 246.76h103v5.05h-103zM521.2 251.81h102v6.06h-102zM521.2 257.87h101v8.08h-101zM521.2 265.95h100v1.01h-100zM521.2 266.96h99v2.02h-99zM521.2 268.98h98v1.01h-98zM521.2 269.99h97v1.01h-97zM521.2 271h95v1.01h-95zM521.2 272.01h94v4.04h-94zM521.2 276.05h94v1.01h-94zM642.2 276.05h1v1.01h-1zM521.2 277.06h93v1.01h-93zM641.2 277.06h3v1.01h-3zM521.2 278.07h93v5.05h-93zM641.2 278.07h4v5.05h-4zM522.2 283.12h92v6.06h-92zM641.2 283.12h4v6.06h-4zM522.2 289.18h91v3.03h-91zM641.2 289.18h4v3.03h-4zM523.2 292.21h84v1.01h-84zM641.2 292.21h4v1.01h-4zM523.2 293.22h84v3.03h-84zM640.2 293.22h5v3.03h-5zM523.2 296.25h83v2.02h-83zM640.2 296.25h5v2.02h-5zM523.2 298.27h49v2.02h-49zM573.2 298.27h33v2.02h-33zM640.2 298.27h5v2.02h-5zM524.2 300.29h48v3.03h-48zM573.2 300.29h33v3.03h-33zM640.2 300.29h5v3.03h-5zM524.2 303.32h48v5.05h-48zM573.2 303.32h32v5.05h-32zM640.2 303.32h5v5.05h-5zM525.2 308.37h47v4.04h-47zM573.2 308.37h32v4.04h-32zM640.2 308.37h5v4.04h-5zM525.2 312.41h47v2.02h-47zM573.2 312.41h31v2.02h-31zM641.2 312.41h4v2.02h-4zM526.2 314.43h46v1.01h-46zM573.2 314.43h31v1.01h-31zM641.2 314.43h4v1.01h-4zM526.2 315.44h45v2.02h-45zM573.2 315.44h31v2.02h-31zM641.2 315.44h4v2.02h-4zM526.2 317.46h45v1.01h-45zM573.2 317.46h30v1.01h-30zM641.2 317.46h4v1.01h-4zM526.2 318.47h45v1.01h-45zM574.2 318.47h29v1.01h-29zM527.2 319.48h44v2.02h-44zM574.2 319.48h28v2.02h-28zM527.2 321.5h44v3.03h-44zM574.2 321.5h27v3.03h-27zM528.2 324.53h42v4.04h-42zM574.2 324.53h26v4.04h-26zM528.2 328.57h41v1.01h-41zM574.2 328.57h26v1.01h-26zM529.2 329.58h40v1.01h-40zM574.2 329.58h25v1.01h-25zM529.2 330.59h39v3.03h-39zM574.2 330.59h25v3.03h-25zM530.2 333.62h38v1.01h-38zM574.2 333.62h25v1.01h-25zM530.2 334.63h38v2.02h-38zM575.2 334.63h24v2.02h-24zM531.2 336.65h37v2.02h-37zM575.2 336.65h24v2.02h-24zM531.2 338.67h38v1.01h-38zM575.2 338.67h24v1.01h-24zM532.2 339.68h37v3.03h-37zM575.2 339.68h24v3.03h-24zM533.2 342.71h36v3.03h-36zM575.2 342.71h24v3.03h-24zM534.2 345.74h35v2.02h-35zM575.2 345.74h24v2.02h-24zM534.2 347.76h35v1.01h-35zM576.2 347.76h23v1.01h-23zM535.2 348.77h34v3.03h-34zM576.2 348.77h23v3.03h-23z"/>
<path fill="#fa921e" d="M525.2 210.4h100v7.07h-100zM525.2 217.47h99v9.09h-99zM525.2 226.56h98v8.08h-98zM525.2 234.64h97v6.06h-97zM525.2 240.7h96v5.05h-96zM525.2 245.75h95v4.04h-95zM525.2 249.79h94v3.03h-94zM526.2 252.82h92v2.02h-92zM526.2 254.84h91v3.03h-91zM526.2 257.87h90v1.01h-90zM526.2 258.88h89v4.04h-89zM526.2 262.92h88v1.01h-88zM527.2 263.93h87v4.04h-87zM527.2 267.97h86v3.03h-86zM527.2 271h84v1.01h-84zM527.2 272.01h82v1.01h-82zM527.2 273.02h79v1.01h-79zM528.2 274.03h77v1.01h-77zM528.2 275.04h45v2.02h-45zM574.2 275.04h31v2.02h-31zM528.2 277.06h45v1.01h-45zM575.2 277.06h29v1.01h-29zM528.2 278.07h44v4.04h-44zM575.2 278.07h29v4.04h-29zM529.2 282.11h43v4.04h-43zM575.2 282.11h29v4.04h-29zM529.2 286.15h42v1.01h-42zM575.2 286.15h29v1.01h-29zM529.2 287.16h42v5.05h-42zM575.2 287.16h28v5.05h-28zM530.2 292.21h41v4.04h-41zM575.2 292.21h28v4.04h-28zM530.2 296.25h41v5.05h-41zM575.2 296.25h27v5.05h-27zM530.2 301.3h40v2.02h-40zM575.2 301.3h26v2.02h-26zM531.2 303.32h39v2.02h-39zM575.2 303.32h26v2.02h-26zM531.2 305.34h39v4.04h-39zM575.2 305.34h25v4.04h-25zM531.2 309.38h39v1.01h-39zM575.2 309.38h24v1.01h-24zM532.2 310.39h38v2.02h-38zM575.2 310.39h24v2.02h-24zM532.2 312.41h38v1.01h-38zM576.2 312.41h23v1.01h-23zM532.2 313.42h37v1.01h-37zM576.2 313.42h22v1.01h-22zM533.2 314.43h36v4.04h-36zM576.2 314.43h22v4.04h-22zM534.2 318.47h34v2.02h-34zM576.2 318.47h21v2.02h-21zM534.2 320.49h34v1.01h-34zM577.2 320.49h20v1.01h-20zM534.2 321.5h33v2.02h-33zM577.2 321.5h20v2.02h-20zM535.2 323.52h32v1.01h-32zM577.2 323.52h20v1.01h-20zM535.2 324.53h31v2.02h-31zM577.2 324.53h19v2.02h-19zM535.2 326.55h31v1.01h-31zM578.2 326.55h18v1.01h-18zM536.2 327.56h30v2.02h-30zM578.2 327.56h18v2.02h-18zM536.2 329.58h29v1.01h-29zM578.2 329.58h18v1.01h-18zM536.2 330.59h29v1.01h-29zM578.2 330.59h17v1.01h-17zM537.2 331.6h28v3.03h-28zM578.2 331.6h17v3.03h-17zM538.2 334.63h27v1.01h-27zM578.2 334.63h17v1.01h-17zM538.2 335.64h27v2.02h-27zM579.2 335.64h16v2.02h-16zM539.2 337.66h26v3.03h-26zM579.2 337.66h15v3.03h-15zM540.2 340.69h25v1.01h-25zM579.2 340.69h15v1.01h-15zM540.2 341.7h25v1.01h-25zM579.2 341.7h14v1.01h-14zM541.2 342.71h24v1.01h-24zM579.2 342.71h14v1.01h-14zM541.2 343.72h23v1.01h-23zM579.2 343.72h13v1.01h-13zM541.2 344.73h23v1.01h-23zM579.2 344.73h12v1.01h-12zM542.2 345.74h22v1.01h-22zM579.2 345.74h11v1.01h-11zM542.2 346.75h21v1.01h-21zM579.2 346.75h10v1.01h-10zM542.2 347.76h21v1.01h-21zM579.2 347.76h9v1.01h-9zM543.2 348.77h19v1.01h-19zM579.2 348.77h8v1.01h-8zM543.2 349.78h19v1.01h-19zM579.2 349.78h7v1.01h-7zM544.2 350.79h17v1.01h-17zM579.2 350.79h7v1.01h-7z"/>
<path fill="#fa7018" d="M531.2 210.4h85v4.04h-85zM620.2 210.4h2v4.04h-2zM531.2 214.44h85v1.01h-85zM621.2 214.44h1v1.01h-1zM531.2 215.45h85v31.31h-85zM531.2 246.76h84v3.03h-84zM531.2 249.79h83v3.03h-83zM531.2 252.82h82v1.01h-82zM532.2 253.83h81v2.02h-81zM532.2 255.85h80v2.02h-80zM532.2 257.87h79v1.01h-79zM532.2 258.88h78v1.01h-78zM532.2 259.89h77v2.02h-77zM533.2 261.91h75v1.01h-75zM533.2 262.92h73v1.01h-73zM533.2 263.93h72v3.03h-72zM533.2 266.96h71v2.02h-71zM533.2 268.98h40v1.01h-40zM574.2 268.98h30v1.01h-30zM533.2 269.99h40v1.01h-40zM575.2 269.99h29v1.01h-29zM534.2 271h38v2.02h-38zM575.2 271h28v2.02h-28zM534.2 273.02h37v2.02h-37zM576.2 273.02h27v2.02h-27zM534.2 275.04h36v2.02h-36zM576.2 275.04h26v2.02h-26zM534.2 277.06h35v1.01h-35zM576.2 277.06h26v1.01h-26zM535.2 278.07h34v2.02h-34zM576.2 278.07h26v2.02h-26zM535.2 280.09h34v7.07h-34zM576.2 280.09h25v7.07h-25zM535.2 287.16h34v3.03h-34zM576.2 287.16h24v3.03h-24zM535.2 290.19h34v3.03h-34zM577.2 290.19h23v3.03h-23zM536.2 293.22h33v5.05h-33zM577.2 293.22h23v5.05h-23zM536.2 298.27h33v4.04h-33zM577.2 298.27h22v4.04h-22zM536.2 302.31h32v1.01h-32zM577.2 302.31h21v1.01h-21zM536.2 303.32h32v1.01h-32zM577.2 303.32h20v1.01h-20zM536.2 304.33h32v2.02h-32zM577.2 304.33h19v2.02h-19zM536.2 306.35h32v1.01h-32zM578.2 306.35h17v1.01h-17zM537.2 307.36h31v3.03h-31zM578.2 307.36h17v3.03h-17zM537.2 310.39h30v2.02h-30zM578.2 310.39h17v2.02h-17zM538.2 312.41h29v1.01h-29zM578.2 312.41h16v1.01h-16zM538.2 313.42h29v1.01h-29zM579.2 313.42h15v1.01h-15zM538.2 314.43h28v2.02h-28zM579.2 314.43h15v2.02h-15zM539.2 316.45h27v2.02h-27zM579.2 316.45h15v2.02h-15zM539.2 318.47h27v1.01h-27zM579.2 318.47h14v1.01h-14zM540.2 319.48h25v4.04h-25zM579.2 319.48h14v4.04h-14zM541.2 323.52h24v4.04h-24zM580.2 323.52h13v4.04h-13zM542.2 327.56h22v2.02h-22zM580.2 327.56h12v2.02h-12zM542.2 329.58h22v2.02h-22zM581.2 329.58h11v2.02h-11zM543.2 331.6h21v3.03h-21zM581.2 331.6h10v3.03h-10zM544.2 334.63h19v2.02h-19zM581.2 334.63h9v2.02h-9zM544.2 336.65h19v1.01h-19zM582.2 336.65h8v1.01h-8zM545.2 337.66h18v1.01h-18zM582.2 337.66h7v1.01h-7zM545.2 338.67h17v1.01h-17zM582.2 338.67h7v1.01h-7zM545.2 339.68h17v1.01h-17zM582.2 339.68h6v1.01h-6zM546.2 340.69h16v1.01h-16zM582.2 340.69h6v1.01h-6zM546.2 341.7h15v1.01h-15zM582.2 341.7h5v1.01h-5zM547.2 342.71h14v1.01h-14zM582.2 342.71h5v1.01h-5zM547.2 343.72h13v1.01h-13zM583.2 343.72h4v1.01h-4zM547.2 344.73h13v1.01h-13zM583.2 344.73h3v1.01h-3zM548.2 345.74h11v1.01h-11zM583.2 345.74h3v1.01h-3zM548.2 346.75h10v1.01h-10zM585.2 346.75h1v1.01h-1zM549.2 347.76h8v2.02h-8zM550.2 349.78h6v2.02h-6z"/>
<path fill="#fc5014" d="M535.2 210.4h76v36.36h-76zM535.2 246.76h75v2.02h-75zM535.2 248.78h74v2.02h-74zM535.2 250.8h73v1.01h-73zM535.2 251.81h72v2.02h-72zM535.2 253.83h71v1.01h-71zM536.2 254.84h69v2.02h-69zM536.2 256.86h68v3.03h-68zM536.2 259.89h67v2.02h-67zM536.2 261.91h37v1.01h-37zM574.2 261.91h29v1.01h-29zM536.2 262.92h37v1.01h-37zM575.2 262.92h27v1.01h-27zM536.2 263.93h35v1.01h-35zM575.2 263.93h27v1.01h-27zM537.2 264.94h34v1.01h-34zM576.2 264.94h26v1.01h-26zM537.2 265.95h33v2.02h-33zM576.2 265.95h26v2.02h-26zM537.2 267.97h32v3.03h-32zM576.2 267.97h25v3.03h-25zM537.2 271h32v1.01h-32zM577.2 271h24v1.01h-24zM537.2 272.01h31v1.01h-31zM577.2 272.01h23v1.01h-23zM538.2 273.02h30v10.1h-30zM577.2 273.02h23v10.1h-23zM539.2 283.12h28v5.05h-28zM577.2 283.12h23v5.05h-23zM539.2 288.17h28v6.06h-28zM577.2 288.17h22v6.06h-22zM539.2 294.23h28v1.01h-28zM578.2 294.23h21v1.01h-21zM540.2 295.24h27v1.01h-27zM578.2 295.24h20v1.01h-20zM540.2 296.25h27v1.01h-27zM578.2 296.25h19v1.01h-19zM540.2 297.26h27v1.01h-27zM578.2 297.26h18v1.01h-18zM540.2 298.27h27v2.02h-27zM578.2 298.27h17v2.02h-17zM540.2 300.29h27v2.02h-27zM579.2 300.29h15v2.02h-15zM540.2 302.31h26v2.02h-26zM579.2 302.31h14v2.02h-14zM541.2 304.33h25v4.04h-25zM579.2 304.33h14v4.04h-14zM542.2 308.37h24v1.01h-24zM579.2 308.37h14v1.01h-14zM542.2 309.38h23v3.03h-23zM579.2 309.38h14v3.03h-14zM543.2 312.41h22v3.03h-22zM580.2 312.41h13v3.03h-13zM543.2 315.44h21v2.02h-21zM580.2 315.44h12v2.02h-12zM544.2 317.46h20v5.05h-20zM580.2 317.46h12v5.05h-12zM544.2 322.51h20v1.01h-20zM581.2 322.51h10v1.01h-10zM545.2 323.52h18v1.01h-18zM581.2 323.52h10v1.01h-10zM545.2 324.53h18v1.01h-18zM582.2 324.53h9v1.01h-9zM545.2 325.54h18v2.02h-18zM582.2 325.54h8v2.02h-8zM546.2 327.56h17v1.01h-17zM582.2 327.56h7v1.01h-7zM546.2 328.57h16v2.02h-16zM583.2 328.57h6v2.02h-6zM547.2 330.59h15v1.01h-15zM583.2 330.59h6v1.01h-6zM547.2 331.6h15v1.01h-15zM583.2 331.6h5v1.01h-5zM548.2 332.61h14v1.01h-14zM583.2 332.61h5v1.01h-5zM548.2 333.62h13v1.01h-13zM583.2 333.62h5v1.01h-5zM548.2 334.63h13v1.01h-13zM584.2 334.63h4v1.01h-4zM549.2 335.64h12v1.01h-12zM584.2 335.64h3v1.01h-3zM549.2 336.65h11v2.02h-11zM584.2 336.65h3v2.02h-3zM550.2 338.67h9v1.01h-9zM584.2 338.67h2v1.01h-2zM550.2 339.68h9v1.01h-9zM585.2 339.68h1v1.01h-1zM550.2 340.69h8v1.01h-8zM585.2 340.69h1v1.01h-1zM551.2 341.7h6v1.01h-6zM585.2 341.7h1v1.01h-1zM551.2 342.71h6v1.01h-6zM552.2 343.72h4v2.02h-4zM553.2 345.74h2v1.01h-2zM553.2 346.75h1v1.01h-1z"/>
<path fill="#fc3010" d="M537.2 210.4h70v22.22h-70zM537.2 232.62h69v12.12h-69zM537.2 244.74h68v2.02h-68zM537.2 246.76h67v2.02h-67zM537.2 248.78h66v3.03h-66zM537.2 251.81h65v4.04h-65zM537.2 255.85h34v1.01h-34zM572.2 255.85h1v1.01h-1zM575.2 255.85h26v1.01h-26zM538.2 256.86h32v2.02h-32zM576.2 256.86h25v2.02h-25zM538.2 258.88h31v2.02h-31zM576.2 258.88h25v2.02h-25zM538.2 260.9h30v5.05h-30zM577.2 260.9h23v5.05h-23zM539.2 265.95h28v4.04h-28zM577.2 265.95h23v4.04h-23zM540.2 269.99h27v8.08h-27zM577.2 269.99h23v8.08h-23zM540.2 278.07h26v3.03h-26zM577.2 278.07h22v3.03h-22zM540.2 281.1h26v3.03h-26zM578.2 281.1h21v3.03h-21zM541.2 284.13h25v4.04h-25zM578.2 284.13h21v4.04h-21zM541.2 288.17h25v1.01h-25zM578.2 288.17h20v1.01h-20zM541.2 289.18h25v1.01h-25zM578.2 289.18h18v1.01h-18zM541.2 290.19h25v1.01h-25zM578.2 290.19h17v1.01h-17zM541.2 291.2h25v1.01h-25zM579.2 291.2h15v1.01h-15zM541.2 292.21h25v2.02h-25zM579.2 292.21h14v2.02h-14zM542.2 294.23h23v4.04h-23zM579.2 294.23h14v4.04h-14zM543.2 298.27h22v1.01h-22zM579.2 298.27h14v1.01h-14zM543.2 299.28h22v2.02h-22zM580.2 299.28h13v2.02h-13zM544.2 301.3h21v1.01h-21zM580.2 301.3h13v1.01h-13zM544.2 302.31h21v1.01h-21zM580.2 302.31h12v1.01h-12zM544.2 303.32h20v7.07h-20zM580.2 303.32h12v7.07h-12zM545.2 310.39h19v2.02h-19zM580.2 310.39h12v2.02h-12zM545.2 312.41h18v2.02h-18zM580.2 312.41h12v2.02h-12zM545.2 314.43h18v2.02h-18zM580.2 314.43h11v2.02h-11zM546.2 316.45h17v1.01h-17zM581.2 316.45h10v1.01h-10zM546.2 317.46h17v1.01h-17zM582.2 317.46h9v1.01h-9zM546.2 318.47h16v1.01h-16zM582.2 318.47h8v1.01h-8zM546.2 319.48h16v1.01h-16zM583.2 319.48h6v1.01h-6zM547.2 320.49h15v2.02h-15zM583.2 320.49h6v2.02h-6zM548.2 322.51h14v1.01h-14zM583.2 322.51h5v1.01h-5zM549.2 323.52h12v3.03h-12zM584.2 323.52h4v3.03h-4zM550.2 326.55h10v5.05h-10zM584.2 326.55h3v5.05h-3zM551.2 331.6h8v1.01h-8zM585.2 331.6h2v1.01h-2zM551.2 332.61h8v1.01h-8zM585.2 332.61h1v1.01h-1zM551.2 333.62h7v1.01h-7zM585.2 333.62h1v1.01h-1zM552.2 334.63h6v1.01h-6zM585.2 334.63h1v1.01h-1zM552.2 335.64h5v2.02h-5zM585.2 335.64h1v2.02h-1zM553.2 337.66h3v1.01h-3zM585.2 337.66h1v1.01h-1zM553.2 338.67h3v1.01h-3zM554.2 339.68h1v1.01h-1z"/>
<path fill="#fc1e08" d="M538.2 210.4h63v3.03h-63zM605.2 210.4h1v3.03h-1zM538.2 213.43h63v34.34h-63zM538.2 247.77h32v1.01h-32zM572.2 247.77h29v1.01h-29zM538.2 248.78h32v1.01h-32zM572.2 248.78h1v1.01h-1zM575.2 248.78h25v1.01h-25zM538.2 249.79h31v1.01h-31zM576.2 249.79h24v1.01h-24zM538.2 250.8h30v2.02h-30zM577.2 250.8h23v2.02h-23zM539.2 252.82h28v1.01h-28zM577.2 252.82h23v1.01h-23zM540.2 253.83h27v3.03h-27zM577.2 253.83h23v3.03h-23zM540.2 256.86h26v2.02h-26zM577.2 256.86h22v2.02h-22zM541.2 258.88h25v19.19h-25zM578.2 258.88h21v19.19h-21zM541.2 278.07h24v2.02h-24zM578.2 278.07h21v2.02h-21zM542.2 280.09h23v2.02h-23zM578.2 280.09h21v2.02h-21zM542.2 282.11h23v1.01h-23zM578.2 282.11h17v1.01h-17zM542.2 283.12h23v2.02h-23zM579.2 283.12h14v2.02h-14zM543.2 285.14h22v1.01h-22zM580.2 285.14h13v1.01h-13zM544.2 286.15h21v1.01h-21zM580.2 286.15h12v1.01h-12zM544.2 287.16h20v3.03h-20zM580.2 287.16h12v3.03h-12zM545.2 290.19h19v2.02h-19zM580.2 290.19h12v2.02h-12zM545.2 292.21h18v9.09h-18zM580.2 292.21h12v9.09h-12zM546.2 301.3h17v1.01h-17zM580.2 301.3h12v1.01h-12zM546.2 302.31h17v6.06h-17zM580.2 302.31h11v6.06h-11zM546.2 308.37h16v1.01h-16zM580.2 308.37h11v1.01h-11zM546.2 309.38h16v1.01h-16zM581.2 309.38h10v1.01h-10zM546.2 310.39h16v1.01h-16zM583.2 310.39h6v1.01h-6zM548.2 311.4h14v1.01h-14zM583.2 311.4h5v1.01h-5zM549.2 312.41h12v1.01h-12zM584.2 312.41h4v1.01h-4zM550.2 313.42h10v1.01h-10zM584.2 313.42h3v1.01h-3zM551.2 314.43h8v2.02h-8zM585.2 314.43h2v2.02h-2zM551.2 316.45h8v1.01h-8zM585.2 316.45h1v1.01h-1zM552.2 317.46h6v4.04h-6zM585.2 317.46h1v4.04h-1zM552.2 321.5h5v1.01h-5zM585.2 321.5h1v1.01h-1zM553.2 322.51h4v9.09h-4zM585.2 322.51h1v9.09h-1zM553.2 331.6h3v1.01h-3zM585.2 331.6h1v1.01h-1zM554.2 332.61h2v1.01h-2zM585.2 332.61h1v1.01h-1zM554.2 333.62h1v1.01h-1z"/>
<path fill="#e01c0c" d="M553.2 210.4h14v5.05h-14zM583.2 210.4h3v5.05h-3zM553.2 215.45h14v14.14h-14zM584.2 215.45h2v14.14h-2zM553.2 229.59h13v11.11h-13zM584.2 229.59h2v11.11h-2zM553.2 240.7h12v7.07h-12zM584.2 240.7h2v7.07h-2zM553.2 247.77h12v3.03h-12zM554.2 250.8h10v11.11h-10zM555.2 261.91h8v3.03h-8zM556.2 264.94h7v2.02h-7zM557.2 266.96h6v1.01h-6zM557.2 267.97h5v1.01h-5zM558.2 268.98h4v1.01h-4zM561.2 269.99h1v1.01h-1z"/>
<path fill="#c01a10" d="M556.2 210.4h10v12.12h-10zM556.2 222.52h9v10.1h-9zM556.2 232.62h8v7.07h-8zM557.2 239.69h6v7.07h-6zM557.2 246.76h5v2.02h-5zM558.2 248.78h4v4.04h-4zM559.2 252.82h3v1.01h-3zM560.2 253.83h2v1.01h-2z"/>
<path fill="#a01610" d="M559.2 210.4h6v8.08h-6zM559.2 218.48h5v1.01h-5zM560.2 219.49h4v7.07h-4zM560.2 226.56h3v2.02h-3zM561.2 228.58h2v2.02h-2zM561.2 230.6h1v4.04h-1z"/>
<path fill="#8a1410" d="M562.2 210.4h2v3.03h-2zM562.2 213.43h1v1.01h-1z"/>
<rect x="497.2" y="210.4" width="148" height="141.4" fill="none" stroke="#333" stroke-width="1"/>
<line x1="497.2" y1="351.8" x2="497.2" y2="354.4" stroke="#333" stroke-width="0.8" />
<text x="497.2" y="362" font-size="7.6" text-anchor="middle" fill="#222" >2000</text>
<line x1="515.7" y1="351.8" x2="515.7" y2="353.4" stroke="#333" stroke-width="0.8" />
<line x1="534.2" y1="351.8" x2="534.2" y2="354.4" stroke="#333" stroke-width="0.8" />
<text x="534.2" y="362" font-size="7.6" text-anchor="middle" fill="#222" >1800</text>
<line x1="552.7" y1="351.8" x2="552.7" y2="353.4" stroke="#333" stroke-width="0.8" />
<line x1="571.2" y1="351.8" x2="571.2" y2="354.4" stroke="#333" stroke-width="0.8" />
<text x="571.2" y="362" font-size="7.6" text-anchor="middle" fill="#222" >1600</text>
<line x1="589.7" y1="351.8" x2="589.7" y2="353.4" stroke="#333" stroke-width="0.8" />
<line x1="608.2" y1="351.8" x2="608.2" y2="354.4" stroke="#333" stroke-width="0.8" />
<text x="608.2" y="362" font-size="7.6" text-anchor="middle" fill="#222" >1400</text>
<line x1="626.7" y1="351.8" x2="626.7" y2="353.4" stroke="#333" stroke-width="0.8" />
<line x1="645.2" y1="351.8" x2="645.2" y2="354.4" stroke="#333" stroke-width="0.8" />
<text x="645.2" y="362" font-size="7.6" text-anchor="middle" fill="#222" >1200</text>
<text x="571.2" y="375.6" font-size="10.25" text-anchor="middle" fill="#222" >Wavenumber (cm<tspan font-size="6.3" dy="-3.7">-1</tspan><tspan dy="3.7">)</tspan></text>
<text x="495.2" y="216.1" font-size="7.4" text-anchor="end" fill="#222" >-1.0</text>
<text x="496.4" y="350.7" font-size="7.7" text-anchor="end" fill="#222" >OCP</text>
<line x1="488.7" y1="222" x2="488.7" y2="342.6" stroke="#555" stroke-width="0.9" stroke-dasharray="1.1,1.1"/>
<polygon points="488.7,219.2 487.4,223.6 490,223.6" fill="#222" stroke="none" stroke-width="1" />
<text x="478.9" y="281.6" font-size="10.3" text-anchor="middle" fill="#222" transform="rotate(-90 478.9 281.6)">Potential (V vs. RHE)</text>
<text x="538.1" y="200.6" font-size="5.9" fill="#6464f4" font-weight="bold">NO<tspan font-size="4.0" dy="1.5">2</tspan></text>
<line x1="545.9" y1="202.3" x2="545.9" y2="207" stroke="#6464f4" stroke-width="0.7" />
<polygon points="545.9,209.3 544.6,206 547.2,206" fill="#6464f4" stroke="none" stroke-width="1" />
<text x="549.2" y="200.6" font-size="5.9" fill="#f41818" font-weight="bold">NO<tspan font-size="4.0" dy="1.5">3</tspan></text>
<line x1="555.4" y1="202.3" x2="555.4" y2="207" stroke="#f41818" stroke-width="0.7" />
<polygon points="555.4,209.3 554.1,206 556.7,206" fill="#f41818" stroke="none" stroke-width="1" />
<text x="560.4" y="200.6" font-size="5.9" fill="#1cc89a" font-weight="bold">H<tspan font-size="4.0" dy="1.5">2</tspan><tspan dy="-1.5">O</tspan></text>
<line x1="562" y1="202.3" x2="562" y2="207" stroke="#1cc89a" stroke-width="0.7" />
<polygon points="562,209.3 560.7,206 563.3,206" fill="#1cc89a" stroke="none" stroke-width="1" />
<text x="579.6" y="200.6" font-size="5.9" fill="#f8845a" font-weight="bold">NH<tspan font-size="4.0" dy="1.5">2</tspan></text>
<line x1="584.2" y1="202.3" x2="584.2" y2="207" stroke="#f8845a" stroke-width="0.7" />
<polygon points="584.2,209.3 582.9,206 585.5,206" fill="#f8845a" stroke="none" stroke-width="1" />
<text x="591.4" y="200.6" font-size="5.9" fill="#f46078" font-weight="bold">NH<tspan font-size="4.0" dy="1.5">4</tspan><tspan font-size="4.0" dy="-4">+</tspan></text>
<line x1="596.4" y1="202.3" x2="596.4" y2="207" stroke="#f46078" stroke-width="0.7" />
<polygon points="596.4,209.3 595.1,206 597.7,206" fill="#f46078" stroke="none" stroke-width="1" />
<text x="605" y="201.6" font-size="5.9" fill="#f8845a" font-weight="bold">NH<tspan font-size="4.0" dy="1.5">x</tspan></text>
<line x1="606.5" y1="202.3" x2="606.5" y2="207" stroke="#f8845a" stroke-width="0.7" />
<polygon points="606.5,209.3 605.2,206 607.8,206" fill="#f8845a" stroke="none" stroke-width="1" />
<text x="461.6" y="209.4" font-size="22.3" fill="#000" >f</text>
<text x="-0.8" y="397.2" font-size="22.3" fill="#000" >g</text>
<path d="M12.24,463.6 A18.8,19.8 0 1 1 47.26,463.6 Z" fill="#f8eda2"/><path d="M13.82,462 A16.8,17.6 0 1 1 45.68,462 Z" fill="#c4aeba"/>
<path d="M54.24,463.6 A18.8,19.8 0 1 1 89.26,463.6 Z" fill="#f8eda2"/><path d="M55.82,462 A16.8,17.6 0 1 1 87.68,462 Z" fill="#fa6a3c"/>
<text x="29.1" y="457.2" font-size="13.9" text-anchor="middle" fill="#111" >Pt</text>
<text x="71.6" y="457.2" font-size="13.9" text-anchor="middle" fill="#111" >Fe</text>
<text x="49.7" y="477.6" font-size="13.9" text-anchor="middle" fill="#111" >Dual-site</text>
<text x="147.3" y="425.5" font-size="11" text-anchor="middle" fill="#9a38bb" >Operated under</text>
<text x="147.3" y="438.4" font-size="11" text-anchor="middle" fill="#9a38bb" >NORR conditions</text>
<line x1="103.5" y1="449.7" x2="186.3" y2="449.7" stroke="#000" stroke-width="1.5" /><polygon points="190.3,449.7 184.8,447 184.8,452.4" fill="#000" stroke="none" stroke-width="1" />
<path d="M202.34,463.3 A18.8,19.8 0 1 1 237.36,463.3 Z" fill="#f8eda2"/><path d="M203.92,461.7 A16.8,17.6 0 1 1 235.78,461.7 Z" fill="#c4aeba"/>
<path d="M243.61,464.2 A20.3,21.4 0 1 1 281.19,464.2 Z" fill="#f8eda2" filter="url(#blur2)"/><path d="M244.89,463.3 A18.8,19.8 0 1 1 279.91,463.3 Z" fill="#f8eda2"/><path d="M246.47,461.7 A16.8,17.6 0 1 1 278.33,461.7 Z" fill="#fa6a3c"/>
<text x="219.3" y="456.9" font-size="13.9" text-anchor="middle" fill="#111" >Pt</text>
<text x="262.4" y="456.9" font-size="13.9" text-anchor="middle" fill="#111" >Fe</text>
<circle cx="215.8" cy="393.6" r="3.3" fill="#7f7f7f"/>
<circle cx="228.7" cy="387.9" r="3.3" fill="#7f7f7f"/>
<circle cx="224" cy="395.4" r="4.9" fill="#f01010"/>
<path d="M224.2,400.5 C224.6,404 226.5,406 225.8,409.5" fill="none" stroke="#222" stroke-width="1"/>
<path d="M225.8,409.5 C223,410.5 220.5,412 218.8,414.5" fill="none" stroke="#222" stroke-width="1"/>
<polygon points="217.2,417.6 217.2,413.2 220.6,415.2" fill="#222" stroke="none" stroke-width="1" />
<path d="M225.8,409.5 C229,410 230.6,412 231,414.8" fill="none" stroke="#222" stroke-width="1"/>
<polygon points="231.2,418.4 229.2,414.4 233,414.4" fill="#222" stroke="none" stroke-width="1" />
<text x="199.8" y="423.4" font-size="9" fill="#111" >OH</text>
<text x="231.6" y="433.3" font-size="9" fill="#111" >H</text>
<circle cx="204.3" cy="429.2" r="3.4" fill="#7f7f7f"/>
<circle cx="211.3" cy="434.5" r="4.9" fill="#f01010"/>
<circle cx="231.4" cy="437.6" r="3.4" fill="#7f7f7f"/>
<text x="233" y="476.8" font-size="13.9" text-anchor="middle" fill="#111" >Valence decrease</text>
<text x="233.2" y="494.8" font-size="13.9" text-anchor="middle" fill="#111" >(<tspan font-style="italic">In situ</tspan> XANES)</text>
<line x1="218.8" y1="534.8" x2="218.8" y2="501.7" stroke="#000" stroke-width="1.5" /><polygon points="218.8,497.7 216.1,503.2 221.5,503.2" fill="#000" stroke="none" stroke-width="1" />
<text x="215.9" y="551.2" font-size="13.9" text-anchor="middle" fill="#111" >·H signal increase</text>
<text x="215.9" y="567.8" font-size="13.9" text-anchor="middle" fill="#111" >(<tspan font-style="italic">Ex-situ</tspan> EPR)</text>
<text x="339.1" y="425.3" font-size="11" text-anchor="middle" fill="#9a38bb" >Operated under</text>
<text x="339.1" y="437.8" font-size="11" text-anchor="middle" fill="#9a38bb" >NORR conditions</text>
<line x1="295.2" y1="450.1" x2="378.2" y2="450.1" stroke="#000" stroke-width="1.5" /><polygon points="382.2,450.1 376.7,447.4 376.7,452.8" fill="#000" stroke="none" stroke-width="1" />
<line x1="436.1" y1="444.3" x2="447.8" y2="448.2" stroke="#222" stroke-width="0.9" />
<line x1="447.8" y1="431.9" x2="454.3" y2="439.2" stroke="#222" stroke-width="0.9" />
<line x1="464.6" y1="428.2" x2="464.6" y2="436.3" stroke="#222" stroke-width="0.9" />
<line x1="480.6" y1="431.9" x2="474" y2="439.2" stroke="#222" stroke-width="0.9" />
<line x1="485" y1="447.2" x2="480.6" y2="449.1" stroke="#222" stroke-width="0.9" />
<path d="M396.89,461.5 A18.8,19.8 0 1 1 431.91,461.5 Z" fill="#f8eda2"/><path d="M398.47,459.9 A16.8,17.6 0 1 1 430.33,459.9 Z" fill="#c4aeba"/>
<path d="M445.51,462.4 A20.3,21.4 0 1 1 483.09,462.4 Z" fill="#f8eda2" filter="url(#blur2)"/><path d="M446.79,461.5 A18.8,19.8 0 1 1 481.81,461.5 Z" fill="#f8eda2"/><path d="M448.37,459.9 A16.8,17.6 0 1 1 480.23,459.9 Z" fill="#fa6a3c"/>
<text x="412.4" y="455.5" font-size="13.9" text-anchor="middle" fill="#111" >Pt</text>
<text x="464.6" y="455.5" font-size="13.9" text-anchor="middle" fill="#111" >Fe</text>
<circle cx="398.6" cy="429" r="3.4" fill="#7f7f7f"/>
<circle cx="405.6" cy="433" r="4.7" fill="#f01010"/>
<circle cx="427" cy="436" r="3.4" fill="#7f7f7f"/>
<text x="432" y="477.2" font-size="13.9" text-anchor="middle" fill="#111" >Coordination number increase</text>
<text x="432.6" y="494.8" font-size="13.9" text-anchor="middle" fill="#111" >(<tspan font-style="italic">In situ</tspan> FT-EXAFS)</text>
<line x1="430.4" y1="535.7" x2="430.4" y2="503.2" stroke="#000" stroke-width="1.5" /><polygon points="430.4,499.2 427.7,504.7 433.1,504.7" fill="#000" stroke="none" stroke-width="1" />
<text x="382.7" y="515.6" font-size="11" text-anchor="middle" fill="#9a38bb" >Operated under</text>
<text x="382.7" y="528.4" font-size="11" text-anchor="middle" fill="#9a38bb" >NORR conditions</text>
<text x="442.3" y="551.2" font-size="13.9" text-anchor="middle" fill="#111" >Reaction intermediates increase (e.g. NO, NH<tspan font-size="9" dy="3">x</tspan><tspan dy="-3">)</tspan></text>
<text x="443" y="567.8" font-size="13.9" text-anchor="middle" fill="#111" >(<tspan font-style="italic">In situ</tspan> ATR-IR)</text>
<text x="549.2" y="427.1" font-size="12" text-anchor="middle" fill="#1fd57a" >Activating cascade</text>
<text x="549.2" y="441.2" font-size="12" text-anchor="middle" fill="#1fd57a" >mechanism</text>
<line x1="498.9" y1="450.6" x2="590.9" y2="450.6" stroke="#000" stroke-width="1.5" /><polygon points="594.9,450.6 589.4,447.9 589.4,453.3" fill="#000" stroke="none" stroke-width="1" />
<text x="642.6" y="445.9" font-size="13.9" text-anchor="middle" fill="#111" >High NORR</text>
<text x="642.6" y="462.2" font-size="13.9" text-anchor="middle" fill="#111" >performance</text>
</svg></body></html>
